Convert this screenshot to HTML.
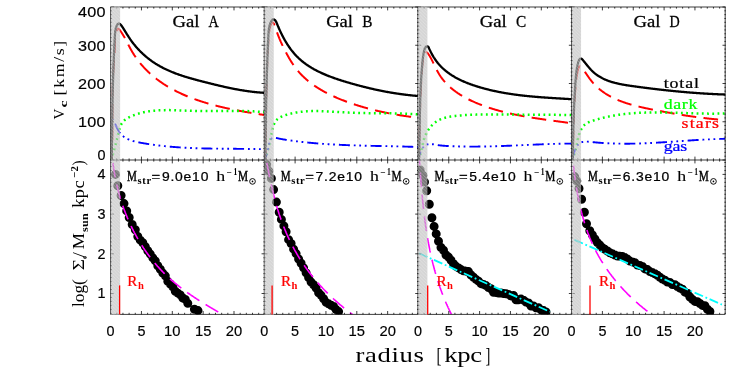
<!DOCTYPE html>
<html><head><meta charset="utf-8"><title>Rotation curves</title>
<style>html,body{margin:0;padding:0;background:#fff;}svg{display:block;}#w{width:739px;height:370px;will-change:transform;overflow:hidden;}</style></head>
<body>
<div id="w">
<svg width="739" height="370" viewBox="0 0 739 370">
<rect width="739" height="370" fill="#fff"/>
<defs>
<clipPath id="ct0"><rect x="110.60" y="7.00" width="153.65" height="153.00"/></clipPath>
<clipPath id="cb0"><rect x="110.60" y="160.00" width="153.65" height="154.40"/></clipPath>
<clipPath id="ct1"><rect x="264.25" y="7.00" width="153.65" height="153.00"/></clipPath>
<clipPath id="cb1"><rect x="264.25" y="160.00" width="153.65" height="154.40"/></clipPath>
<clipPath id="ct2"><rect x="417.90" y="7.00" width="153.65" height="153.00"/></clipPath>
<clipPath id="cb2"><rect x="417.90" y="160.00" width="153.65" height="154.40"/></clipPath>
<clipPath id="ct3"><rect x="571.55" y="7.00" width="153.65" height="153.00"/></clipPath>
<clipPath id="cb3"><rect x="571.55" y="160.00" width="153.65" height="154.40"/></clipPath>
<pattern id="hat" width="3.4" height="3.4" patternUnits="userSpaceOnUse"><path d="M-1 -1L4.4 4.4M-1 2.4L1 4.4M2.4 -1L4.4 1" stroke="#fff" stroke-width="0.7" stroke-opacity="0.35"/></pattern>
</defs>
<g clip-path="url(#ct0)">
<polyline points="111.70,160.00 111.73,159.39 111.76,158.78 111.79,158.18 111.82,157.57 111.85,156.96 111.87,156.35 111.90,155.74 111.92,155.12 111.95,154.51 111.97,153.90 111.99,153.29 112.02,152.67 112.04,152.06 112.06,151.44 112.08,150.83 112.10,150.21 112.11,149.59 112.13,148.97 112.15,148.36 112.16,147.74 112.18,147.12 112.19,146.50 112.21,145.88 112.22,145.26 112.23,144.64 112.24,144.02 112.26,143.40 112.27,142.77 112.28,142.15 112.29,141.53 112.30,140.90 112.31,140.28 112.31,139.66 112.32,139.03 112.33,138.41 112.34,137.78 112.34,137.16 112.35,136.53 112.35,135.90 112.36,135.28 112.37,134.65 112.37,134.02 112.37,133.40 112.38,132.77 112.38,132.14 112.38,131.51 112.39,130.88 112.39,130.25 112.39,129.62 112.39,129.00 112.40,128.37 112.40,127.74 112.40,127.11 112.40,126.48 112.40,125.85 112.40,125.21 112.40,124.58 112.40,123.95 112.40,123.32 112.40,122.69 112.40,122.06 112.40,121.43 112.40,120.80 112.40,120.16 112.40,119.53 112.40,118.90 112.40,118.27 112.40,117.64 112.40,117.01 112.40,116.37 112.40,115.74 112.40,115.11 112.40,114.48 112.40,113.85 112.40,113.21 112.40,112.58 112.40,111.95 112.40,111.32 112.40,110.69 112.40,110.05 112.40,109.42 112.40,108.79 112.40,108.16 112.41,107.53 112.41,106.89 112.41,106.26 112.41,105.63 112.41,105.00 112.42,104.37 112.42,103.74 112.42,103.11 112.43,102.48 112.43,101.85 112.43,101.22 112.44,100.59 112.44,99.96 112.45,99.33 112.45,98.70 112.46,98.07 112.47,97.44 112.47,96.81 112.48,96.18 112.49,95.55 112.50,94.93 112.51,94.30 112.52,93.67 112.53,93.04 112.54,92.42 112.55,91.79 112.56,91.17 112.57,90.54 112.58,89.91 112.60,89.29 112.61,88.66 112.63,88.04 112.64,87.42 112.66,86.79 112.67,86.17 112.69,85.55 112.71,84.92 112.73,84.30 112.75,83.68 112.77,83.06 112.79,82.44 112.81,81.82 112.83,81.20 112.86,80.58 112.88,79.96 112.91,79.34 112.93,78.73 112.96,78.11 112.99,77.49 113.01,76.88 113.04,76.26 113.07,75.65 113.11,75.03 113.14,74.42 113.17,73.81 113.21,73.19 113.24,72.58 113.28,71.97 113.31,71.36 113.35,70.75 113.39,70.14 113.43,69.53 113.47,68.92 113.51,68.32 113.56,67.71 113.60,67.10 113.65,66.50 113.69,65.89 113.74,65.28 113.78,64.68 113.83,64.07 113.87,63.46 113.92,62.86 113.97,62.25 114.01,61.64 114.06,61.03 114.11,60.42 114.15,59.81 114.20,59.20 114.24,58.59 114.29,57.98 114.33,57.37 114.38,56.75 114.42,56.13 114.46,55.52 114.50,54.90 114.54,54.28 114.58,53.66 114.62,53.03 114.66,52.41 114.69,51.78 114.73,51.15 114.76,50.52 114.79,49.88 114.82,49.25 114.85,48.61 114.87,47.97 114.90,47.33 114.92,46.68 114.94,46.03 114.96,45.38 114.97,44.73 114.98,44.07 114.99,43.41 115.00,42.75 115.01,42.08 115.01,41.41 115.02,40.74 115.03,40.07 115.05,39.40 115.07,38.74 115.10,38.07 115.14,37.41 115.19,36.75 115.26,36.09 115.33,35.44 115.43,34.79 115.54,34.15 115.67,33.52 115.83,32.90 116.01,32.28 116.21,31.67 116.43,31.08 116.69,30.49 116.97,29.93 117.28,29.42 117.61,29.02 117.95,28.77 118.29,28.71 118.64,28.87 118.99,29.19 119.34,29.58 119.68,29.99 120.02,30.41 120.35,30.85 120.68,31.29 121.01,31.75 121.34,32.22 121.66,32.69 121.97,33.18 122.29,33.67 122.60,34.17 122.91,34.68 123.22,35.20 123.53,35.72 123.83,36.25 124.14,36.79 124.44,37.33 124.74,37.88 125.04,38.44 125.34,39.00 125.64,39.56 125.94,40.12 126.23,40.70 126.53,41.27 126.83,41.84 127.13,42.42 127.43,43.00 127.73,43.58 128.03,44.17 128.33,44.75 128.64,45.33 128.94,45.92 129.25,46.50 129.56,47.08 129.87,47.66 130.18,48.24 130.50,48.82 130.81,49.39 131.13,49.96 131.46,50.53 131.79,51.09 132.12,51.65 132.45,52.21 132.79,52.76 133.13,53.31 133.47,53.86 133.82,54.40 134.16,54.94 134.52,55.48 134.87,56.01 135.23,56.54 135.59,57.06 135.95,57.59 136.32,58.10 136.69,58.62 137.06,59.13 137.44,59.64 137.81,60.15 138.20,60.65 138.58,61.15 138.97,61.64 139.36,62.14 139.75,62.62 140.14,63.11 140.54,63.59 140.94,64.07 141.34,64.55 141.75,65.02 142.16,65.49 142.57,65.96 142.98,66.42 143.40,66.88 143.82,67.34 144.24,67.80 144.66,68.25 145.09,68.69 145.52,69.14 145.95,69.58 146.38,70.02 146.82,70.46 147.26,70.89 147.70,71.32 148.14,71.75 148.59,72.17 149.04,72.59 149.49,73.01 149.94,73.43 150.40,73.84 150.85,74.25 151.31,74.65 151.78,75.06 152.24,75.46 152.71,75.86 153.18,76.25 153.65,76.64 154.12,77.03 154.60,77.42 155.08,77.80 155.56,78.18 156.04,78.56 156.52,78.94 157.01,79.31 157.50,79.68 157.99,80.05 158.48,80.41 158.98,80.77 159.47,81.13 159.97,81.49 160.47,81.84 160.98,82.19 161.48,82.54 161.99,82.89 162.50,83.23 163.01,83.57 163.52,83.91 164.03,84.25 164.55,84.58 165.07,84.91 165.59,85.24 166.11,85.56 166.63,85.89 167.16,86.21 167.68,86.53 168.21,86.84 168.74,87.15 169.28,87.47 169.81,87.77 170.34,88.08 170.88,88.38 171.42,88.69 171.96,88.98 172.50,89.28 173.05,89.57 173.59,89.87 174.14,90.16 174.69,90.44 175.24,90.73 175.79,91.01 176.34,91.29 176.89,91.57 177.45,91.85 178.01,92.12 178.57,92.39 179.12,92.66 179.69,92.93 180.25,93.19 180.81,93.46 181.38,93.72 181.94,93.98 182.51,94.23 183.08,94.49 183.65,94.74 184.22,94.99 184.80,95.24 185.37,95.48 185.95,95.73 186.52,95.97 187.10,96.21 187.68,96.45 188.26,96.68 188.84,96.92 189.42,97.15 190.01,97.38 190.59,97.61 191.18,97.84 191.76,98.06 192.35,98.28 192.94,98.50 193.53,98.72 194.12,98.94 194.71,99.16 195.30,99.37 195.89,99.58 196.49,99.79 197.08,100.00 197.68,100.20 198.28,100.41 198.87,100.61 199.47,100.81 200.07,101.01 200.67,101.21 201.27,101.40 201.87,101.60 202.47,101.79 203.08,101.98 203.68,102.17 204.28,102.36 204.89,102.54 205.49,102.73 206.10,102.91 206.71,103.09 207.31,103.27 207.92,103.45 208.53,103.63 209.14,103.80 209.75,103.98 210.36,104.15 210.97,104.32 211.58,104.49 212.19,104.66 212.80,104.82 213.42,104.99 214.03,105.15 214.64,105.31 215.26,105.47 215.87,105.63 216.48,105.79 217.10,105.94 217.71,106.10 218.33,106.25 218.94,106.41 219.56,106.56 220.18,106.71 220.79,106.86 221.41,107.00 222.02,107.15 222.64,107.29 223.26,107.44 223.87,107.58 224.49,107.72 225.11,107.86 225.73,108.00 226.34,108.14 226.96,108.27 227.58,108.41 228.20,108.54 228.81,108.68 229.43,108.81 230.05,108.94 230.67,109.07 231.28,109.20 231.90,109.32 232.52,109.45 233.13,109.58 233.75,109.70 234.37,109.83 234.99,109.95 235.60,110.07 236.22,110.19 236.83,110.31 237.45,110.43 238.07,110.55 238.68,110.67 239.30,110.78 239.91,110.90 240.52,111.01 241.14,111.13 241.75,111.24 242.37,111.35 242.98,111.46 243.59,111.57 244.20,111.68 244.82,111.79 245.43,111.90 246.04,112.01 246.65,112.11 247.26,112.22 247.87,112.32 248.48,112.43 249.08,112.53 249.69,112.64 250.30,112.74 250.91,112.84 251.51,112.94 252.12,113.04 252.72,113.14 253.33,113.24 253.93,113.34 254.53,113.44 255.13,113.54 255.73,113.63 256.34,113.73 256.93,113.83 257.53,113.92 258.13,114.02 258.73,114.11 259.33,114.21 259.92,114.30 260.52,114.40 261.11,114.49 261.70,114.58 262.29,114.67 262.89,114.77 263.48,114.86 264.06,114.95" fill="none" stroke="#ff0000" stroke-width="2.0" stroke-dasharray="14.7 7.3" stroke-dashoffset="2.79" stroke-linecap="butt" stroke-linejoin="round" />
<polyline points="110.95,160.03 111.08,159.67 111.20,159.32 111.32,158.96 111.45,158.61 111.57,158.26 111.69,157.91 111.81,157.55 111.93,157.20 112.05,156.85 112.16,156.50 112.28,156.15 112.39,155.80 112.50,155.45 112.62,155.10 112.73,154.75 112.84,154.40 112.95,154.05 113.06,153.70 113.16,153.35 113.27,153.00 113.38,152.65 113.48,152.30 113.59,151.95 113.69,151.60 113.79,151.25 113.90,150.90 114.00,150.55 114.10,150.20 114.20,149.85 114.30,149.50 114.40,149.15 114.49,148.80 114.59,148.45 114.69,148.10 114.78,147.75 114.88,147.40 114.97,147.05 115.07,146.70 115.16,146.35 115.25,145.99 115.35,145.64 115.44,145.29 115.53,144.93 115.62,144.58 115.71,144.22 115.80,143.87 115.89,143.51 115.98,143.16 116.07,142.80 116.16,142.44 116.25,142.09 116.34,141.73 116.43,141.37 116.51,141.01 116.60,140.65 116.69,140.29 116.78,139.93 116.86,139.56 116.95,139.20 117.03,138.84 117.12,138.47 117.21,138.11 117.29,137.74 117.38,137.37 117.46,137.01 117.55,136.64 117.64,136.27 117.72,135.90 117.81,135.52 117.89,135.15 117.98,134.78 118.06,134.40 118.15,134.03 118.23,133.65 118.32,133.27 118.41,132.89 118.50,132.52 118.59,132.14 118.68,131.76 118.77,131.39 118.86,131.01 118.96,130.63 119.06,130.26 119.16,129.89 119.26,129.52 119.37,129.15 119.48,128.78 119.59,128.42 119.70,128.06 119.82,127.70 119.95,127.34 120.07,126.99 120.21,126.64 120.34,126.29 120.48,125.95 120.63,125.61 120.78,125.27 120.94,124.94 121.10,124.62 121.26,124.30 121.44,123.98 121.62,123.67 121.80,123.37 121.99,123.07 122.19,122.77 122.40,122.49 122.61,122.20 122.83,121.93 123.06,121.66 123.30,121.40 123.54,121.14 123.78,120.89 124.04,120.65 124.30,120.41 124.57,120.18 124.84,119.95 125.11,119.73 125.40,119.51 125.68,119.30 125.98,119.10 126.27,118.89 126.57,118.70 126.88,118.50 127.19,118.31 127.50,118.13 127.81,117.95 128.13,117.77 128.45,117.60 128.78,117.43 129.10,117.26 129.43,117.10 129.76,116.94 130.09,116.78 130.43,116.62 130.76,116.47 131.10,116.32 131.43,116.18 131.77,116.03 132.11,115.89 132.44,115.75 132.78,115.61 133.12,115.47 133.46,115.34 133.80,115.21 134.14,115.08 134.48,114.95 134.83,114.82 135.17,114.70 135.51,114.58 135.86,114.46 136.20,114.34 136.54,114.22 136.89,114.11 137.24,114.00 137.58,113.89 137.93,113.78 138.28,113.68 138.62,113.57 138.97,113.47 139.32,113.37 139.67,113.27 140.02,113.18 140.37,113.08 140.72,112.99 141.07,112.90 141.42,112.81 141.78,112.72 142.13,112.63 142.48,112.55 142.84,112.47 143.19,112.39 143.54,112.31 143.90,112.23 144.25,112.16 144.61,112.08 144.97,112.01 145.32,111.94 145.68,111.87 146.04,111.80 146.39,111.74 146.75,111.68 147.11,111.61 147.47,111.55 147.83,111.49 148.19,111.43 148.55,111.38 148.91,111.32 149.27,111.27 149.63,111.22 149.99,111.17 150.35,111.12 150.72,111.07 151.08,111.02 151.44,110.98 151.81,110.93 152.17,110.89 152.53,110.85 152.90,110.81 153.26,110.77 153.63,110.73 153.99,110.70 154.36,110.66 154.72,110.63 155.09,110.60 155.45,110.57 155.82,110.54 156.19,110.51 156.56,110.48 156.92,110.45 157.29,110.43 157.66,110.40 158.03,110.38 158.40,110.36 158.76,110.34 159.13,110.32 159.50,110.30 159.87,110.28 160.24,110.26 160.61,110.25 160.98,110.23 161.35,110.22 161.72,110.20 162.09,110.19 162.46,110.18 162.84,110.17 163.21,110.16 163.58,110.15 163.95,110.14 164.32,110.14 164.70,110.13 165.07,110.13 165.44,110.12 165.81,110.12 166.19,110.11 166.56,110.11 166.93,110.11 167.30,110.11 167.68,110.11 168.05,110.11 168.43,110.11 168.80,110.11 169.17,110.12 169.55,110.12 169.92,110.12 170.30,110.13 170.67,110.13 171.04,110.14 171.42,110.14 171.79,110.15 172.17,110.16 172.54,110.17 172.92,110.17 173.29,110.18 173.67,110.19 174.04,110.20 174.42,110.21 174.79,110.22 175.17,110.23 175.55,110.24 175.92,110.25 176.30,110.27 176.67,110.28 177.05,110.29 177.42,110.30 177.80,110.32 178.17,110.33 178.55,110.34 178.93,110.36 179.30,110.37 179.68,110.38 180.05,110.40 180.43,110.41 180.80,110.43 181.18,110.44 181.55,110.46 181.93,110.47 182.31,110.49 182.68,110.50 183.06,110.52 183.43,110.54 183.81,110.55 184.18,110.57 184.56,110.58 184.93,110.60 185.31,110.61 185.68,110.63 186.06,110.64 186.43,110.66 186.81,110.68 187.18,110.69 187.56,110.71 187.93,110.72 188.31,110.74 188.68,110.75 189.05,110.77 189.43,110.78 189.80,110.79 190.18,110.81 190.55,110.82 190.92,110.84 191.30,110.85 191.67,110.86 192.04,110.87 192.42,110.89 192.79,110.90 193.16,110.91 193.53,110.92 193.91,110.93 194.28,110.94 194.65,110.95 195.02,110.96 195.39,110.97 195.76,110.98 196.14,110.99 196.51,111.00 196.88,111.01 197.25,111.02 197.62,111.02 197.99,111.03 198.36,111.04 198.73,111.04 199.10,111.05 199.47,111.05 199.84,111.06 200.21,111.06 200.58,111.07 200.95,111.07 201.31,111.08 201.68,111.08 202.05,111.08 202.42,111.09 202.79,111.09 203.16,111.09 203.53,111.09 203.89,111.10 204.26,111.10 204.63,111.10 205.00,111.10 205.36,111.10 205.73,111.10 206.10,111.10 206.47,111.10 206.83,111.10 207.20,111.10 207.57,111.10 207.93,111.10 208.30,111.10 208.67,111.10 209.03,111.10 209.40,111.10 209.77,111.10 210.13,111.09 210.50,111.09 210.86,111.09 211.23,111.09 211.60,111.09 211.96,111.08 212.33,111.08 212.69,111.08 213.06,111.08 213.42,111.07 213.79,111.07 214.15,111.07 214.52,111.06 214.88,111.06 215.25,111.06 215.62,111.05 215.98,111.05 216.35,111.05 216.71,111.04 217.08,111.04 217.44,111.03 217.80,111.03 218.17,111.03 218.53,111.02 218.90,111.02 219.26,111.02 219.63,111.01 219.99,111.01 220.36,111.00 220.72,111.00 221.09,111.00 221.45,110.99 221.82,110.99 222.18,110.98 222.54,110.98 222.91,110.98 223.27,110.97 223.64,110.97 224.00,110.96 224.37,110.96 224.73,110.96 225.10,110.95 225.46,110.95 225.82,110.95 226.19,110.94 226.55,110.94 226.92,110.94 227.28,110.93 227.65,110.93 228.01,110.93 228.38,110.93 228.74,110.92 229.11,110.92 229.47,110.92 229.84,110.92 230.20,110.91 230.57,110.91 230.93,110.91 231.30,110.91 231.66,110.91 232.03,110.91 232.39,110.91 232.76,110.91 233.12,110.90 233.49,110.90 233.85,110.90 234.22,110.90 234.58,110.90 234.95,110.91 235.31,110.91 235.68,110.91 236.04,110.91 236.41,110.91 236.78,110.91 237.14,110.91 237.51,110.92 237.87,110.92 238.24,110.92 238.61,110.92 238.97,110.93 239.34,110.93 239.71,110.94 240.07,110.94 240.44,110.94 240.81,110.95 241.17,110.95 241.54,110.96 241.91,110.97 242.27,110.97 242.64,110.98 243.01,110.99 243.38,110.99 243.74,111.00 244.11,111.01 244.48,111.02 244.85,111.03 245.22,111.04 245.59,111.05 245.95,111.06 246.32,111.07 246.69,111.08 247.06,111.09 247.43,111.10 247.80,111.11 248.17,111.12 248.54,111.14 248.91,111.15 249.28,111.16 249.65,111.18 250.02,111.19 250.39,111.21 250.76,111.23 251.13,111.24 251.50,111.26 251.87,111.28 252.24,111.29 252.61,111.31 252.98,111.33 253.36,111.35 253.73,111.37 254.10,111.39 254.47,111.41 254.85,111.43 255.22,111.45 255.59,111.48 255.96,111.50 256.34,111.52 256.71,111.55 257.08,111.57 257.46,111.60 257.83,111.62 258.21,111.65 258.58,111.68 258.96,111.70 259.33,111.73 259.71,111.76 260.08,111.79 260.46,111.82 260.83,111.85 261.21,111.88 261.59,111.91 261.96,111.95 262.34,111.98 262.72,112.01 263.09,112.05 263.47,112.08 263.85,112.12 264.23,112.16" fill="none" stroke="#00ff00" stroke-width="2.5" stroke-dasharray="1.8 3.43" stroke-linecap="butt" stroke-linejoin="round" />
<polyline points="110.85,121.66 111.00,121.18 111.16,120.78 111.30,120.44 111.45,120.15 111.60,119.93 111.75,119.75 111.90,119.63 112.05,119.55 112.20,119.52 112.35,119.53 112.49,119.58 112.64,119.66 112.79,119.77 112.93,119.91 113.08,120.07 113.22,120.26 113.37,120.46 113.51,120.68 113.65,120.91 113.79,121.15 113.93,121.40 114.07,121.66 114.21,121.93 114.35,122.20 114.49,122.48 114.63,122.77 114.77,123.06 114.91,123.36 115.04,123.67 115.18,123.98 115.32,124.29 115.47,124.61 115.61,124.93 115.75,125.25 115.90,125.58 116.04,125.91 116.19,126.24 116.34,126.57 116.49,126.90 116.64,127.24 116.79,127.57 116.95,127.90 117.11,128.23 117.27,128.57 117.43,128.90 117.60,129.22 117.77,129.55 117.94,129.87 118.11,130.19 118.29,130.50 118.47,130.81 118.66,131.12 118.84,131.42 119.04,131.71 119.23,132.00 119.43,132.29 119.63,132.56 119.84,132.84 120.05,133.11 120.26,133.37 120.48,133.63 120.70,133.88 120.92,134.13 121.15,134.37 121.38,134.61 121.61,134.84 121.85,135.07 122.09,135.29 122.33,135.51 122.57,135.73 122.82,135.94 123.07,136.14 123.33,136.34 123.58,136.54 123.84,136.73 124.10,136.92 124.37,137.11 124.63,137.29 124.90,137.46 125.17,137.64 125.45,137.81 125.73,137.97 126.01,138.13 126.29,138.29 126.57,138.45 126.86,138.60 127.14,138.74 127.43,138.89 127.73,139.03 128.02,139.17 128.32,139.30 128.61,139.43 128.91,139.56 129.22,139.69 129.52,139.81 129.82,139.93 130.13,140.05 130.44,140.16 130.75,140.27 131.06,140.38 131.38,140.49 131.69,140.59 132.01,140.69 132.32,140.79 132.64,140.89 132.96,140.99 133.28,141.08 133.60,141.17 133.93,141.26 134.25,141.34 134.58,141.43 134.90,141.51 135.23,141.59 135.56,141.67 135.89,141.75 136.22,141.83 136.55,141.90 136.88,141.98 137.21,142.05 137.54,142.12 137.88,142.19 138.21,142.26 138.54,142.33 138.88,142.39 139.21,142.46 139.55,142.52 139.88,142.59 140.22,142.65 140.55,142.71 140.89,142.78 141.23,142.84 141.56,142.90 141.90,142.96 142.23,143.02 142.57,143.08 142.90,143.14 143.24,143.20 143.58,143.25 143.91,143.31 144.25,143.37 144.58,143.43 144.92,143.48 145.25,143.54 145.59,143.60 145.92,143.65 146.26,143.71 146.59,143.76 146.93,143.81 147.26,143.87 147.60,143.92 147.94,143.97 148.27,144.03 148.61,144.08 148.94,144.13 149.28,144.18 149.61,144.23 149.95,144.28 150.28,144.33 150.62,144.38 150.95,144.43 151.29,144.48 151.62,144.53 151.95,144.58 152.29,144.63 152.62,144.67 152.96,144.72 153.29,144.77 153.63,144.81 153.96,144.86 154.30,144.91 154.63,144.95 154.97,145.00 155.30,145.04 155.64,145.08 155.97,145.13 156.30,145.17 156.64,145.21 156.97,145.26 157.31,145.30 157.64,145.34 157.98,145.38 158.31,145.42 158.65,145.47 158.98,145.51 159.31,145.55 159.65,145.59 159.98,145.63 160.32,145.66 160.65,145.70 160.99,145.74 161.32,145.78 161.65,145.82 161.99,145.86 162.32,145.89 162.66,145.93 162.99,145.97 163.32,146.00 163.66,146.04 163.99,146.07 164.33,146.11 164.66,146.14 164.99,146.18 165.33,146.21 165.66,146.25 165.99,146.28 166.33,146.31 166.66,146.35 167.00,146.38 167.33,146.41 167.66,146.44 168.00,146.47 168.33,146.51 168.67,146.54 169.00,146.57 169.33,146.60 169.67,146.63 170.00,146.66 170.33,146.69 170.67,146.72 171.00,146.75 171.33,146.77 171.67,146.80 172.00,146.83 172.33,146.86 172.67,146.89 173.00,146.91 173.34,146.94 173.67,146.97 174.00,146.99 174.34,147.02 174.67,147.05 175.00,147.07 175.34,147.10 175.67,147.12 176.00,147.15 176.34,147.17 176.67,147.20 177.00,147.22 177.34,147.24 177.67,147.27 178.00,147.29 178.34,147.31 178.67,147.34 179.00,147.36 179.34,147.38 179.67,147.40 180.00,147.42 180.34,147.45 180.67,147.47 181.00,147.49 181.34,147.51 181.67,147.53 182.00,147.55 182.34,147.57 182.67,147.59 183.00,147.61 183.33,147.63 183.67,147.65 184.00,147.67 184.33,147.69 184.67,147.70 185.00,147.72 185.33,147.74 185.67,147.76 186.00,147.78 186.33,147.79 186.67,147.81 187.00,147.83 187.33,147.84 187.67,147.86 188.00,147.88 188.33,147.89 188.66,147.91 189.00,147.92 189.33,147.94 189.66,147.95 190.00,147.97 190.33,147.98 190.66,148.00 191.00,148.01 191.33,148.03 191.66,148.04 192.00,148.06 192.33,148.07 192.66,148.08 192.99,148.10 193.33,148.11 193.66,148.12 193.99,148.13 194.33,148.15 194.66,148.16 194.99,148.17 195.33,148.18 195.66,148.20 195.99,148.21 196.32,148.22 196.66,148.23 196.99,148.24 197.32,148.25 197.66,148.26 197.99,148.27 198.32,148.28 198.66,148.29 198.99,148.30 199.32,148.31 199.66,148.32 199.99,148.33 200.32,148.34 200.65,148.35 200.99,148.36 201.32,148.37 201.65,148.38 201.99,148.39 202.32,148.40 202.65,148.41 202.99,148.41 203.32,148.42 203.65,148.43 203.99,148.44 204.32,148.45 204.65,148.45 204.98,148.46 205.32,148.47 205.65,148.48 205.98,148.48 206.32,148.49 206.65,148.50 206.98,148.50 207.32,148.51 207.65,148.52 207.98,148.52 208.32,148.53 208.65,148.54 208.98,148.54 209.32,148.55 209.65,148.56 209.98,148.56 210.32,148.57 210.65,148.57 210.98,148.58 211.32,148.58 211.65,148.59 211.98,148.59 212.32,148.60 212.65,148.60 212.98,148.61 213.31,148.61 213.65,148.62 213.98,148.62 214.32,148.63 214.65,148.63 214.98,148.64 215.32,148.64 215.65,148.65 215.98,148.65 216.32,148.65 216.65,148.66 216.98,148.66 217.32,148.67 217.65,148.67 217.98,148.67 218.32,148.68 218.65,148.68 218.98,148.68 219.32,148.69 219.65,148.69 219.98,148.70 220.32,148.70 220.65,148.70 220.99,148.71 221.32,148.71 221.65,148.71 221.99,148.71 222.32,148.72 222.65,148.72 222.99,148.72 223.32,148.73 223.65,148.73 223.99,148.73 224.32,148.73 224.66,148.74 224.99,148.74 225.32,148.74 225.66,148.75 225.99,148.75 226.33,148.75 226.66,148.75 226.99,148.76 227.33,148.76 227.66,148.76 228.00,148.76 228.33,148.77 228.66,148.77 229.00,148.77 229.33,148.77 229.67,148.78 230.00,148.78 230.33,148.78 230.67,148.78 231.00,148.79 231.34,148.79 231.67,148.79 232.01,148.79 232.34,148.79 232.67,148.80 233.01,148.80 233.34,148.80 233.68,148.80 234.01,148.81 234.35,148.81 234.68,148.81 235.02,148.81 235.35,148.82 235.68,148.82 236.02,148.82 236.35,148.82 236.69,148.83 237.02,148.83 237.36,148.83 237.69,148.83 238.03,148.84 238.36,148.84 238.70,148.84 239.03,148.84 239.37,148.85 239.70,148.85 240.04,148.85 240.37,148.86 240.71,148.86 241.04,148.86 241.38,148.86 241.71,148.87 242.05,148.87 242.38,148.87 242.72,148.88 243.05,148.88 243.39,148.88 243.72,148.89 244.06,148.89 244.39,148.89 244.73,148.90 245.06,148.90 245.40,148.90 245.73,148.91 246.07,148.91 246.40,148.92 246.74,148.92 247.08,148.92 247.41,148.93 247.75,148.93 248.08,148.94 248.42,148.94 248.75,148.95 249.09,148.95 249.43,148.95 249.76,148.96 250.10,148.96 250.43,148.97 250.77,148.97 251.10,148.98 251.44,148.98 251.78,148.99 252.11,148.99 252.45,149.00 252.78,149.00 253.12,149.01 253.46,149.02 253.79,149.02 254.13,149.03 254.47,149.03 254.80,149.04 255.14,149.05 255.47,149.05 255.81,149.06 256.15,149.06 256.48,149.07 256.82,149.08 257.16,149.08 257.49,149.09 257.83,149.10 258.17,149.11 258.50,149.11 258.84,149.12 259.18,149.13 259.51,149.14 259.85,149.14 260.19,149.15 260.53,149.16 260.86,149.17 261.20,149.18 261.54,149.19 261.87,149.19 262.21,149.20 262.55,149.21 262.89,149.22 263.22,149.23 263.56,149.24 263.90,149.25 264.23,149.26" fill="none" stroke="#0000ff" stroke-width="1.9" stroke-dasharray="11 3.9 1.8 3.7 1.8 3.7 1.8 4.0" stroke-dashoffset="23.93" stroke-linecap="butt" stroke-linejoin="round" />
<polyline points="111.71,160.02 111.71,159.38 111.72,158.74 111.73,158.11 111.74,157.47 111.75,156.83 111.76,156.20 111.76,155.56 111.77,154.93 111.78,154.30 111.79,153.67 111.80,153.03 111.80,152.40 111.81,151.77 111.82,151.14 111.83,150.52 111.84,149.89 111.84,149.26 111.85,148.63 111.86,148.01 111.87,147.38 111.88,146.76 111.88,146.13 111.89,145.51 111.90,144.88 111.91,144.26 111.91,143.64 111.92,143.02 111.93,142.40 111.94,141.78 111.94,141.16 111.95,140.54 111.96,139.92 111.97,139.30 111.97,138.68 111.98,138.06 111.99,137.44 112.00,136.83 112.00,136.21 112.01,135.60 112.02,134.98 112.03,134.37 112.03,133.75 112.04,133.14 112.05,132.52 112.06,131.91 112.06,131.30 112.07,130.68 112.08,130.07 112.09,129.46 112.10,128.85 112.10,128.24 112.11,127.62 112.12,127.01 112.13,126.40 112.14,125.79 112.14,125.18 112.15,124.57 112.16,123.96 112.17,123.36 112.18,122.75 112.18,122.14 112.19,121.53 112.20,120.92 112.21,120.32 112.22,119.71 112.23,119.10 112.24,118.49 112.24,117.89 112.25,117.28 112.26,116.67 112.27,116.07 112.28,115.46 112.29,114.85 112.30,114.25 112.31,113.64 112.32,113.04 112.33,112.43 112.34,111.83 112.35,111.22 112.36,110.62 112.37,110.01 112.38,109.41 112.39,108.80 112.40,108.20 112.41,107.59 112.42,106.99 112.43,106.38 112.44,105.78 112.45,105.17 112.46,104.57 112.47,103.96 112.48,103.36 112.49,102.75 112.51,102.15 112.52,101.55 112.53,100.94 112.54,100.34 112.55,99.73 112.56,99.13 112.58,98.52 112.59,97.92 112.60,97.31 112.61,96.71 112.63,96.10 112.64,95.49 112.65,94.89 112.67,94.28 112.68,93.68 112.69,93.07 112.71,92.47 112.72,91.86 112.73,91.25 112.75,90.65 112.76,90.04 112.78,89.43 112.79,88.83 112.81,88.22 112.82,87.61 112.84,87.00 112.85,86.39 112.87,85.79 112.88,85.18 112.90,84.57 112.92,83.96 112.93,83.35 112.95,82.74 112.97,82.13 112.98,81.52 113.00,80.91 113.02,80.30 113.03,79.69 113.05,79.07 113.07,78.46 113.09,77.85 113.11,77.24 113.12,76.62 113.14,76.01 113.16,75.40 113.18,74.78 113.20,74.17 113.22,73.55 113.24,72.94 113.26,72.32 113.28,71.71 113.30,71.09 113.32,70.47 113.34,69.85 113.37,69.24 113.39,68.62 113.41,68.00 113.43,67.38 113.45,66.76 113.48,66.14 113.50,65.52 113.52,64.89 113.54,64.27 113.57,63.65 113.59,63.03 113.62,62.40 113.64,61.78 113.66,61.15 113.69,60.53 113.71,59.90 113.74,59.27 113.77,58.65 113.79,58.02 113.82,57.39 113.84,56.76 113.87,56.13 113.90,55.50 113.93,54.87 113.95,54.24 113.98,53.60 114.01,52.97 114.04,52.34 114.07,51.70 114.10,51.07 114.13,50.43 114.16,49.79 114.19,49.16 114.22,48.52 114.25,47.88 114.28,47.24 114.31,46.60 114.34,45.96 114.37,45.31 114.40,44.67 114.44,44.03 114.47,43.38 114.50,42.74 114.54,42.09 114.57,41.44 114.60,40.80 114.64,40.15 114.67,39.50 114.71,38.85 114.74,38.20 114.78,37.54 114.82,36.89 114.85,36.24 114.89,35.58 114.94,34.93 114.98,34.29 115.03,33.64 115.09,33.01 115.15,32.37 115.22,31.75 115.30,31.13 115.39,30.53 115.49,29.93 115.60,29.34 115.72,28.77 115.86,28.21 116.00,27.66 116.17,27.13 116.35,26.62 116.54,26.12 116.76,25.65 116.99,25.19 117.24,24.76 117.51,24.37 117.79,24.03 118.10,23.78 118.41,23.60 118.74,23.54 119.09,23.57 119.44,23.71 119.80,23.92 120.18,24.22 120.56,24.58 120.94,25.01 121.33,25.48 121.72,26.00 122.11,26.56 122.50,27.14 122.89,27.74 123.28,28.35 123.66,28.95 124.03,29.55 124.40,30.14 124.77,30.73 125.12,31.30 125.48,31.87 125.82,32.42 126.17,32.98 126.51,33.52 126.85,34.06 127.18,34.59 127.51,35.11 127.85,35.63 128.18,36.15 128.50,36.66 128.83,37.16 129.16,37.66 129.49,38.16 129.82,38.65 130.15,39.14 130.49,39.62 130.83,40.11 131.16,40.59 131.51,41.07 131.85,41.54 132.20,42.02 132.56,42.49 132.92,42.96 133.28,43.43 133.65,43.90 134.03,44.37 134.41,44.84 134.79,45.31 135.17,45.77 135.56,46.23 135.96,46.69 136.36,47.15 136.76,47.61 137.17,48.06 137.58,48.52 138.00,48.97 138.41,49.42 138.84,49.86 139.26,50.31 139.69,50.75 140.13,51.19 140.56,51.63 141.00,52.06 141.45,52.50 141.90,52.93 142.35,53.35 142.80,53.78 143.26,54.20 143.72,54.62 144.18,55.03 144.65,55.45 145.12,55.86 145.59,56.26 146.07,56.67 146.54,57.07 147.03,57.46 147.51,57.86 148.00,58.25 148.48,58.63 148.98,59.02 149.47,59.40 149.97,59.77 150.47,60.14 150.97,60.51 151.47,60.88 151.98,61.24 152.48,61.59 152.99,61.95 153.50,62.29 154.02,62.64 154.53,62.98 155.05,63.31 155.57,63.65 156.09,63.97 156.62,64.30 157.14,64.62 157.67,64.94 158.20,65.25 158.73,65.56 159.26,65.86 159.80,66.17 160.33,66.46 160.87,66.76 161.41,67.05 161.95,67.34 162.49,67.62 163.04,67.90 163.58,68.18 164.13,68.46 164.68,68.73 165.23,69.00 165.78,69.26 166.34,69.52 166.89,69.78 167.45,70.04 168.01,70.29 168.56,70.54 169.13,70.79 169.69,71.04 170.25,71.28 170.81,71.52 171.38,71.75 171.95,71.99 172.52,72.22 173.08,72.44 173.66,72.67 174.23,72.89 174.80,73.11 175.37,73.33 175.95,73.55 176.52,73.76 177.10,73.97 177.68,74.18 178.26,74.39 178.84,74.60 179.42,74.80 180.00,75.00 180.58,75.20 181.17,75.39 181.75,75.59 182.34,75.78 182.92,75.97 183.51,76.16 184.10,76.35 184.68,76.53 185.27,76.72 185.86,76.90 186.45,77.08 187.04,77.26 187.64,77.44 188.23,77.61 188.82,77.79 189.41,77.96 190.01,78.13 190.60,78.30 191.20,78.47 191.79,78.64 192.39,78.81 192.98,78.98 193.58,79.14 194.17,79.30 194.77,79.47 195.37,79.63 195.96,79.79 196.56,79.95 197.16,80.11 197.76,80.27 198.36,80.42 198.95,80.58 199.55,80.74 200.15,80.89 200.75,81.05 201.35,81.20 201.95,81.36 202.55,81.51 203.14,81.66 203.74,81.82 204.34,81.97 204.94,82.12 205.54,82.27 206.14,82.42 206.74,82.58 207.33,82.73 207.93,82.88 208.53,83.03 209.13,83.18 209.73,83.33 210.32,83.48 210.92,83.63 211.52,83.77 212.12,83.92 212.71,84.07 213.31,84.22 213.91,84.36 214.51,84.51 215.11,84.66 215.70,84.80 216.30,84.94 216.90,85.09 217.50,85.23 218.09,85.37 218.69,85.52 219.29,85.66 219.89,85.80 220.49,85.94 221.08,86.08 221.68,86.21 222.28,86.35 222.88,86.49 223.48,86.62 224.08,86.76 224.68,86.89 225.27,87.03 225.87,87.16 226.47,87.29 227.07,87.42 227.67,87.55 228.27,87.68 228.87,87.81 229.47,87.93 230.07,88.06 230.67,88.18 231.27,88.31 231.87,88.43 232.48,88.55 233.08,88.67 233.68,88.79 234.28,88.90 234.88,89.02 235.49,89.14 236.09,89.25 236.69,89.36 237.29,89.47 237.90,89.58 238.50,89.69 239.11,89.80 239.71,89.91 240.31,90.01 240.92,90.11 241.53,90.22 242.13,90.32 242.74,90.42 243.34,90.51 243.95,90.61 244.56,90.70 245.17,90.80 245.77,90.89 246.38,90.98 246.99,91.07 247.60,91.15 248.21,91.24 248.82,91.32 249.43,91.40 250.04,91.48 250.65,91.56 251.26,91.64 251.88,91.71 252.49,91.79 253.10,91.86 253.72,91.93 254.33,92.00 254.95,92.06 255.56,92.13 256.18,92.19 256.79,92.25 257.41,92.31 258.03,92.36 258.64,92.42 259.26,92.47 259.88,92.52 260.50,92.57 261.12,92.61 261.74,92.66 262.36,92.70 262.99,92.74 263.61,92.78 264.23,92.81" fill="none" stroke="#000" stroke-width="2.3" stroke-linecap="butt" stroke-linejoin="round" />
</g>
<g clip-path="url(#ct1)">
<polyline points="265.40,160.01 265.42,159.34 265.43,158.67 265.44,158.00 265.45,157.33 265.47,156.66 265.48,155.99 265.49,155.33 265.50,154.66 265.51,153.99 265.53,153.33 265.54,152.66 265.55,152.00 265.56,151.33 265.57,150.67 265.58,150.00 265.59,149.34 265.60,148.68 265.61,148.01 265.62,147.35 265.63,146.69 265.64,146.03 265.65,145.37 265.66,144.71 265.67,144.05 265.68,143.39 265.69,142.73 265.70,142.08 265.70,141.42 265.71,140.76 265.72,140.10 265.73,139.45 265.74,138.79 265.75,138.14 265.76,137.48 265.76,136.82 265.77,136.17 265.78,135.52 265.79,134.86 265.79,134.21 265.80,133.55 265.81,132.90 265.82,132.25 265.83,131.60 265.83,130.94 265.84,130.29 265.85,129.64 265.86,128.99 265.86,128.34 265.87,127.69 265.88,127.04 265.89,126.39 265.89,125.74 265.90,125.09 265.91,124.44 265.91,123.79 265.92,123.14 265.93,122.49 265.94,121.84 265.94,121.19 265.95,120.55 265.96,119.90 265.97,119.25 265.97,118.60 265.98,117.95 265.99,117.31 266.00,116.66 266.01,116.01 266.01,115.36 266.02,114.72 266.03,114.07 266.04,113.42 266.05,112.78 266.05,112.13 266.06,111.48 266.07,110.84 266.08,110.19 266.09,109.55 266.10,108.90 266.11,108.25 266.11,107.61 266.12,106.96 266.13,106.32 266.14,105.67 266.15,105.02 266.16,104.38 266.17,103.73 266.18,103.09 266.19,102.44 266.20,101.80 266.21,101.15 266.22,100.50 266.23,99.86 266.24,99.21 266.25,98.57 266.27,97.92 266.28,97.27 266.29,96.63 266.30,95.98 266.31,95.33 266.32,94.69 266.34,94.04 266.35,93.39 266.36,92.75 266.38,92.10 266.39,91.45 266.40,90.81 266.42,90.16 266.43,89.51 266.44,88.86 266.46,88.22 266.47,87.57 266.49,86.92 266.50,86.27 266.52,85.62 266.54,84.97 266.55,84.33 266.57,83.68 266.58,83.03 266.60,82.38 266.62,81.73 266.64,81.08 266.65,80.43 266.67,79.78 266.69,79.13 266.71,78.48 266.73,77.82 266.75,77.17 266.77,76.52 266.79,75.87 266.81,75.22 266.83,74.56 266.85,73.91 266.87,73.26 266.89,72.60 266.91,71.95 266.94,71.29 266.96,70.64 266.98,69.98 267.01,69.33 267.03,68.67 267.05,68.02 267.08,67.36 267.10,66.70 267.13,66.05 267.15,65.39 267.18,64.73 267.21,64.07 267.23,63.41 267.26,62.75 267.29,62.09 267.32,61.43 267.35,60.77 267.38,60.11 267.41,59.45 267.44,58.79 267.47,58.12 267.50,57.46 267.53,56.80 267.56,56.13 267.59,55.47 267.63,54.80 267.66,54.14 267.69,53.47 267.73,52.80 267.76,52.14 267.80,51.47 267.83,50.80 267.87,50.13 267.91,49.46 267.94,48.79 267.98,48.12 268.02,47.45 268.06,46.78 268.10,46.10 268.14,45.43 268.18,44.76 268.22,44.08 268.26,43.41 268.30,42.73 268.34,42.06 268.39,41.38 268.43,40.70 268.48,40.02 268.52,39.34 268.57,38.66 268.61,37.98 268.66,37.30 268.71,36.62 268.76,35.94 268.82,35.26 268.88,34.59 268.94,33.91 269.01,33.24 269.09,32.57 269.18,31.91 269.27,31.25 269.37,30.59 269.48,29.94 269.61,29.29 269.74,28.65 269.88,28.02 270.04,27.39 270.21,26.77 270.40,26.16 270.60,25.55 270.81,24.96 271.04,24.39 271.28,23.87 271.53,23.40 271.79,23.00 272.04,22.70 272.30,22.50 272.56,22.42 272.82,22.47 273.08,22.64 273.33,22.91 273.59,23.28 273.84,23.73 274.09,24.25 274.34,24.84 274.59,25.48 274.84,26.15 275.08,26.86 275.33,27.58 275.58,28.32 275.82,29.05 276.07,29.77 276.32,30.48 276.56,31.18 276.81,31.87 277.06,32.55 277.31,33.22 277.56,33.89 277.80,34.54 278.05,35.19 278.30,35.84 278.55,36.47 278.81,37.10 279.06,37.72 279.31,38.34 279.57,38.94 279.82,39.55 280.08,40.15 280.34,40.74 280.59,41.33 280.86,41.92 281.12,42.50 281.38,43.08 281.65,43.66 281.91,44.23 282.18,44.81 282.45,45.37 282.72,45.94 283.00,46.51 283.27,47.07 283.55,47.64 283.83,48.20 284.11,48.77 284.40,49.33 284.68,49.90 284.97,50.47 285.27,51.04 285.56,51.60 285.86,52.17 286.16,52.75 286.46,53.32 286.77,53.89 287.07,54.46 287.38,55.04 287.70,55.61 288.02,56.18 288.34,56.75 288.66,57.32 288.98,57.89 289.31,58.46 289.65,59.03 289.98,59.60 290.32,60.16 290.67,60.73 291.01,61.29 291.36,61.85 291.72,62.41 292.07,62.96 292.44,63.52 292.80,64.07 293.17,64.62 293.54,65.16 293.92,65.70 294.30,66.24 294.68,66.77 295.07,67.30 295.47,67.83 295.86,68.35 296.27,68.87 296.67,69.38 297.08,69.89 297.50,70.40 297.92,70.90 298.34,71.40 298.77,71.89 299.20,72.38 299.63,72.86 300.07,73.34 300.51,73.82 300.96,74.29 301.41,74.76 301.86,75.22 302.32,75.68 302.78,76.14 303.25,76.59 303.72,77.04 304.19,77.48 304.66,77.92 305.14,78.36 305.63,78.79 306.11,79.22 306.60,79.65 307.10,80.07 307.59,80.49 308.09,80.90 308.59,81.31 309.10,81.72 309.61,82.12 310.12,82.52 310.63,82.92 311.15,83.31 311.67,83.70 312.20,84.09 312.72,84.47 313.25,84.85 313.78,85.23 314.32,85.60 314.86,85.97 315.40,86.34 315.94,86.70 316.48,87.06 317.03,87.41 317.58,87.77 318.13,88.12 318.69,88.46 319.25,88.81 319.81,89.15 320.37,89.48 320.93,89.82 321.50,90.15 322.07,90.48 322.64,90.80 323.21,91.13 323.78,91.45 324.36,91.76 324.94,92.08 325.52,92.39 326.10,92.70 326.68,93.00 327.27,93.31 327.85,93.61 328.44,93.90 329.03,94.20 329.63,94.49 330.22,94.78 330.81,95.07 331.41,95.35 332.01,95.63 332.61,95.91 333.21,96.19 333.81,96.46 334.41,96.73 335.02,97.00 335.62,97.27 336.23,97.53 336.83,97.80 337.44,98.06 338.05,98.31 338.66,98.57 339.27,98.82 339.89,99.07 340.50,99.32 341.11,99.57 341.73,99.81 342.34,100.06 342.96,100.30 343.57,100.53 344.19,100.77 344.81,101.01 345.43,101.24 346.04,101.47 346.66,101.70 347.28,101.92 347.90,102.15 348.52,102.37 349.14,102.59 349.76,102.81 350.38,103.03 351.00,103.24 351.62,103.46 352.24,103.67 352.86,103.88 353.48,104.09 354.11,104.30 354.73,104.50 355.35,104.70 355.97,104.91 356.59,105.11 357.22,105.30 357.84,105.50 358.46,105.70 359.09,105.89 359.71,106.08 360.34,106.27 360.96,106.46 361.58,106.64 362.21,106.83 362.83,107.01 363.46,107.19 364.08,107.38 364.71,107.55 365.34,107.73 365.96,107.91 366.59,108.08 367.22,108.25 367.84,108.42 368.47,108.59 369.10,108.76 369.73,108.93 370.36,109.09 370.99,109.25 371.62,109.42 372.24,109.58 372.87,109.74 373.51,109.89 374.14,110.05 374.77,110.20 375.40,110.36 376.03,110.51 376.66,110.66 377.29,110.81 377.93,110.95 378.56,111.10 379.19,111.24 379.83,111.39 380.46,111.53 381.09,111.67 381.73,111.81 382.36,111.95 383.00,112.08 383.64,112.22 384.27,112.35 384.91,112.49 385.55,112.62 386.18,112.75 386.82,112.88 387.46,113.00 388.10,113.13 388.74,113.25 389.38,113.38 390.02,113.50 390.66,113.62 391.30,113.74 391.94,113.86 392.58,113.98 393.22,114.10 393.86,114.21 394.51,114.33 395.15,114.44 395.79,114.55 396.44,114.66 397.08,114.77 397.73,114.88 398.37,114.99 399.02,115.09 399.66,115.20 400.31,115.30 400.96,115.41 401.60,115.51 402.25,115.61 402.90,115.71 403.55,115.81 404.20,115.91 404.85,116.00 405.50,116.10 406.15,116.19 406.80,116.29 407.45,116.38 408.11,116.47 408.76,116.56 409.41,116.65 410.07,116.74 410.72,116.83 411.38,116.92 412.03,117.01 412.69,117.09 413.34,117.18 414.00,117.26 414.66,117.34 415.32,117.42 415.97,117.51 416.63,117.59 417.29,117.66 417.95,117.74" fill="none" stroke="#ff0000" stroke-width="2.0" stroke-dasharray="14.7 7.3" stroke-dashoffset="4.37" stroke-linecap="butt" stroke-linejoin="round" />
<polyline points="264.57,160.02 264.72,159.66 264.86,159.31 265.01,158.95 265.15,158.60 265.29,158.24 265.43,157.89 265.56,157.54 265.70,157.18 265.83,156.83 265.96,156.48 266.08,156.13 266.21,155.77 266.33,155.42 266.45,155.07 266.57,154.72 266.69,154.37 266.80,154.02 266.92,153.67 267.03,153.32 267.14,152.97 267.24,152.62 267.35,152.27 267.46,151.92 267.56,151.57 267.66,151.22 267.76,150.87 267.86,150.52 267.96,150.17 268.05,149.82 268.15,149.47 268.24,149.12 268.33,148.77 268.42,148.42 268.51,148.07 268.60,147.71 268.69,147.36 268.77,147.01 268.86,146.66 268.94,146.30 269.02,145.95 269.11,145.59 269.19,145.24 269.27,144.88 269.35,144.52 269.43,144.17 269.50,143.81 269.58,143.45 269.66,143.09 269.73,142.73 269.81,142.37 269.88,142.01 269.96,141.64 270.03,141.28 270.10,140.92 270.18,140.55 270.25,140.18 270.32,139.82 270.39,139.45 270.46,139.08 270.54,138.71 270.61,138.33 270.68,137.96 270.75,137.59 270.82,137.21 270.89,136.83 270.96,136.46 271.03,136.08 271.10,135.69 271.17,135.31 271.25,134.93 271.32,134.54 271.39,134.16 271.46,133.77 271.53,133.38 271.61,132.99 271.68,132.60 271.76,132.21 271.84,131.82 271.91,131.43 271.99,131.04 272.08,130.65 272.16,130.26 272.25,129.87 272.34,129.49 272.43,129.10 272.52,128.72 272.62,128.34 272.72,127.96 272.82,127.58 272.93,127.21 273.04,126.84 273.16,126.47 273.28,126.10 273.40,125.74 273.52,125.38 273.66,125.03 273.79,124.68 273.93,124.33 274.08,123.99 274.23,123.66 274.39,123.32 274.55,123.00 274.72,122.68 274.89,122.36 275.07,122.05 275.26,121.75 275.45,121.45 275.65,121.16 275.86,120.88 276.07,120.60 276.29,120.33 276.52,120.07 276.75,119.82 277.00,119.57 277.25,119.33 277.50,119.10 277.77,118.88 278.04,118.66 278.32,118.45 278.60,118.25 278.89,118.05 279.19,117.86 279.49,117.68 279.79,117.50 280.10,117.33 280.42,117.16 280.74,117.00 281.06,116.84 281.39,116.69 281.72,116.54 282.05,116.39 282.39,116.25 282.73,116.12 283.07,115.98 283.42,115.85 283.76,115.73 284.11,115.60 284.46,115.48 284.81,115.36 285.16,115.25 285.51,115.13 285.86,115.02 286.21,114.91 286.56,114.80 286.92,114.69 287.27,114.59 287.62,114.49 287.97,114.39 288.33,114.29 288.68,114.19 289.04,114.09 289.39,114.00 289.75,113.91 290.10,113.82 290.46,113.73 290.82,113.64 291.17,113.56 291.53,113.47 291.89,113.39 292.25,113.31 292.60,113.23 292.96,113.16 293.32,113.08 293.68,113.01 294.04,112.94 294.40,112.87 294.76,112.80 295.12,112.73 295.48,112.66 295.84,112.60 296.20,112.54 296.56,112.48 296.92,112.42 297.29,112.36 297.65,112.30 298.01,112.25 298.38,112.19 298.74,112.14 299.10,112.09 299.47,112.04 299.83,111.99 300.19,111.95 300.56,111.90 300.92,111.86 301.29,111.82 301.65,111.78 302.02,111.74 302.39,111.70 302.75,111.66 303.12,111.62 303.48,111.59 303.85,111.56 304.22,111.52 304.59,111.49 304.95,111.46 305.32,111.43 305.69,111.41 306.06,111.38 306.43,111.36 306.79,111.33 307.16,111.31 307.53,111.29 307.90,111.27 308.27,111.25 308.64,111.23 309.01,111.21 309.38,111.20 309.75,111.18 310.12,111.17 310.49,111.15 310.86,111.14 311.23,111.13 311.60,111.12 311.97,111.11 312.35,111.10 312.72,111.09 313.09,111.09 313.46,111.08 313.83,111.08 314.21,111.07 314.58,111.07 314.95,111.07 315.32,111.07 315.70,111.07 316.07,111.07 316.44,111.07 316.81,111.07 317.19,111.07 317.56,111.07 317.94,111.08 318.31,111.08 318.68,111.09 319.06,111.09 319.43,111.10 319.80,111.11 320.18,111.12 320.55,111.13 320.93,111.13 321.30,111.14 321.68,111.16 322.05,111.17 322.43,111.18 322.80,111.19 323.18,111.20 323.55,111.22 323.92,111.23 324.30,111.24 324.68,111.26 325.05,111.28 325.43,111.29 325.80,111.31 326.18,111.32 326.55,111.34 326.93,111.36 327.30,111.38 327.68,111.39 328.05,111.41 328.43,111.43 328.80,111.45 329.18,111.47 329.56,111.49 329.93,111.51 330.31,111.53 330.68,111.55 331.06,111.57 331.43,111.60 331.81,111.62 332.19,111.64 332.56,111.66 332.94,111.68 333.31,111.71 333.69,111.73 334.07,111.75 334.44,111.77 334.82,111.80 335.19,111.82 335.57,111.84 335.94,111.87 336.32,111.89 336.69,111.91 337.07,111.94 337.45,111.96 337.82,111.98 338.20,112.01 338.57,112.03 338.95,112.05 339.32,112.08 339.70,112.10 340.07,112.12 340.45,112.15 340.82,112.17 341.20,112.19 341.57,112.22 341.95,112.24 342.32,112.26 342.70,112.28 343.07,112.31 343.45,112.33 343.82,112.35 344.19,112.37 344.57,112.39 344.94,112.41 345.32,112.43 345.69,112.45 346.06,112.48 346.44,112.50 346.81,112.51 347.18,112.53 347.56,112.55 347.93,112.57 348.30,112.59 348.68,112.61 349.05,112.63 349.42,112.64 349.79,112.66 350.17,112.68 350.54,112.69 350.91,112.71 351.28,112.72 351.65,112.74 352.03,112.75 352.40,112.77 352.77,112.78 353.14,112.80 353.51,112.81 353.88,112.82 354.25,112.83 354.62,112.85 355.00,112.86 355.37,112.87 355.74,112.88 356.11,112.89 356.48,112.90 356.85,112.92 357.22,112.93 357.59,112.94 357.96,112.95 358.33,112.96 358.70,112.96 359.07,112.97 359.44,112.98 359.81,112.99 360.18,113.00 360.55,113.01 360.91,113.02 361.28,113.02 361.65,113.03 362.02,113.04 362.39,113.04 362.76,113.05 363.13,113.06 363.50,113.06 363.87,113.07 364.24,113.08 364.60,113.08 364.97,113.09 365.34,113.09 365.71,113.10 366.08,113.10 366.45,113.11 366.81,113.11 367.18,113.12 367.55,113.12 367.92,113.13 368.29,113.13 368.66,113.13 369.02,113.14 369.39,113.14 369.76,113.15 370.13,113.15 370.50,113.15 370.86,113.16 371.23,113.16 371.60,113.16 371.97,113.17 372.33,113.17 372.70,113.17 373.07,113.18 373.44,113.18 373.81,113.18 374.17,113.18 374.54,113.19 374.91,113.19 375.28,113.19 375.64,113.19 376.01,113.20 376.38,113.20 376.75,113.20 377.11,113.20 377.48,113.21 377.85,113.21 378.22,113.21 378.58,113.21 378.95,113.22 379.32,113.22 379.69,113.22 380.05,113.22 380.42,113.23 380.79,113.23 381.16,113.23 381.53,113.23 381.89,113.24 382.26,113.24 382.63,113.24 383.00,113.25 383.36,113.25 383.73,113.25 384.10,113.25 384.47,113.26 384.84,113.26 385.20,113.26 385.57,113.27 385.94,113.27 386.31,113.27 386.68,113.28 387.04,113.28 387.41,113.29 387.78,113.29 388.15,113.29 388.52,113.30 388.88,113.30 389.25,113.31 389.62,113.31 389.99,113.32 390.36,113.32 390.73,113.33 391.10,113.33 391.47,113.34 391.83,113.34 392.20,113.35 392.57,113.35 392.94,113.36 393.31,113.37 393.68,113.37 394.05,113.38 394.42,113.39 394.79,113.39 395.16,113.40 395.53,113.41 395.90,113.42 396.27,113.43 396.64,113.43 397.01,113.44 397.38,113.45 397.75,113.46 398.12,113.47 398.49,113.48 398.86,113.49 399.23,113.50 399.60,113.51 399.97,113.52 400.34,113.53 400.71,113.54 401.08,113.55 401.45,113.57 401.82,113.58 402.20,113.59 402.57,113.60 402.94,113.62 403.31,113.63 403.68,113.64 404.05,113.66 404.43,113.67 404.80,113.69 405.17,113.70 405.54,113.72 405.92,113.73 406.29,113.75 406.66,113.77 407.03,113.78 407.41,113.80 407.78,113.82 408.15,113.84 408.53,113.85 408.90,113.87 409.28,113.89 409.65,113.91 410.02,113.93 410.40,113.95 410.77,113.97 411.15,113.99 411.52,114.02 411.90,114.04 412.27,114.06 412.65,114.08 413.02,114.11 413.40,114.13 413.77,114.16 414.15,114.18 414.53,114.21 414.90,114.23 415.28,114.26 415.66,114.28 416.03,114.31 416.41,114.34 416.79,114.37 417.16,114.40 417.54,114.43 417.92,114.46" fill="none" stroke="#00ff00" stroke-width="2.5" stroke-dasharray="1.8 3.43" stroke-linecap="butt" stroke-linejoin="round" />
<polyline points="264.59,159.99 264.73,159.65 264.86,159.32 264.99,159.00 265.12,158.67 265.25,158.35 265.37,158.03 265.49,157.72 265.61,157.40 265.73,157.09 265.84,156.78 265.95,156.47 266.06,156.16 266.17,155.85 266.28,155.54 266.38,155.23 266.48,154.93 266.58,154.62 266.68,154.31 266.77,154.00 266.87,153.69 266.96,153.38 267.05,153.07 267.14,152.75 267.23,152.43 267.31,152.11 267.40,151.79 267.48,151.47 267.56,151.14 267.64,150.80 267.72,150.47 267.80,150.13 267.87,149.79 267.95,149.44 268.02,149.09 268.09,148.73 268.17,148.37 268.24,148.00 268.31,147.63 268.38,147.26 268.45,146.89 268.53,146.51 268.60,146.14 268.68,145.76 268.76,145.39 268.84,145.01 268.93,144.64 269.01,144.27 269.10,143.90 269.20,143.53 269.29,143.17 269.40,142.81 269.50,142.45 269.62,142.10 269.73,141.76 269.86,141.42 269.99,141.09 270.12,140.76 270.26,140.45 270.41,140.14 270.57,139.85 270.73,139.57 270.90,139.31 271.08,139.06 271.27,138.83 271.47,138.61 271.67,138.42 271.88,138.25 272.10,138.09 272.34,137.97 272.58,137.86 272.83,137.78 273.08,137.71 273.35,137.67 273.62,137.64 273.90,137.63 274.19,137.63 274.48,137.65 274.78,137.68 275.08,137.72 275.39,137.77 275.70,137.83 276.02,137.89 276.34,137.96 276.66,138.04 276.99,138.11 277.31,138.19 277.64,138.27 277.97,138.35 278.30,138.43 278.63,138.50 278.97,138.57 279.30,138.64 279.63,138.71 279.97,138.78 280.30,138.85 280.64,138.91 280.97,138.97 281.31,139.04 281.65,139.10 281.98,139.16 282.32,139.22 282.66,139.27 283.00,139.33 283.33,139.39 283.67,139.44 284.01,139.50 284.35,139.55 284.69,139.61 285.03,139.66 285.37,139.71 285.71,139.76 286.05,139.82 286.39,139.87 286.72,139.92 287.06,139.97 287.40,140.02 287.74,140.07 288.08,140.12 288.42,140.17 288.76,140.22 289.10,140.27 289.44,140.32 289.78,140.37 290.12,140.42 290.46,140.47 290.80,140.52 291.14,140.56 291.47,140.61 291.81,140.66 292.15,140.71 292.49,140.75 292.83,140.80 293.17,140.84 293.51,140.89 293.85,140.94 294.19,140.98 294.53,141.03 294.87,141.07 295.21,141.11 295.55,141.16 295.89,141.20 296.23,141.24 296.57,141.29 296.91,141.33 297.25,141.37 297.59,141.41 297.93,141.46 298.26,141.50 298.60,141.54 298.94,141.58 299.28,141.62 299.62,141.66 299.96,141.70 300.30,141.74 300.64,141.78 300.98,141.82 301.32,141.86 301.66,141.90 302.00,141.94 302.34,141.98 302.68,142.01 303.02,142.05 303.36,142.09 303.70,142.13 304.04,142.16 304.38,142.20 304.72,142.24 305.06,142.27 305.40,142.31 305.74,142.34 306.08,142.38 306.42,142.42 306.76,142.45 307.10,142.49 307.44,142.52 307.78,142.55 308.12,142.59 308.46,142.62 308.80,142.65 309.14,142.69 309.48,142.72 309.82,142.75 310.16,142.79 310.50,142.82 310.84,142.85 311.18,142.88 311.52,142.91 311.86,142.95 312.20,142.98 312.54,143.01 312.88,143.04 313.22,143.07 313.56,143.10 313.90,143.13 314.24,143.16 314.58,143.19 314.92,143.22 315.26,143.25 315.60,143.27 315.94,143.30 316.28,143.33 316.62,143.36 316.96,143.39 317.30,143.42 317.64,143.44 317.98,143.47 318.32,143.50 318.66,143.52 319.00,143.55 319.34,143.58 319.68,143.60 320.03,143.63 320.37,143.66 320.71,143.68 321.05,143.71 321.39,143.73 321.73,143.76 322.07,143.78 322.41,143.81 322.75,143.83 323.09,143.85 323.43,143.88 323.77,143.90 324.11,143.93 324.45,143.95 324.79,143.97 325.13,144.00 325.47,144.02 325.81,144.04 326.15,144.06 326.49,144.09 326.83,144.11 327.17,144.13 327.51,144.15 327.86,144.17 328.20,144.19 328.54,144.22 328.88,144.24 329.22,144.26 329.56,144.28 329.90,144.30 330.24,144.32 330.58,144.34 330.92,144.36 331.26,144.38 331.60,144.40 331.94,144.42 332.28,144.44 332.62,144.46 332.96,144.48 333.31,144.49 333.65,144.51 333.99,144.53 334.33,144.55 334.67,144.57 335.01,144.59 335.35,144.60 335.69,144.62 336.03,144.64 336.37,144.66 336.71,144.67 337.05,144.69 337.39,144.71 337.73,144.72 338.08,144.74 338.42,144.76 338.76,144.77 339.10,144.79 339.44,144.81 339.78,144.82 340.12,144.84 340.46,144.85 340.80,144.87 341.14,144.88 341.48,144.90 341.82,144.91 342.16,144.93 342.51,144.94 342.85,144.96 343.19,144.97 343.53,144.99 343.87,145.00 344.21,145.02 344.55,145.03 344.89,145.04 345.23,145.06 345.57,145.07 345.91,145.09 346.26,145.10 346.60,145.11 346.94,145.13 347.28,145.14 347.62,145.15 347.96,145.16 348.30,145.18 348.64,145.19 348.98,145.20 349.32,145.22 349.66,145.23 350.01,145.24 350.35,145.25 350.69,145.26 351.03,145.28 351.37,145.29 351.71,145.30 352.05,145.31 352.39,145.32 352.73,145.33 353.07,145.34 353.42,145.36 353.76,145.37 354.10,145.38 354.44,145.39 354.78,145.40 355.12,145.41 355.46,145.42 355.80,145.43 356.14,145.44 356.49,145.45 356.83,145.46 357.17,145.47 357.51,145.48 357.85,145.49 358.19,145.50 358.53,145.51 358.87,145.52 359.21,145.53 359.56,145.54 359.90,145.55 360.24,145.56 360.58,145.57 360.92,145.58 361.26,145.59 361.60,145.60 361.94,145.61 362.28,145.62 362.63,145.62 362.97,145.63 363.31,145.64 363.65,145.65 363.99,145.66 364.33,145.67 364.67,145.68 365.01,145.69 365.35,145.69 365.70,145.70 366.04,145.71 366.38,145.72 366.72,145.73 367.06,145.74 367.40,145.74 367.74,145.75 368.08,145.76 368.42,145.77 368.77,145.78 369.11,145.78 369.45,145.79 369.79,145.80 370.13,145.81 370.47,145.82 370.81,145.82 371.15,145.83 371.50,145.84 371.84,145.85 372.18,145.85 372.52,145.86 372.86,145.87 373.20,145.88 373.54,145.88 373.88,145.89 374.23,145.90 374.57,145.91 374.91,145.91 375.25,145.92 375.59,145.93 375.93,145.94 376.27,145.94 376.61,145.95 376.96,145.96 377.30,145.96 377.64,145.97 377.98,145.98 378.32,145.99 378.66,145.99 379.00,146.00 379.34,146.01 379.69,146.01 380.03,146.02 380.37,146.03 380.71,146.04 381.05,146.04 381.39,146.05 381.73,146.06 382.07,146.06 382.41,146.07 382.76,146.08 383.10,146.09 383.44,146.09 383.78,146.10 384.12,146.11 384.46,146.11 384.80,146.12 385.14,146.13 385.49,146.14 385.83,146.14 386.17,146.15 386.51,146.16 386.85,146.16 387.19,146.17 387.53,146.18 387.87,146.19 388.22,146.19 388.56,146.20 388.90,146.21 389.24,146.21 389.58,146.22 389.92,146.23 390.26,146.24 390.60,146.24 390.95,146.25 391.29,146.26 391.63,146.27 391.97,146.27 392.31,146.28 392.65,146.29 392.99,146.30 393.33,146.30 393.68,146.31 394.02,146.32 394.36,146.33 394.70,146.34 395.04,146.34 395.38,146.35 395.72,146.36 396.06,146.37 396.41,146.37 396.75,146.38 397.09,146.39 397.43,146.40 397.77,146.41 398.11,146.42 398.45,146.42 398.79,146.43 399.14,146.44 399.48,146.45 399.82,146.46 400.16,146.47 400.50,146.47 400.84,146.48 401.18,146.49 401.52,146.50 401.87,146.51 402.21,146.52 402.55,146.53 402.89,146.54 403.23,146.55 403.57,146.56 403.91,146.57 404.25,146.57 404.59,146.58 404.94,146.59 405.28,146.60 405.62,146.61 405.96,146.62 406.30,146.63 406.64,146.64 406.98,146.65 407.32,146.66 407.67,146.67 408.01,146.68 408.35,146.69 408.69,146.70 409.03,146.71 409.37,146.72 409.71,146.74 410.05,146.75 410.39,146.76 410.74,146.77 411.08,146.78 411.42,146.79 411.76,146.80 412.10,146.81 412.44,146.82 412.78,146.84 413.12,146.85 413.46,146.86 413.81,146.87 414.15,146.88 414.49,146.89 414.83,146.91 415.17,146.92 415.51,146.93 415.85,146.94 416.19,146.96 416.53,146.97 416.87,146.98 417.22,147.00 417.56,147.01 417.90,147.02" fill="none" stroke="#0000ff" stroke-width="1.9" stroke-dasharray="11 3.9 1.8 3.7 1.8 3.7 1.8 4.0" stroke-dashoffset="4.32" stroke-linecap="butt" stroke-linejoin="round" />
<polyline points="265.41,160.01 265.41,159.36 265.42,158.72 265.42,158.07 265.43,157.43 265.44,156.78 265.44,156.14 265.45,155.50 265.45,154.85 265.46,154.21 265.46,153.57 265.47,152.93 265.48,152.28 265.48,151.64 265.49,151.00 265.49,150.36 265.50,149.72 265.51,149.08 265.51,148.44 265.52,147.80 265.52,147.16 265.53,146.52 265.54,145.88 265.54,145.24 265.55,144.61 265.56,143.97 265.56,143.33 265.57,142.69 265.58,142.05 265.58,141.42 265.59,140.78 265.60,140.14 265.60,139.51 265.61,138.87 265.62,138.24 265.62,137.60 265.63,136.97 265.64,136.33 265.65,135.70 265.65,135.06 265.66,134.43 265.67,133.79 265.68,133.16 265.68,132.52 265.69,131.89 265.70,131.26 265.71,130.62 265.72,129.99 265.72,129.36 265.73,128.72 265.74,128.09 265.75,127.46 265.76,126.83 265.77,126.19 265.77,125.56 265.78,124.93 265.79,124.30 265.80,123.67 265.81,123.03 265.82,122.40 265.83,121.77 265.84,121.14 265.85,120.51 265.86,119.88 265.86,119.25 265.87,118.62 265.88,117.99 265.89,117.36 265.90,116.73 265.91,116.09 265.92,115.46 265.93,114.83 265.94,114.20 265.95,113.57 265.97,112.94 265.98,112.31 265.99,111.68 266.00,111.05 266.01,110.43 266.02,109.80 266.03,109.17 266.04,108.54 266.05,107.91 266.07,107.28 266.08,106.65 266.09,106.02 266.10,105.39 266.11,104.76 266.12,104.13 266.14,103.50 266.15,102.87 266.16,102.24 266.17,101.61 266.19,100.98 266.20,100.35 266.21,99.73 266.23,99.10 266.24,98.47 266.25,97.84 266.27,97.21 266.28,96.58 266.29,95.95 266.31,95.32 266.32,94.69 266.34,94.06 266.35,93.43 266.37,92.80 266.38,92.17 266.40,91.54 266.41,90.91 266.43,90.28 266.44,89.65 266.46,89.02 266.47,88.39 266.49,87.76 266.50,87.13 266.52,86.50 266.54,85.87 266.55,85.24 266.57,84.61 266.59,83.98 266.60,83.34 266.62,82.71 266.64,82.08 266.65,81.45 266.67,80.82 266.69,80.19 266.71,79.56 266.73,78.92 266.74,78.29 266.76,77.66 266.78,77.03 266.80,76.39 266.82,75.76 266.84,75.13 266.86,74.50 266.88,73.86 266.90,73.23 266.92,72.60 266.94,71.96 266.96,71.33 266.98,70.69 267.00,70.06 267.02,69.42 267.04,68.79 267.06,68.15 267.08,67.52 267.10,66.88 267.12,66.25 267.14,65.61 267.17,64.98 267.19,64.34 267.21,63.70 267.23,63.07 267.26,62.43 267.28,61.79 267.30,61.16 267.33,60.52 267.35,59.88 267.37,59.24 267.40,58.60 267.42,57.96 267.45,57.32 267.47,56.68 267.49,56.05 267.52,55.40 267.54,54.76 267.57,54.12 267.60,53.48 267.62,52.84 267.65,52.20 267.67,51.56 267.70,50.92 267.73,50.27 267.75,49.63 267.78,48.99 267.81,48.34 267.84,47.70 267.86,47.06 267.89,46.41 267.92,45.77 267.95,45.12 267.98,44.48 268.01,43.83 268.03,43.18 268.06,42.54 268.09,41.89 268.12,41.24 268.15,40.60 268.18,39.95 268.21,39.30 268.25,38.65 268.28,38.00 268.31,37.35 268.34,36.70 268.37,36.05 268.40,35.40 268.44,34.75 268.47,34.10 268.51,33.45 268.55,32.80 268.59,32.15 268.65,31.50 268.71,30.85 268.77,30.21 268.85,29.57 268.93,28.93 269.03,28.29 269.14,27.66 269.26,27.03 269.40,26.40 269.55,25.78 269.71,25.16 269.90,24.55 270.10,23.94 270.32,23.33 270.56,22.74 270.82,22.15 271.11,21.58 271.41,21.04 271.73,20.55 272.06,20.13 272.41,19.79 272.78,19.54 273.16,19.41 273.55,19.38 273.94,19.46 274.33,19.63 274.71,19.89 275.07,20.22 275.42,20.62 275.74,21.08 276.04,21.59 276.32,22.14 276.59,22.72 276.85,23.33 277.10,23.95 277.35,24.57 277.61,25.20 277.87,25.82 278.13,26.44 278.39,27.07 278.66,27.68 278.92,28.30 279.19,28.92 279.46,29.53 279.74,30.14 280.02,30.75 280.30,31.36 280.58,31.96 280.86,32.56 281.15,33.16 281.44,33.76 281.74,34.36 282.03,34.95 282.33,35.54 282.63,36.13 282.94,36.71 283.25,37.29 283.56,37.87 283.87,38.45 284.19,39.03 284.50,39.60 284.83,40.17 285.15,40.73 285.48,41.29 285.81,41.85 286.15,42.41 286.49,42.96 286.83,43.51 287.17,44.06 287.52,44.60 287.87,45.14 288.22,45.68 288.58,46.21 288.94,46.74 289.31,47.26 289.67,47.79 290.05,48.30 290.42,48.82 290.80,49.33 291.18,49.84 291.57,50.34 291.96,50.84 292.35,51.33 292.75,51.82 293.15,52.31 293.55,52.79 293.96,53.27 294.37,53.74 294.79,54.21 295.21,54.68 295.63,55.14 296.06,55.59 296.49,56.05 296.92,56.49 297.36,56.93 297.81,57.37 298.25,57.80 298.70,58.23 299.16,58.66 299.62,59.07 300.08,59.49 300.55,59.90 301.02,60.30 301.49,60.71 301.97,61.10 302.45,61.49 302.93,61.88 303.42,62.27 303.91,62.65 304.41,63.02 304.91,63.39 305.41,63.76 305.91,64.13 306.42,64.49 306.93,64.84 307.45,65.19 307.96,65.54 308.48,65.89 309.01,66.23 309.53,66.56 310.06,66.90 310.59,67.23 311.13,67.55 311.66,67.87 312.20,68.19 312.75,68.51 313.29,68.82 313.84,69.13 314.39,69.43 314.94,69.73 315.50,70.03 316.05,70.33 316.61,70.62 317.18,70.91 317.74,71.19 318.31,71.48 318.87,71.76 319.44,72.03 320.02,72.31 320.59,72.58 321.17,72.85 321.74,73.11 322.32,73.37 322.91,73.63 323.49,73.89 324.07,74.14 324.66,74.39 325.25,74.64 325.84,74.89 326.43,75.13 327.02,75.38 327.62,75.61 328.21,75.85 328.81,76.09 329.41,76.32 330.01,76.55 330.61,76.77 331.21,77.00 331.81,77.22 332.42,77.44 333.02,77.66 333.63,77.88 334.24,78.10 334.84,78.31 335.45,78.52 336.06,78.73 336.67,78.94 337.28,79.14 337.89,79.35 338.50,79.55 339.12,79.75 339.73,79.95 340.34,80.15 340.95,80.34 341.57,80.54 342.18,80.73 342.80,80.92 343.41,81.11 344.03,81.30 344.64,81.49 345.26,81.68 345.87,81.86 346.49,82.04 347.10,82.23 347.71,82.41 348.33,82.59 348.94,82.77 349.56,82.95 350.17,83.13 350.78,83.30 351.40,83.48 352.01,83.66 352.62,83.83 353.24,84.00 353.85,84.17 354.46,84.34 355.07,84.51 355.68,84.68 356.30,84.85 356.91,85.02 357.52,85.18 358.13,85.35 358.74,85.51 359.36,85.67 359.97,85.84 360.58,86.00 361.19,86.16 361.80,86.32 362.41,86.47 363.02,86.63 363.63,86.78 364.25,86.94 364.86,87.09 365.47,87.24 366.08,87.40 366.69,87.55 367.30,87.69 367.91,87.84 368.53,87.99 369.14,88.14 369.75,88.28 370.36,88.42 370.97,88.57 371.59,88.71 372.20,88.85 372.81,88.99 373.42,89.13 374.04,89.26 374.65,89.40 375.26,89.53 375.88,89.67 376.49,89.80 377.10,89.93 377.72,90.06 378.33,90.19 378.95,90.32 379.56,90.45 380.18,90.57 380.79,90.70 381.41,90.82 382.02,90.94 382.64,91.07 383.25,91.19 383.87,91.31 384.49,91.42 385.11,91.54 385.72,91.66 386.34,91.77 386.96,91.88 387.58,92.00 388.20,92.11 388.82,92.22 389.44,92.33 390.06,92.43 390.68,92.54 391.30,92.65 391.92,92.75 392.55,92.85 393.17,92.96 393.79,93.06 394.42,93.16 395.04,93.25 395.66,93.35 396.29,93.45 396.92,93.54 397.54,93.64 398.17,93.73 398.80,93.82 399.42,93.91 400.05,94.00 400.68,94.09 401.31,94.17 401.94,94.26 402.57,94.34 403.21,94.42 403.84,94.50 404.47,94.59 405.10,94.66 405.74,94.74 406.37,94.82 407.01,94.89 407.65,94.97 408.28,95.04 408.92,95.11 409.56,95.18 410.20,95.25 410.84,95.32 411.48,95.39 412.12,95.45 412.76,95.52 413.41,95.58 414.05,95.64 414.70,95.70 415.34,95.76 415.99,95.82 416.64,95.87 417.28,95.93 417.93,95.98" fill="none" stroke="#000" stroke-width="2.3" stroke-linecap="butt" stroke-linejoin="round" />
</g>
<g clip-path="url(#ct2)">
<polyline points="419.00,160.01 419.01,159.43 419.03,158.86 419.04,158.29 419.05,157.72 419.06,157.15 419.07,156.59 419.08,156.02 419.08,155.45 419.09,154.88 419.10,154.31 419.11,153.74 419.12,153.17 419.13,152.61 419.14,152.04 419.15,151.47 419.16,150.91 419.17,150.34 419.18,149.77 419.19,149.21 419.20,148.64 419.21,148.07 419.22,147.51 419.23,146.94 419.24,146.38 419.25,145.81 419.26,145.25 419.27,144.68 419.28,144.12 419.29,143.55 419.30,142.99 419.31,142.43 419.32,141.86 419.33,141.30 419.34,140.74 419.35,140.17 419.36,139.61 419.37,139.05 419.38,138.48 419.39,137.92 419.40,137.36 419.41,136.80 419.42,136.23 419.43,135.67 419.44,135.11 419.45,134.55 419.46,133.99 419.47,133.43 419.49,132.86 419.50,132.30 419.51,131.74 419.52,131.18 419.53,130.62 419.54,130.06 419.55,129.50 419.56,128.94 419.58,128.38 419.59,127.82 419.60,127.26 419.61,126.70 419.62,126.14 419.64,125.58 419.65,125.02 419.66,124.46 419.67,123.90 419.69,123.34 419.70,122.78 419.71,122.22 419.73,121.66 419.74,121.10 419.75,120.54 419.77,119.98 419.78,119.42 419.80,118.86 419.81,118.30 419.82,117.74 419.84,117.18 419.85,116.62 419.87,116.06 419.88,115.50 419.90,114.94 419.91,114.38 419.93,113.82 419.95,113.26 419.96,112.70 419.98,112.14 419.99,111.58 420.01,111.02 420.03,110.47 420.04,109.91 420.06,109.35 420.08,108.79 420.10,108.23 420.12,107.67 420.13,107.11 420.15,106.55 420.17,105.99 420.19,105.43 420.21,104.87 420.23,104.31 420.25,103.75 420.27,103.19 420.29,102.63 420.31,102.07 420.33,101.51 420.35,100.95 420.37,100.39 420.39,99.83 420.41,99.27 420.44,98.70 420.46,98.14 420.48,97.58 420.50,97.02 420.53,96.46 420.55,95.90 420.57,95.34 420.60,94.78 420.62,94.22 420.65,93.65 420.67,93.09 420.70,92.53 420.72,91.97 420.75,91.41 420.77,90.84 420.80,90.28 420.83,89.72 420.85,89.15 420.88,88.59 420.91,88.03 420.94,87.46 420.96,86.90 420.99,86.34 421.02,85.77 421.05,85.21 421.08,84.65 421.11,84.08 421.14,83.52 421.17,82.95 421.20,82.39 421.24,81.82 421.27,81.26 421.30,80.69 421.33,80.13 421.37,79.56 421.40,78.99 421.43,78.43 421.47,77.86 421.50,77.29 421.54,76.73 421.57,76.16 421.61,75.59 421.64,75.02 421.68,74.46 421.72,73.89 421.75,73.32 421.79,72.75 421.83,72.18 421.87,71.61 421.91,71.04 421.95,70.47 421.99,69.90 422.03,69.33 422.07,68.76 422.11,68.19 422.15,67.62 422.19,67.05 422.24,66.47 422.28,65.90 422.33,65.33 422.38,64.76 422.44,64.18 422.50,63.60 422.56,63.03 422.63,62.45 422.71,61.87 422.80,61.29 422.89,60.71 422.99,60.12 423.10,59.53 423.22,58.95 423.35,58.36 423.48,57.76 423.64,57.17 423.80,56.57 423.97,55.97 424.16,55.37 424.36,54.79 424.58,54.22 424.80,53.70 425.04,53.23 425.29,52.83 425.55,52.51 425.82,52.30 426.10,52.19 426.39,52.20 426.68,52.31 426.98,52.51 427.29,52.78 427.59,53.11 427.90,53.48 428.20,53.87 428.50,54.28 428.79,54.70 429.08,55.13 429.37,55.57 429.65,56.02 429.92,56.47 430.20,56.93 430.46,57.40 430.73,57.88 430.99,58.36 431.26,58.85 431.51,59.34 431.77,59.84 432.03,60.34 432.28,60.85 432.53,61.36 432.78,61.88 433.03,62.39 433.28,62.92 433.53,63.44 433.78,63.96 434.04,64.49 434.29,65.02 434.54,65.55 434.79,66.08 435.04,66.61 435.30,67.14 435.56,67.67 435.82,68.20 436.08,68.73 436.34,69.26 436.61,69.78 436.88,70.30 437.16,70.82 437.43,71.34 437.72,71.85 438.00,72.36 438.29,72.86 438.59,73.36 438.89,73.86 439.19,74.35 439.50,74.83 439.81,75.32 440.13,75.79 440.45,76.27 440.77,76.74 441.10,77.20 441.43,77.66 441.77,78.12 442.11,78.57 442.46,79.02 442.81,79.47 443.16,79.91 443.51,80.34 443.88,80.78 444.24,81.21 444.61,81.63 444.98,82.05 445.35,82.47 445.73,82.88 446.12,83.29 446.50,83.70 446.89,84.10 447.28,84.50 447.68,84.89 448.08,85.28 448.48,85.67 448.89,86.05 449.30,86.43 449.71,86.81 450.12,87.18 450.54,87.55 450.96,87.92 451.39,88.28 451.82,88.64 452.25,89.00 452.68,89.35 453.12,89.70 453.56,90.04 454.00,90.39 454.44,90.72 454.89,91.06 455.34,91.39 455.79,91.72 456.24,92.05 456.70,92.37 457.16,92.69 457.62,93.01 458.09,93.32 458.56,93.63 459.02,93.94 459.50,94.25 459.97,94.55 460.45,94.85 460.92,95.14 461.40,95.44 461.89,95.73 462.37,96.01 462.86,96.30 463.34,96.58 463.83,96.86 464.32,97.14 464.82,97.41 465.31,97.68 465.81,97.95 466.31,98.22 466.81,98.48 467.31,98.74 467.81,99.00 468.32,99.26 468.82,99.51 469.33,99.76 469.84,100.01 470.35,100.26 470.86,100.50 471.37,100.74 471.89,100.98 472.40,101.22 472.92,101.45 473.44,101.69 473.95,101.92 474.47,102.15 474.99,102.37 475.51,102.60 476.04,102.82 476.56,103.04 477.08,103.26 477.61,103.47 478.13,103.69 478.66,103.90 479.18,104.11 479.71,104.32 480.24,104.52 480.77,104.73 481.29,104.93 481.82,105.13 482.35,105.33 482.88,105.53 483.41,105.73 483.94,105.92 484.47,106.11 485.01,106.30 485.54,106.49 486.07,106.68 486.60,106.86 487.14,107.05 487.67,107.23 488.20,107.41 488.74,107.59 489.27,107.77 489.81,107.94 490.34,108.12 490.88,108.29 491.42,108.46 491.95,108.63 492.49,108.80 493.03,108.96 493.57,109.13 494.11,109.29 494.65,109.45 495.18,109.61 495.72,109.77 496.26,109.93 496.81,110.08 497.35,110.24 497.89,110.39 498.43,110.54 498.97,110.69 499.51,110.84 500.06,110.99 500.60,111.14 501.14,111.28 501.68,111.42 502.23,111.57 502.77,111.71 503.32,111.85 503.86,111.99 504.41,112.12 504.95,112.26 505.50,112.39 506.05,112.53 506.59,112.66 507.14,112.79 507.69,112.92 508.23,113.05 508.78,113.17 509.33,113.30 509.88,113.43 510.42,113.55 510.97,113.67 511.52,113.79 512.07,113.91 512.62,114.03 513.17,114.15 513.72,114.27 514.27,114.39 514.82,114.50 515.37,114.62 515.92,114.73 516.47,114.84 517.03,114.95 517.58,115.07 518.13,115.17 518.68,115.28 519.23,115.39 519.79,115.50 520.34,115.60 520.89,115.71 521.45,115.81 522.00,115.92 522.55,116.02 523.11,116.12 523.66,116.22 524.21,116.32 524.77,116.42 525.32,116.52 525.88,116.62 526.43,116.72 526.99,116.81 527.54,116.91 528.10,117.00 528.65,117.10 529.21,117.19 529.77,117.28 530.32,117.37 530.88,117.47 531.43,117.56 531.99,117.65 532.55,117.74 533.10,117.83 533.66,117.91 534.22,118.00 534.77,118.09 535.33,118.18 535.89,118.26 536.45,118.35 537.00,118.43 537.56,118.52 538.12,118.60 538.68,118.69 539.23,118.77 539.79,118.85 540.35,118.94 540.91,119.02 541.47,119.10 542.02,119.18 542.58,119.26 543.14,119.34 543.70,119.42 544.26,119.50 544.82,119.58 545.37,119.66 545.93,119.74 546.49,119.82 547.05,119.90 547.61,119.97 548.17,120.05 548.73,120.13 549.28,120.21 549.84,120.28 550.40,120.36 550.96,120.44 551.52,120.52 552.08,120.59 552.64,120.67 553.20,120.74 553.75,120.82 554.31,120.90 554.87,120.97 555.43,121.05 555.99,121.12 556.55,121.20 557.11,121.27 557.66,121.35 558.22,121.43 558.78,121.50 559.34,121.58 559.90,121.65 560.46,121.73 561.02,121.80 561.57,121.88 562.13,121.96 562.69,122.03 563.25,122.11 563.81,122.18 564.36,122.26 564.92,122.34 565.48,122.41 566.04,122.49 566.59,122.57 567.15,122.64 567.71,122.72 568.27,122.80 568.82,122.88 569.38,122.95 569.94,123.03 570.49,123.11 571.05,123.19 571.61,123.27" fill="none" stroke="#ff0000" stroke-width="2.0" stroke-dasharray="14.7 7.3" stroke-dashoffset="2.18" stroke-linecap="butt" stroke-linejoin="round" />
<polyline points="418.38,159.99 418.51,159.68 418.64,159.37 418.77,159.05 418.89,158.73 419.01,158.41 419.13,158.08 419.24,157.76 419.35,157.43 419.46,157.10 419.57,156.76 419.68,156.43 419.78,156.09 419.88,155.75 419.98,155.41 420.08,155.07 420.17,154.73 420.27,154.38 420.36,154.03 420.45,153.68 420.54,153.33 420.63,152.98 420.71,152.63 420.80,152.28 420.89,151.92 420.97,151.57 421.05,151.21 421.14,150.85 421.22,150.49 421.30,150.13 421.38,149.77 421.46,149.41 421.54,149.05 421.63,148.69 421.71,148.33 421.79,147.96 421.87,147.60 421.95,147.24 422.03,146.87 422.11,146.51 422.19,146.15 422.28,145.78 422.36,145.42 422.45,145.06 422.53,144.69 422.62,144.33 422.71,143.97 422.79,143.61 422.88,143.24 422.98,142.88 423.07,142.52 423.16,142.16 423.26,141.81 423.36,141.45 423.46,141.09 423.56,140.73 423.66,140.38 423.77,140.03 423.88,139.67 423.99,139.32 424.10,138.97 424.22,138.62 424.33,138.28 424.45,137.93 424.58,137.59 424.70,137.25 424.83,136.90 424.96,136.57 425.10,136.23 425.23,135.89 425.37,135.56 425.51,135.23 425.66,134.90 425.80,134.57 425.95,134.24 426.11,133.92 426.26,133.59 426.42,133.27 426.58,132.95 426.74,132.64 426.91,132.32 427.07,132.01 427.25,131.70 427.42,131.39 427.60,131.09 427.77,130.79 427.96,130.49 428.14,130.19 428.33,129.89 428.52,129.60 428.71,129.31 428.91,129.02 429.10,128.73 429.30,128.45 429.51,128.17 429.72,127.89 429.92,127.62 430.14,127.35 430.35,127.08 430.57,126.81 430.79,126.55 431.01,126.28 431.24,126.03 431.47,125.77 431.70,125.52 431.93,125.27 432.17,125.03 432.41,124.78 432.65,124.54 432.90,124.31 433.15,124.08 433.40,123.85 433.65,123.62 433.91,123.40 434.17,123.18 434.43,122.96 434.70,122.75 434.97,122.54 435.24,122.33 435.51,122.13 435.79,121.93 436.07,121.74 436.35,121.55 436.64,121.36 436.92,121.18 437.22,121.00 437.51,120.82 437.81,120.65 438.11,120.48 438.41,120.32 438.72,120.16 439.03,120.00 439.34,119.85 439.65,119.70 439.97,119.55 440.29,119.41 440.61,119.27 440.93,119.14 441.26,119.01 441.59,118.88 441.92,118.75 442.25,118.63 442.59,118.51 442.93,118.40 443.27,118.29 443.61,118.18 443.95,118.07 444.30,117.97 444.65,117.87 445.00,117.77 445.35,117.67 445.70,117.58 446.05,117.49 446.41,117.40 446.77,117.32 447.13,117.24 447.49,117.16 447.85,117.08 448.21,117.01 448.57,116.93 448.94,116.86 449.30,116.79 449.67,116.73 450.04,116.66 450.41,116.60 450.78,116.54 451.15,116.48 451.52,116.42 451.89,116.37 452.27,116.31 452.64,116.26 453.01,116.21 453.39,116.16 453.76,116.11 454.14,116.07 454.51,116.02 454.89,115.98 455.27,115.94 455.64,115.90 456.02,115.86 456.39,115.82 456.77,115.78 457.15,115.74 457.52,115.71 457.90,115.67 458.27,115.64 458.65,115.60 459.03,115.57 459.40,115.54 459.77,115.51 460.15,115.48 460.52,115.45 460.89,115.42 461.27,115.39 461.64,115.36 462.01,115.33 462.38,115.30 462.75,115.27 463.12,115.25 463.49,115.22 463.86,115.20 464.23,115.17 464.60,115.15 464.97,115.12 465.34,115.10 465.71,115.08 466.07,115.06 466.44,115.03 466.81,115.01 467.18,114.99 467.54,114.97 467.91,114.95 468.27,114.93 468.64,114.91 469.00,114.89 469.37,114.88 469.73,114.86 470.10,114.84 470.46,114.83 470.82,114.81 471.19,114.79 471.55,114.78 471.91,114.76 472.28,114.75 472.64,114.73 473.00,114.72 473.36,114.71 473.72,114.70 474.08,114.68 474.44,114.67 474.81,114.66 475.17,114.65 475.53,114.64 475.89,114.63 476.25,114.62 476.61,114.61 476.97,114.60 477.32,114.59 477.68,114.58 478.04,114.57 478.40,114.56 478.76,114.56 479.12,114.55 479.48,114.54 479.83,114.53 480.19,114.53 480.55,114.52 480.91,114.52 481.26,114.51 481.62,114.50 481.98,114.50 482.34,114.49 482.69,114.49 483.05,114.49 483.41,114.48 483.76,114.48 484.12,114.48 484.47,114.47 484.83,114.47 485.19,114.47 485.54,114.46 485.90,114.46 486.25,114.46 486.61,114.46 486.97,114.46 487.32,114.45 487.68,114.45 488.03,114.45 488.39,114.45 488.74,114.45 489.10,114.45 489.45,114.45 489.81,114.45 490.17,114.45 490.52,114.45 490.88,114.45 491.23,114.45 491.59,114.45 491.94,114.45 492.30,114.45 492.65,114.45 493.01,114.45 493.36,114.46 493.72,114.46 494.07,114.46 494.43,114.46 494.78,114.46 495.14,114.46 495.50,114.46 495.85,114.47 496.21,114.47 496.56,114.47 496.92,114.47 497.27,114.47 497.63,114.48 497.99,114.48 498.34,114.48 498.70,114.48 499.05,114.49 499.41,114.49 499.77,114.49 500.12,114.49 500.48,114.49 500.84,114.50 501.19,114.50 501.55,114.50 501.91,114.50 502.27,114.51 502.62,114.51 502.98,114.51 503.34,114.51 503.70,114.51 504.06,114.52 504.41,114.52 504.77,114.52 505.13,114.52 505.49,114.53 505.85,114.53 506.21,114.53 506.57,114.53 506.92,114.53 507.28,114.54 507.64,114.54 508.00,114.54 508.36,114.54 508.72,114.55 509.08,114.55 509.44,114.55 509.80,114.55 510.16,114.55 510.52,114.56 510.88,114.56 511.24,114.56 511.60,114.56 511.96,114.56 512.32,114.57 512.68,114.57 513.04,114.57 513.40,114.57 513.76,114.58 514.13,114.58 514.49,114.58 514.85,114.58 515.21,114.58 515.57,114.59 515.93,114.59 516.29,114.59 516.65,114.59 517.02,114.59 517.38,114.60 517.74,114.60 518.10,114.60 518.46,114.60 518.82,114.60 519.19,114.61 519.55,114.61 519.91,114.61 520.27,114.61 520.64,114.61 521.00,114.62 521.36,114.62 521.72,114.62 522.08,114.62 522.45,114.62 522.81,114.63 523.17,114.63 523.53,114.63 523.90,114.63 524.26,114.64 524.62,114.64 524.99,114.64 525.35,114.64 525.71,114.64 526.07,114.65 526.44,114.65 526.80,114.65 527.16,114.65 527.53,114.65 527.89,114.66 528.25,114.66 528.62,114.66 528.98,114.66 529.34,114.66 529.71,114.67 530.07,114.67 530.43,114.67 530.79,114.67 531.16,114.68 531.52,114.68 531.88,114.68 532.25,114.68 532.61,114.68 532.97,114.69 533.34,114.69 533.70,114.69 534.06,114.69 534.43,114.70 534.79,114.70 535.15,114.70 535.52,114.70 535.88,114.70 536.24,114.71 536.61,114.71 536.97,114.71 537.33,114.71 537.70,114.72 538.06,114.72 538.42,114.72 538.79,114.72 539.15,114.73 539.51,114.73 539.88,114.73 540.24,114.73 540.60,114.73 540.97,114.74 541.33,114.74 541.69,114.74 542.06,114.74 542.42,114.75 542.78,114.75 543.14,114.75 543.51,114.75 543.87,114.76 544.23,114.76 544.60,114.76 544.96,114.76 545.32,114.77 545.68,114.77 546.05,114.77 546.41,114.77 546.77,114.78 547.13,114.78 547.50,114.78 547.86,114.79 548.22,114.79 548.58,114.79 548.95,114.79 549.31,114.80 549.67,114.80 550.03,114.80 550.39,114.80 550.76,114.81 551.12,114.81 551.48,114.81 551.84,114.82 552.20,114.82 552.57,114.82 552.93,114.83 553.29,114.83 553.65,114.83 554.01,114.83 554.37,114.84 554.73,114.84 555.09,114.84 555.46,114.85 555.82,114.85 556.18,114.85 556.54,114.86 556.90,114.86 557.26,114.86 557.62,114.86 557.98,114.87 558.34,114.87 558.70,114.87 559.06,114.88 559.42,114.88 559.78,114.88 560.14,114.89 560.50,114.89 560.86,114.89 561.22,114.90 561.58,114.90 561.94,114.91 562.30,114.91 562.66,114.91 563.01,114.92 563.37,114.92 563.73,114.92 564.09,114.93 564.45,114.93 564.81,114.93 565.17,114.94 565.52,114.94 565.88,114.94 566.24,114.95 566.60,114.95 566.95,114.96 567.31,114.96 567.67,114.96 568.03,114.97 568.38,114.97 568.74,114.98 569.10,114.98 569.45,114.98 569.81,114.99 570.17,114.99 570.52,115.00 570.88,115.00 571.23,115.00 571.59,115.01" fill="none" stroke="#00ff00" stroke-width="2.5" stroke-dasharray="1.8 3.43" stroke-linecap="butt" stroke-linejoin="round" />
<polyline points="418.32,160.17 418.38,159.84 418.44,159.51 418.50,159.17 418.57,158.84 418.64,158.50 418.71,158.16 418.79,157.82 418.86,157.48 418.94,157.14 419.03,156.80 419.11,156.46 419.20,156.12 419.29,155.77 419.38,155.43 419.48,155.09 419.58,154.75 419.69,154.41 419.79,154.07 419.90,153.74 420.02,153.40 420.13,153.07 420.25,152.74 420.37,152.41 420.50,152.09 420.63,151.77 420.76,151.45 420.90,151.13 421.04,150.82 421.19,150.52 421.33,150.21 421.48,149.92 421.64,149.62 421.80,149.34 421.96,149.05 422.13,148.78 422.30,148.50 422.47,148.24 422.65,147.98 422.83,147.73 423.02,147.48 423.21,147.24 423.41,147.01 423.61,146.78 423.81,146.57 424.02,146.36 424.23,146.16 424.45,145.96 424.67,145.78 424.89,145.60 425.12,145.44 425.36,145.28 425.59,145.13 425.84,145.00 426.09,144.87 426.34,144.75 426.60,144.64 426.86,144.54 427.13,144.46 427.40,144.38 427.67,144.31 427.95,144.25 428.23,144.20 428.52,144.15 428.81,144.12 429.10,144.09 429.40,144.08 429.70,144.06 430.01,144.06 430.31,144.06 430.63,144.07 430.94,144.08 431.25,144.10 431.57,144.13 431.89,144.16 432.21,144.19 432.54,144.23 432.86,144.27 433.19,144.31 433.52,144.36 433.85,144.41 434.18,144.46 434.52,144.52 434.85,144.57 435.19,144.63 435.52,144.69 435.86,144.75 436.20,144.81 436.54,144.86 436.87,144.92 437.21,144.98 437.55,145.03 437.88,145.09 438.22,145.14 438.56,145.19 438.89,145.24 439.23,145.29 439.57,145.33 439.90,145.37 440.23,145.41 440.57,145.45 440.90,145.49 441.24,145.53 441.57,145.56 441.90,145.60 442.24,145.63 442.57,145.66 442.90,145.69 443.23,145.72 443.56,145.74 443.90,145.77 444.23,145.80 444.56,145.82 444.89,145.84 445.22,145.87 445.55,145.89 445.88,145.91 446.21,145.93 446.54,145.95 446.87,145.97 447.20,145.98 447.53,146.00 447.86,146.02 448.19,146.03 448.52,146.05 448.85,146.07 449.18,146.08 449.51,146.10 449.84,146.11 450.17,146.13 450.50,146.14 450.83,146.16 451.16,146.17 451.49,146.19 451.82,146.20 452.15,146.21 452.48,146.23 452.81,146.24 453.14,146.25 453.47,146.27 453.80,146.28 454.13,146.29 454.46,146.30 454.79,146.31 455.12,146.32 455.45,146.34 455.78,146.35 456.11,146.36 456.44,146.37 456.77,146.38 457.09,146.39 457.42,146.40 457.75,146.41 458.08,146.42 458.41,146.42 458.74,146.43 459.07,146.44 459.40,146.45 459.73,146.46 460.06,146.47 460.39,146.47 460.72,146.48 461.05,146.49 461.37,146.49 461.70,146.50 462.03,146.51 462.36,146.51 462.69,146.52 463.02,146.53 463.35,146.53 463.68,146.54 464.01,146.54 464.34,146.55 464.66,146.55 464.99,146.56 465.32,146.56 465.65,146.56 465.98,146.57 466.31,146.57 466.64,146.57 466.97,146.58 467.30,146.58 467.62,146.58 467.95,146.59 468.28,146.59 468.61,146.59 468.94,146.59 469.27,146.59 469.60,146.60 469.92,146.60 470.25,146.60 470.58,146.60 470.91,146.60 471.24,146.60 471.57,146.60 471.90,146.60 472.22,146.60 472.55,146.60 472.88,146.60 473.21,146.60 473.54,146.60 473.87,146.60 474.20,146.60 474.52,146.60 474.85,146.60 475.18,146.60 475.51,146.59 475.84,146.59 476.17,146.59 476.49,146.59 476.82,146.59 477.15,146.58 477.48,146.58 477.81,146.58 478.14,146.57 478.46,146.57 478.79,146.57 479.12,146.57 479.45,146.56 479.78,146.56 480.11,146.55 480.43,146.55 480.76,146.55 481.09,146.54 481.42,146.54 481.75,146.53 482.07,146.53 482.40,146.52 482.73,146.52 483.06,146.51 483.39,146.51 483.71,146.50 484.04,146.49 484.37,146.49 484.70,146.48 485.03,146.48 485.35,146.47 485.68,146.46 486.01,146.46 486.34,146.45 486.67,146.44 486.99,146.44 487.32,146.43 487.65,146.42 487.98,146.42 488.31,146.41 488.63,146.40 488.96,146.39 489.29,146.38 489.62,146.38 489.95,146.37 490.27,146.36 490.60,146.35 490.93,146.34 491.26,146.33 491.59,146.33 491.91,146.32 492.24,146.31 492.57,146.30 492.90,146.29 493.22,146.28 493.55,146.27 493.88,146.26 494.21,146.25 494.54,146.24 494.86,146.23 495.19,146.22 495.52,146.21 495.85,146.20 496.17,146.19 496.50,146.18 496.83,146.17 497.16,146.16 497.48,146.15 497.81,146.14 498.14,146.13 498.47,146.12 498.80,146.11 499.12,146.10 499.45,146.09 499.78,146.07 500.11,146.06 500.43,146.05 500.76,146.04 501.09,146.03 501.42,146.02 501.74,146.00 502.07,145.99 502.40,145.98 502.73,145.97 503.05,145.96 503.38,145.94 503.71,145.93 504.04,145.92 504.37,145.91 504.69,145.90 505.02,145.88 505.35,145.87 505.68,145.86 506.00,145.85 506.33,145.83 506.66,145.82 506.99,145.81 507.31,145.79 507.64,145.78 507.97,145.77 508.30,145.75 508.62,145.74 508.95,145.73 509.28,145.72 509.61,145.70 509.93,145.69 510.26,145.68 510.59,145.66 510.92,145.65 511.24,145.63 511.57,145.62 511.90,145.61 512.23,145.59 512.55,145.58 512.88,145.57 513.21,145.55 513.54,145.54 513.86,145.52 514.19,145.51 514.52,145.50 514.85,145.48 515.17,145.47 515.50,145.45 515.83,145.44 516.16,145.43 516.48,145.41 516.81,145.40 517.14,145.38 517.47,145.37 517.79,145.36 518.12,145.34 518.45,145.33 518.78,145.31 519.10,145.30 519.43,145.28 519.76,145.27 520.09,145.26 520.42,145.24 520.74,145.23 521.07,145.21 521.40,145.20 521.73,145.18 522.05,145.17 522.38,145.15 522.71,145.14 523.04,145.13 523.36,145.11 523.69,145.10 524.02,145.08 524.35,145.07 524.67,145.05 525.00,145.04 525.33,145.02 525.66,145.01 525.98,144.99 526.31,144.98 526.64,144.97 526.97,144.95 527.29,144.94 527.62,144.92 527.95,144.91 528.28,144.89 528.60,144.88 528.93,144.86 529.26,144.85 529.59,144.84 529.92,144.82 530.24,144.81 530.57,144.79 530.90,144.78 531.23,144.76 531.55,144.75 531.88,144.74 532.21,144.72 532.54,144.71 532.86,144.69 533.19,144.68 533.52,144.67 533.85,144.65 534.18,144.64 534.50,144.62 534.83,144.61 535.16,144.60 535.49,144.58 535.81,144.57 536.14,144.56 536.47,144.54 536.80,144.53 537.13,144.51 537.45,144.50 537.78,144.49 538.11,144.47 538.44,144.46 538.76,144.45 539.09,144.43 539.42,144.42 539.75,144.41 540.08,144.39 540.40,144.38 540.73,144.37 541.06,144.36 541.39,144.34 541.72,144.33 542.04,144.32 542.37,144.30 542.70,144.29 543.03,144.28 543.36,144.27 543.68,144.25 544.01,144.24 544.34,144.23 544.67,144.22 545.00,144.20 545.32,144.19 545.65,144.18 545.98,144.17 546.31,144.16 546.64,144.14 546.96,144.13 547.29,144.12 547.62,144.11 547.95,144.10 548.28,144.09 548.60,144.08 548.93,144.06 549.26,144.05 549.59,144.04 549.92,144.03 550.25,144.02 550.57,144.01 550.90,144.00 551.23,143.99 551.56,143.98 551.89,143.97 552.22,143.96 552.54,143.95 552.87,143.94 553.20,143.93 553.53,143.92 553.86,143.91 554.19,143.90 554.51,143.89 554.84,143.88 555.17,143.87 555.50,143.86 555.83,143.85 556.16,143.84 556.48,143.83 556.81,143.82 557.14,143.82 557.47,143.81 557.80,143.80 558.13,143.79 558.46,143.78 558.78,143.77 559.11,143.77 559.44,143.76 559.77,143.75 560.10,143.74 560.43,143.74 560.76,143.73 561.09,143.72 561.41,143.71 561.74,143.71 562.07,143.70 562.40,143.69 562.73,143.69 563.06,143.68 563.39,143.67 563.72,143.67 564.04,143.66 564.37,143.66 564.70,143.65 565.03,143.65 565.36,143.64 565.69,143.63 566.02,143.63 566.35,143.62 566.68,143.62 567.00,143.61 567.33,143.61 567.66,143.61 567.99,143.60 568.32,143.60 568.65,143.59 568.98,143.59 569.31,143.59 569.64,143.58 569.97,143.58 570.30,143.58 570.63,143.57 570.95,143.57 571.28,143.57 571.61,143.57" fill="none" stroke="#0000ff" stroke-width="1.9" stroke-dasharray="11 3.9 1.8 3.7 1.8 3.7 1.8 4.0" stroke-dashoffset="2.11" stroke-linecap="butt" stroke-linejoin="round" />
<polyline points="419.00,160.00 419.02,159.45 419.03,158.90 419.05,158.35 419.06,157.81 419.08,157.26 419.09,156.71 419.10,156.16 419.12,155.61 419.13,155.06 419.14,154.51 419.16,153.96 419.17,153.41 419.18,152.86 419.20,152.31 419.21,151.76 419.22,151.21 419.23,150.66 419.24,150.10 419.25,149.55 419.27,149.00 419.28,148.45 419.29,147.89 419.30,147.34 419.31,146.79 419.32,146.23 419.33,145.68 419.34,145.12 419.35,144.57 419.36,144.01 419.37,143.46 419.38,142.90 419.39,142.35 419.40,141.79 419.41,141.24 419.42,140.68 419.43,140.12 419.44,139.57 419.45,139.01 419.46,138.45 419.46,137.90 419.47,137.34 419.48,136.78 419.49,136.23 419.50,135.67 419.51,135.11 419.52,134.55 419.53,133.99 419.54,133.44 419.54,132.88 419.55,132.32 419.56,131.76 419.57,131.20 419.58,130.64 419.59,130.08 419.60,129.52 419.61,128.96 419.61,128.40 419.62,127.84 419.63,127.29 419.64,126.73 419.65,126.17 419.66,125.61 419.67,125.05 419.68,124.49 419.69,123.93 419.70,123.37 419.71,122.81 419.72,122.25 419.72,121.69 419.73,121.12 419.74,120.56 419.75,120.00 419.76,119.44 419.77,118.88 419.78,118.32 419.80,117.76 419.81,117.20 419.82,116.64 419.83,116.08 419.84,115.52 419.85,114.96 419.86,114.40 419.87,113.84 419.88,113.28 419.90,112.72 419.91,112.16 419.92,111.60 419.93,111.04 419.95,110.48 419.96,109.92 419.97,109.36 419.98,108.80 420.00,108.24 420.01,107.68 420.03,107.12 420.04,106.56 420.05,106.00 420.07,105.44 420.08,104.88 420.10,104.32 420.11,103.76 420.13,103.20 420.15,102.64 420.16,102.08 420.18,101.52 420.20,100.96 420.21,100.40 420.23,99.84 420.25,99.29 420.27,98.73 420.28,98.17 420.30,97.61 420.32,97.05 420.34,96.50 420.36,95.94 420.38,95.38 420.40,94.82 420.42,94.27 420.44,93.71 420.46,93.15 420.49,92.60 420.51,92.04 420.53,91.48 420.55,90.93 420.58,90.37 420.60,89.81 420.63,89.26 420.65,88.70 420.68,88.15 420.70,87.59 420.73,87.04 420.75,86.49 420.78,85.93 420.81,85.38 420.83,84.82 420.86,84.27 420.89,83.72 420.92,83.17 420.95,82.61 420.98,82.06 421.01,81.51 421.04,80.96 421.07,80.41 421.10,79.85 421.14,79.30 421.17,78.75 421.20,78.20 421.24,77.65 421.27,77.10 421.31,76.55 421.34,76.01 421.38,75.46 421.41,74.91 421.45,74.36 421.49,73.81 421.53,73.27 421.57,72.72 421.61,72.17 421.65,71.63 421.69,71.08 421.73,70.53 421.77,69.99 421.81,69.44 421.85,68.90 421.90,68.36 421.94,67.81 421.99,67.27 422.03,66.73 422.08,66.18 422.12,65.64 422.17,65.10 422.22,64.56 422.27,64.02 422.32,63.48 422.37,62.94 422.42,62.40 422.47,61.85 422.53,61.31 422.58,60.77 422.64,60.22 422.70,59.67 422.77,59.12 422.83,58.57 422.90,58.01 422.98,57.45 423.05,56.88 423.13,56.31 423.22,55.74 423.31,55.16 423.40,54.57 423.50,53.98 423.61,53.39 423.71,52.78 423.83,52.17 423.95,51.55 424.08,50.93 424.22,50.31 424.38,49.71 424.57,49.13 424.78,48.58 425.03,48.06 425.31,47.60 425.63,47.18 426.01,46.83 426.43,46.55 426.87,46.37 427.31,46.30 427.71,46.38 428.06,46.60 428.36,46.94 428.63,47.37 428.88,47.87 429.12,48.39 429.35,48.93 429.59,49.46 429.84,49.98 430.08,50.51 430.33,51.03 430.59,51.55 430.84,52.06 431.11,52.57 431.37,53.08 431.64,53.58 431.91,54.08 432.18,54.58 432.46,55.08 432.74,55.57 433.03,56.06 433.31,56.54 433.61,57.02 433.90,57.50 434.20,57.97 434.51,58.44 434.82,58.90 435.13,59.37 435.44,59.82 435.76,60.28 436.08,60.73 436.41,61.17 436.74,61.61 437.08,62.05 437.42,62.49 437.76,62.92 438.11,63.34 438.46,63.76 438.81,64.18 439.17,64.59 439.54,65.00 439.90,65.40 440.27,65.81 440.65,66.20 441.03,66.59 441.41,66.98 441.80,67.36 442.19,67.74 442.58,68.12 442.98,68.49 443.38,68.86 443.79,69.22 444.20,69.58 444.61,69.94 445.02,70.29 445.44,70.64 445.86,70.99 446.29,71.33 446.72,71.67 447.15,72.00 447.58,72.33 448.02,72.66 448.46,72.98 448.91,73.30 449.35,73.61 449.80,73.93 450.26,74.24 450.71,74.54 451.17,74.84 451.63,75.14 452.09,75.44 452.56,75.73 453.03,76.02 453.50,76.31 453.97,76.59 454.45,76.87 454.93,77.14 455.41,77.42 455.89,77.69 456.38,77.95 456.87,78.22 457.36,78.48 457.85,78.74 458.34,78.99 458.84,79.24 459.34,79.49 459.84,79.74 460.34,79.98 460.84,80.22 461.35,80.46 461.86,80.70 462.37,80.93 462.88,81.16 463.39,81.39 463.90,81.61 464.42,81.83 464.93,82.05 465.45,82.27 465.97,82.48 466.49,82.70 467.02,82.91 467.54,83.11 468.07,83.32 468.59,83.52 469.12,83.72 469.65,83.92 470.18,84.11 470.71,84.31 471.24,84.50 471.77,84.69 472.30,84.87 472.84,85.06 473.37,85.24 473.91,85.42 474.44,85.60 474.98,85.78 475.51,85.95 476.05,86.12 476.59,86.29 477.13,86.46 477.67,86.63 478.21,86.80 478.75,86.96 479.29,87.12 479.82,87.28 480.36,87.44 480.90,87.59 481.44,87.75 481.99,87.90 482.53,88.05 483.07,88.20 483.61,88.35 484.15,88.50 484.69,88.65 485.23,88.79 485.77,88.93 486.31,89.07 486.85,89.21 487.39,89.35 487.93,89.48 488.47,89.62 489.02,89.75 489.56,89.88 490.10,90.01 490.64,90.14 491.18,90.27 491.72,90.40 492.27,90.52 492.81,90.64 493.35,90.76 493.89,90.89 494.43,91.00 494.98,91.12 495.52,91.24 496.06,91.35 496.60,91.47 497.15,91.58 497.69,91.69 498.23,91.80 498.78,91.91 499.32,92.01 499.86,92.12 500.41,92.22 500.95,92.33 501.49,92.43 502.04,92.53 502.58,92.63 503.12,92.73 503.67,92.82 504.21,92.92 504.76,93.01 505.30,93.11 505.85,93.20 506.39,93.29 506.93,93.38 507.48,93.47 508.02,93.56 508.57,93.65 509.11,93.73 509.66,93.82 510.21,93.90 510.75,93.98 511.30,94.06 511.84,94.14 512.39,94.22 512.93,94.30 513.48,94.38 514.03,94.46 514.57,94.53 515.12,94.61 515.67,94.68 516.21,94.75 516.76,94.82 517.31,94.90 517.85,94.97 518.40,95.03 518.95,95.10 519.50,95.17 520.04,95.24 520.59,95.30 521.14,95.37 521.69,95.43 522.24,95.49 522.78,95.56 523.33,95.62 523.88,95.68 524.43,95.74 524.98,95.80 525.53,95.86 526.08,95.92 526.63,95.97 527.17,96.03 527.72,96.08 528.27,96.14 528.82,96.19 529.37,96.25 529.92,96.30 530.47,96.35 531.02,96.40 531.58,96.46 532.13,96.51 532.68,96.56 533.23,96.61 533.78,96.65 534.33,96.70 534.88,96.75 535.43,96.80 535.98,96.84 536.54,96.89 537.09,96.93 537.64,96.98 538.19,97.02 538.75,97.07 539.30,97.11 539.85,97.15 540.40,97.20 540.96,97.24 541.51,97.28 542.06,97.32 542.62,97.36 543.17,97.40 543.72,97.44 544.28,97.48 544.83,97.52 545.39,97.56 545.94,97.60 546.50,97.64 547.05,97.68 547.61,97.71 548.16,97.75 548.72,97.79 549.27,97.83 549.83,97.86 550.38,97.90 550.94,97.94 551.50,97.97 552.05,98.01 552.61,98.04 553.17,98.08 553.72,98.11 554.28,98.15 554.84,98.18 555.39,98.22 555.95,98.25 556.51,98.29 557.07,98.32 557.63,98.36 558.18,98.39 558.74,98.42 559.30,98.46 559.86,98.49 560.42,98.52 560.98,98.56 561.54,98.59 562.10,98.63 562.66,98.66 563.22,98.69 563.78,98.73 564.34,98.76 564.90,98.80 565.46,98.83 566.02,98.86 566.58,98.90 567.14,98.93 567.70,98.97 568.26,99.00 568.83,99.03 569.39,99.07 569.95,99.10 570.51,99.14 571.08,99.17 571.64,99.21" fill="none" stroke="#000" stroke-width="2.3" stroke-linecap="butt" stroke-linejoin="round" />
</g>
<g clip-path="url(#ct3)">
<polyline points="572.70,159.99 572.72,159.49 572.73,158.99 572.74,158.49 572.75,157.99 572.77,157.49 572.78,156.99 572.79,156.49 572.80,155.98 572.82,155.48 572.83,154.98 572.84,154.47 572.85,153.97 572.86,153.46 572.88,152.95 572.89,152.45 572.90,151.94 572.91,151.43 572.92,150.92 572.93,150.41 572.95,149.90 572.96,149.39 572.97,148.88 572.98,148.37 572.99,147.86 573.00,147.35 573.01,146.84 573.03,146.32 573.04,145.81 573.05,145.30 573.06,144.78 573.07,144.27 573.08,143.75 573.10,143.24 573.11,142.72 573.12,142.21 573.13,141.69 573.14,141.18 573.15,140.66 573.17,140.14 573.18,139.62 573.19,139.11 573.20,138.59 573.21,138.07 573.23,137.55 573.24,137.03 573.25,136.52 573.26,136.00 573.28,135.48 573.29,134.96 573.30,134.44 573.32,133.92 573.33,133.40 573.34,132.88 573.36,132.36 573.37,131.84 573.38,131.32 573.40,130.80 573.41,130.28 573.43,129.76 573.44,129.24 573.45,128.71 573.47,128.19 573.48,127.67 573.50,127.15 573.51,126.63 573.53,126.11 573.54,125.59 573.56,125.07 573.58,124.55 573.59,124.02 573.61,123.50 573.62,122.98 573.64,122.46 573.66,121.94 573.67,121.42 573.69,120.90 573.71,120.38 573.73,119.86 573.74,119.33 573.76,118.81 573.78,118.29 573.80,117.77 573.82,117.25 573.84,116.73 573.86,116.21 573.88,115.69 573.90,115.17 573.92,114.65 573.94,114.14 573.96,113.62 573.98,113.10 574.00,112.58 574.02,112.06 574.05,111.54 574.07,111.02 574.09,110.51 574.11,109.99 574.14,109.47 574.16,108.96 574.18,108.44 574.21,107.92 574.23,107.41 574.26,106.89 574.28,106.38 574.31,105.86 574.33,105.35 574.36,104.83 574.39,104.32 574.41,103.81 574.44,103.29 574.47,102.78 574.50,102.27 574.53,101.76 574.56,101.25 574.58,100.74 574.61,100.23 574.64,99.72 574.67,99.21 574.71,98.70 574.74,98.19 574.77,97.68 574.80,97.18 574.83,96.67 574.87,96.16 574.90,95.66 574.93,95.15 574.97,94.65 575.00,94.14 575.04,93.64 575.07,93.14 575.11,92.64 575.15,92.13 575.18,91.63 575.22,91.13 575.26,90.63 575.30,90.13 575.34,89.64 575.38,89.14 575.42,88.64 575.46,88.15 575.50,87.65 575.54,87.16 575.58,86.66 575.62,86.17 575.67,85.68 575.71,85.18 575.75,84.69 575.80,84.20 575.84,83.71 575.89,83.23 575.94,82.74 575.98,82.25 576.03,81.76 576.08,81.27 576.13,80.78 576.19,80.29 576.24,79.79 576.30,79.29 576.36,78.79 576.43,78.28 576.50,77.77 576.57,77.25 576.64,76.73 576.72,76.19 576.81,75.65 576.90,75.11 576.99,74.55 577.09,73.98 577.20,73.41 577.31,72.82 577.43,72.22 577.56,71.61 577.69,70.99 577.83,70.36 577.98,69.74 578.15,69.13 578.32,68.55 578.52,68.00 578.73,67.50 578.96,67.07 579.21,66.70 579.48,66.42 579.78,66.22 580.10,66.14 580.43,66.15 580.76,66.28 581.08,66.51 581.38,66.82 581.68,67.19 581.98,67.59 582.27,68.01 582.56,68.42 582.86,68.84 583.15,69.25 583.44,69.68 583.73,70.10 584.02,70.52 584.31,70.95 584.60,71.37 584.89,71.80 585.19,72.23 585.48,72.66 585.77,73.09 586.06,73.52 586.36,73.95 586.65,74.38 586.95,74.81 587.24,75.24 587.54,75.67 587.84,76.10 588.14,76.53 588.44,76.96 588.74,77.38 589.05,77.81 589.35,78.23 589.66,78.65 589.97,79.07 590.29,79.48 590.60,79.89 590.92,80.30 591.24,80.71 591.56,81.12 591.88,81.52 592.21,81.92 592.54,82.31 592.88,82.70 593.21,83.09 593.55,83.47 593.89,83.85 594.24,84.22 594.59,84.60 594.94,84.96 595.29,85.33 595.65,85.69 596.01,86.04 596.37,86.39 596.74,86.74 597.11,87.09 597.48,87.43 597.85,87.77 598.23,88.10 598.61,88.43 598.99,88.76 599.38,89.08 599.76,89.40 600.15,89.72 600.55,90.03 600.94,90.34 601.34,90.65 601.74,90.95 602.14,91.25 602.55,91.55 602.95,91.84 603.36,92.13 603.77,92.42 604.19,92.70 604.61,92.98 605.02,93.26 605.44,93.53 605.87,93.81 606.29,94.07 606.72,94.34 607.15,94.60 607.58,94.86 608.02,95.12 608.45,95.37 608.89,95.62 609.33,95.87 609.77,96.11 610.22,96.36 610.66,96.60 611.11,96.83 611.56,97.07 612.01,97.30 612.46,97.53 612.92,97.75 613.37,97.97 613.83,98.19 614.29,98.41 614.75,98.63 615.22,98.84 615.68,99.05 616.15,99.26 616.62,99.47 617.09,99.67 617.56,99.87 618.03,100.07 618.51,100.26 618.98,100.46 619.46,100.65 619.94,100.84 620.42,101.03 620.90,101.21 621.38,101.39 621.87,101.58 622.35,101.75 622.84,101.93 623.33,102.11 623.81,102.28 624.31,102.45 624.80,102.62 625.29,102.78 625.78,102.95 626.28,103.11 626.77,103.27 627.27,103.43 627.77,103.59 628.26,103.74 628.76,103.90 629.26,104.05 629.76,104.20 630.27,104.35 630.77,104.50 631.27,104.64 631.78,104.79 632.28,104.93 632.79,105.07 633.29,105.21 633.80,105.35 634.31,105.48 634.82,105.62 635.33,105.75 635.84,105.88 636.35,106.01 636.86,106.14 637.37,106.27 637.88,106.40 638.39,106.52 638.90,106.65 639.42,106.77 639.93,106.89 640.44,107.01 640.96,107.13 641.47,107.25 641.99,107.37 642.50,107.49 643.01,107.60 643.53,107.72 644.04,107.83 644.56,107.94 645.07,108.05 645.59,108.16 646.10,108.27 646.62,108.38 647.14,108.49 647.65,108.60 648.17,108.71 648.68,108.81 649.20,108.92 649.71,109.02 650.23,109.13 650.74,109.23 651.25,109.34 651.77,109.44 652.28,109.54 652.79,109.64 653.31,109.74 653.82,109.84 654.33,109.94 654.84,110.04 655.36,110.14 655.87,110.24 656.38,110.34 656.89,110.44 657.40,110.54 657.91,110.64 658.41,110.74 658.92,110.83 659.43,110.93 659.94,111.03 660.45,111.12 660.95,111.22 661.46,111.31 661.96,111.41 662.47,111.50 662.98,111.60 663.48,111.69 663.98,111.79 664.49,111.88 664.99,111.97 665.50,112.07 666.00,112.16 666.50,112.25 667.01,112.34 667.51,112.44 668.01,112.53 668.51,112.62 669.01,112.71 669.51,112.80 670.02,112.89 670.52,112.98 671.02,113.07 671.52,113.16 672.02,113.24 672.52,113.33 673.02,113.42 673.52,113.51 674.02,113.59 674.52,113.68 675.02,113.77 675.52,113.85 676.02,113.94 676.52,114.02 677.02,114.11 677.51,114.19 678.01,114.28 678.51,114.36 679.01,114.44 679.51,114.52 680.01,114.61 680.51,114.69 681.01,114.77 681.51,114.85 682.00,114.93 682.50,115.01 683.00,115.09 683.50,115.17 684.00,115.25 684.50,115.33 685.00,115.41 685.50,115.48 686.00,115.56 686.50,115.64 686.99,115.71 687.49,115.79 687.99,115.87 688.49,115.94 688.99,116.02 689.49,116.09 689.99,116.16 690.49,116.24 690.99,116.31 691.49,116.38 692.00,116.46 692.50,116.53 693.00,116.60 693.50,116.67 694.00,116.74 694.50,116.81 695.01,116.88 695.51,116.95 696.01,117.02 696.51,117.09 697.02,117.15 697.52,117.22 698.02,117.29 698.53,117.35 699.03,117.42 699.54,117.48 700.04,117.55 700.55,117.61 701.05,117.68 701.56,117.74 702.07,117.80 702.58,117.87 703.08,117.93 703.59,117.99 704.10,118.05 704.61,118.11 705.12,118.17 705.63,118.23 706.14,118.29 706.65,118.35 707.16,118.41 707.67,118.47 708.18,118.52 708.69,118.58 709.21,118.64 709.72,118.69 710.24,118.75 710.75,118.80 711.27,118.86 711.78,118.91 712.30,118.96 712.81,119.02 713.33,119.07 713.85,119.12 714.37,119.17 714.89,119.22 715.41,119.27 715.93,119.32 716.45,119.37 716.97,119.42 717.49,119.47 718.02,119.51 718.54,119.56 719.07,119.61 719.59,119.65 720.12,119.70 720.64,119.74 721.17,119.79 721.70,119.83 722.23,119.87 722.76,119.92 723.29,119.96 723.82,120.00 724.35,120.04 724.89,120.08 725.42,120.12" fill="none" stroke="#ff0000" stroke-width="2.0" stroke-dasharray="14.7 7.3" stroke-dashoffset="7.64" stroke-linecap="butt" stroke-linejoin="round" />
<polyline points="571.76,159.89 571.93,159.58 572.10,159.27 572.26,158.95 572.42,158.64 572.58,158.33 572.73,158.01 572.88,157.69 573.03,157.37 573.17,157.05 573.31,156.72 573.45,156.40 573.58,156.07 573.71,155.74 573.84,155.41 573.97,155.08 574.09,154.75 574.21,154.41 574.33,154.08 574.45,153.74 574.56,153.40 574.67,153.06 574.78,152.71 574.88,152.37 574.99,152.02 575.09,151.67 575.18,151.33 575.28,150.97 575.37,150.62 575.46,150.27 575.55,149.91 575.64,149.55 575.73,149.19 575.81,148.83 575.89,148.47 575.97,148.11 576.05,147.75 576.13,147.38 576.21,147.02 576.28,146.65 576.36,146.28 576.43,145.92 576.51,145.55 576.58,145.18 576.65,144.81 576.73,144.44 576.80,144.07 576.87,143.70 576.95,143.33 577.02,142.96 577.09,142.59 577.17,142.22 577.24,141.85 577.32,141.48 577.39,141.11 577.47,140.74 577.55,140.37 577.63,140.00 577.71,139.63 577.79,139.27 577.87,138.90 577.96,138.53 578.05,138.17 578.13,137.80 578.23,137.44 578.32,137.08 578.41,136.72 578.51,136.36 578.61,136.00 578.72,135.64 578.82,135.28 578.93,134.93 579.04,134.58 579.15,134.22 579.27,133.88 579.39,133.53 579.51,133.18 579.64,132.84 579.77,132.50 579.90,132.16 580.04,131.83 580.18,131.50 580.32,131.17 580.47,130.84 580.62,130.52 580.78,130.20 580.93,129.89 581.10,129.57 581.26,129.26 581.43,128.96 581.61,128.66 581.79,128.36 581.97,128.07 582.16,127.78 582.35,127.49 582.55,127.21 582.75,126.94 582.96,126.67 583.17,126.40 583.39,126.14 583.61,125.89 583.84,125.64 584.07,125.39 584.31,125.15 584.55,124.92 584.80,124.69 585.05,124.47 585.31,124.25 585.57,124.04 585.84,123.84 586.12,123.64 586.40,123.45 586.69,123.26 586.98,123.08 587.28,122.91 587.59,122.75 587.90,122.59 588.22,122.43 588.54,122.29 588.86,122.14 589.19,122.00 589.52,121.87 589.86,121.74 590.20,121.61 590.54,121.49 590.88,121.37 591.22,121.25 591.57,121.13 591.91,121.01 592.26,120.90 592.60,120.78 592.95,120.67 593.30,120.56 593.64,120.45 593.99,120.34 594.34,120.23 594.68,120.12 595.03,120.01 595.38,119.91 595.73,119.80 596.07,119.70 596.42,119.60 596.77,119.49 597.12,119.39 597.47,119.29 597.81,119.19 598.16,119.09 598.51,118.99 598.86,118.90 599.21,118.80 599.56,118.71 599.91,118.61 600.26,118.52 600.61,118.43 600.96,118.34 601.31,118.24 601.66,118.15 602.01,118.07 602.36,117.98 602.71,117.89 603.06,117.80 603.41,117.72 603.76,117.63 604.11,117.55 604.46,117.47 604.81,117.39 605.17,117.30 605.52,117.22 605.87,117.14 606.22,117.07 606.57,116.99 606.93,116.91 607.28,116.83 607.63,116.76 607.98,116.68 608.34,116.61 608.69,116.54 609.04,116.47 609.40,116.39 609.75,116.32 610.10,116.25 610.46,116.19 610.81,116.12 611.16,116.05 611.52,115.98 611.87,115.92 612.23,115.85 612.58,115.79 612.93,115.72 613.29,115.66 613.64,115.60 614.00,115.54 614.35,115.48 614.71,115.42 615.06,115.36 615.42,115.30 615.77,115.24 616.13,115.18 616.49,115.13 616.84,115.07 617.20,115.02 617.55,114.96 617.91,114.91 618.27,114.86 618.62,114.80 618.98,114.75 619.34,114.70 619.69,114.65 620.05,114.60 620.41,114.56 620.76,114.51 621.12,114.46 621.48,114.41 621.84,114.37 622.19,114.32 622.55,114.28 622.91,114.23 623.27,114.19 623.62,114.15 623.98,114.11 624.34,114.06 624.70,114.02 625.06,113.98 625.41,113.94 625.77,113.90 626.13,113.87 626.49,113.83 626.85,113.79 627.21,113.75 627.57,113.72 627.93,113.68 628.28,113.65 628.64,113.61 629.00,113.58 629.36,113.55 629.72,113.52 630.08,113.48 630.44,113.45 630.80,113.42 631.16,113.39 631.52,113.36 631.88,113.33 632.24,113.31 632.60,113.28 632.96,113.25 633.32,113.22 633.68,113.20 634.04,113.17 634.40,113.15 634.76,113.12 635.12,113.10 635.48,113.07 635.85,113.05 636.21,113.03 636.57,113.01 636.93,112.99 637.29,112.96 637.65,112.94 638.01,112.92 638.37,112.90 638.73,112.88 639.10,112.87 639.46,112.85 639.82,112.83 640.18,112.81 640.54,112.80 640.90,112.78 641.27,112.76 641.63,112.75 641.99,112.73 642.35,112.72 642.71,112.71 643.08,112.69 643.44,112.68 643.80,112.67 644.16,112.65 644.53,112.64 644.89,112.63 645.25,112.62 645.61,112.61 645.98,112.60 646.34,112.59 646.70,112.58 647.06,112.57 647.43,112.56 647.79,112.55 648.15,112.55 648.52,112.54 648.88,112.53 649.24,112.52 649.60,112.52 649.97,112.51 650.33,112.51 650.69,112.50 651.06,112.50 651.42,112.49 651.78,112.49 652.15,112.48 652.51,112.48 652.87,112.48 653.24,112.47 653.60,112.47 653.96,112.47 654.33,112.47 654.69,112.47 655.06,112.46 655.42,112.46 655.78,112.46 656.15,112.46 656.51,112.46 656.87,112.46 657.24,112.46 657.60,112.46 657.97,112.46 658.33,112.47 658.69,112.47 659.06,112.47 659.42,112.47 659.79,112.47 660.15,112.48 660.51,112.48 660.88,112.48 661.24,112.49 661.61,112.49 661.97,112.49 662.33,112.50 662.70,112.50 663.06,112.51 663.43,112.51 663.79,112.52 664.15,112.52 664.52,112.53 664.88,112.53 665.25,112.54 665.61,112.55 665.98,112.55 666.34,112.56 666.70,112.57 667.07,112.57 667.43,112.58 667.80,112.59 668.16,112.59 668.53,112.60 668.89,112.61 669.25,112.62 669.62,112.63 669.98,112.63 670.35,112.64 670.71,112.65 671.07,112.66 671.44,112.67 671.80,112.68 672.17,112.69 672.53,112.70 672.90,112.71 673.26,112.72 673.62,112.73 673.99,112.74 674.35,112.75 674.72,112.76 675.08,112.77 675.45,112.78 675.81,112.79 676.17,112.80 676.54,112.81 676.90,112.82 677.27,112.83 677.63,112.84 677.99,112.85 678.36,112.86 678.72,112.87 679.09,112.88 679.45,112.89 679.81,112.90 680.18,112.92 680.54,112.93 680.91,112.94 681.27,112.95 681.63,112.96 682.00,112.97 682.36,112.98 682.73,112.99 683.09,113.01 683.45,113.02 683.82,113.03 684.18,113.04 684.54,113.05 684.91,113.06 685.27,113.07 685.63,113.09 686.00,113.10 686.36,113.11 686.72,113.12 687.09,113.13 687.45,113.14 687.81,113.15 688.18,113.17 688.54,113.18 688.90,113.19 689.27,113.20 689.63,113.21 689.99,113.22 690.36,113.23 690.72,113.24 691.08,113.25 691.44,113.27 691.81,113.28 692.17,113.29 692.53,113.30 692.90,113.31 693.26,113.32 693.62,113.33 693.98,113.34 694.35,113.35 694.71,113.36 695.07,113.37 695.43,113.38 695.80,113.39 696.16,113.40 696.52,113.41 696.88,113.42 697.24,113.43 697.61,113.44 697.97,113.44 698.33,113.45 698.69,113.46 699.05,113.47 699.41,113.48 699.78,113.49 700.14,113.50 700.50,113.50 700.86,113.51 701.22,113.52 701.58,113.53 701.94,113.53 702.30,113.54 702.67,113.55 703.03,113.55 703.39,113.56 703.75,113.57 704.11,113.57 704.47,113.58 704.83,113.58 705.19,113.59 705.55,113.59 705.91,113.60 706.27,113.60 706.63,113.61 706.99,113.61 707.35,113.62 707.71,113.62 708.07,113.63 708.43,113.63 708.79,113.63 709.15,113.63 709.51,113.64 709.87,113.64 710.23,113.64 710.59,113.64 710.95,113.65 711.31,113.65 711.66,113.65 712.02,113.65 712.38,113.65 712.74,113.65 713.10,113.65 713.46,113.65 713.82,113.65 714.17,113.65 714.53,113.64 714.89,113.64 715.25,113.64 715.61,113.64 715.96,113.64 716.32,113.63 716.68,113.63 717.04,113.63 717.40,113.62 717.75,113.62 718.11,113.61 718.47,113.61 718.82,113.60 719.18,113.60 719.54,113.59 719.89,113.58 720.25,113.58 720.61,113.57 720.96,113.56 721.32,113.55 721.68,113.55 722.03,113.54 722.39,113.53 722.74,113.52 723.10,113.51 723.45,113.50 723.81,113.49 724.16,113.48 724.52,113.47 724.87,113.45 725.23,113.44" fill="none" stroke="#00ff00" stroke-width="2.5" stroke-dasharray="1.8 3.43" stroke-linecap="butt" stroke-linejoin="round" />
<polyline points="572.02,160.04 572.11,159.76 572.20,159.47 572.29,159.18 572.38,158.88 572.47,158.57 572.56,158.26 572.65,157.95 572.73,157.63 572.82,157.31 572.91,156.98 573.00,156.66 573.08,156.32 573.17,155.99 573.26,155.65 573.35,155.31 573.44,154.97 573.54,154.63 573.63,154.29 573.73,153.94 573.82,153.60 573.92,153.26 574.02,152.91 574.12,152.57 574.23,152.22 574.33,151.88 574.44,151.54 574.55,151.20 574.67,150.86 574.79,150.53 574.91,150.20 575.03,149.87 575.15,149.54 575.28,149.22 575.42,148.90 575.55,148.58 575.69,148.27 575.84,147.97 575.99,147.67 576.14,147.37 576.30,147.08 576.46,146.80 576.62,146.52 576.79,146.25 576.97,145.99 577.15,145.73 577.34,145.48 577.53,145.24 577.72,145.01 577.92,144.78 578.13,144.56 578.34,144.35 578.55,144.15 578.77,143.95 579.00,143.76 579.23,143.58 579.46,143.41 579.70,143.24 579.94,143.09 580.19,142.94 580.44,142.80 580.70,142.67 580.96,142.54 581.22,142.42 581.49,142.31 581.76,142.21 582.04,142.12 582.32,142.04 582.60,141.96 582.89,141.89 583.18,141.83 583.48,141.78 583.77,141.73 584.08,141.69 584.38,141.66 584.69,141.63 585.00,141.61 585.31,141.60 585.63,141.59 585.94,141.59 586.26,141.59 586.59,141.59 586.91,141.60 587.24,141.62 587.56,141.63 587.89,141.65 588.23,141.68 588.56,141.70 588.89,141.73 589.23,141.76 589.56,141.79 589.90,141.83 590.24,141.86 590.57,141.90 590.91,141.93 591.25,141.97 591.59,142.01 591.93,142.04 592.26,142.08 592.60,142.12 592.94,142.15 593.28,142.19 593.62,142.22 593.96,142.25 594.29,142.29 594.63,142.32 594.97,142.35 595.31,142.38 595.64,142.42 595.98,142.45 596.32,142.48 596.66,142.51 596.99,142.54 597.33,142.57 597.67,142.60 598.00,142.62 598.34,142.65 598.68,142.68 599.02,142.71 599.35,142.73 599.69,142.76 600.03,142.79 600.36,142.81 600.70,142.84 601.04,142.86 601.37,142.89 601.71,142.91 602.04,142.94 602.38,142.96 602.72,142.98 603.05,143.00 603.39,143.03 603.72,143.05 604.06,143.07 604.40,143.09 604.73,143.11 605.07,143.13 605.40,143.15 605.74,143.17 606.07,143.19 606.41,143.21 606.75,143.23 607.08,143.24 607.42,143.26 607.75,143.28 608.09,143.30 608.42,143.31 608.76,143.33 609.09,143.34 609.43,143.36 609.76,143.37 610.10,143.39 610.43,143.40 610.77,143.42 611.10,143.43 611.43,143.44 611.77,143.46 612.10,143.47 612.44,143.48 612.77,143.49 613.11,143.50 613.44,143.52 613.77,143.53 614.11,143.54 614.44,143.55 614.78,143.56 615.11,143.57 615.44,143.57 615.78,143.58 616.11,143.59 616.45,143.60 616.78,143.61 617.11,143.62 617.45,143.62 617.78,143.63 618.11,143.64 618.45,143.64 618.78,143.65 619.11,143.65 619.45,143.66 619.78,143.66 620.11,143.67 620.45,143.67 620.78,143.68 621.11,143.68 621.45,143.68 621.78,143.69 622.11,143.69 622.44,143.69 622.78,143.69 623.11,143.70 623.44,143.70 623.78,143.70 624.11,143.70 624.44,143.70 624.77,143.70 625.11,143.70 625.44,143.70 625.77,143.70 626.10,143.70 626.44,143.70 626.77,143.70 627.10,143.70 627.43,143.70 627.76,143.69 628.10,143.69 628.43,143.69 628.76,143.69 629.09,143.68 629.42,143.68 629.76,143.68 630.09,143.67 630.42,143.67 630.75,143.66 631.08,143.66 631.42,143.65 631.75,143.65 632.08,143.64 632.41,143.64 632.74,143.63 633.07,143.63 633.40,143.62 633.74,143.61 634.07,143.61 634.40,143.60 634.73,143.59 635.06,143.58 635.39,143.58 635.72,143.57 636.06,143.56 636.39,143.55 636.72,143.54 637.05,143.54 637.38,143.53 637.71,143.52 638.04,143.51 638.37,143.50 638.70,143.49 639.03,143.48 639.37,143.47 639.70,143.46 640.03,143.45 640.36,143.44 640.69,143.42 641.02,143.41 641.35,143.40 641.68,143.39 642.01,143.38 642.34,143.37 642.67,143.35 643.00,143.34 643.33,143.33 643.66,143.32 643.99,143.30 644.33,143.29 644.66,143.28 644.99,143.26 645.32,143.25 645.65,143.23 645.98,143.22 646.31,143.21 646.64,143.19 646.97,143.18 647.30,143.16 647.63,143.15 647.96,143.13 648.29,143.12 648.62,143.10 648.95,143.09 649.28,143.07 649.61,143.05 649.94,143.04 650.27,143.02 650.60,143.00 650.93,142.99 651.26,142.97 651.59,142.95 651.92,142.94 652.25,142.92 652.58,142.90 652.91,142.89 653.24,142.87 653.57,142.85 653.90,142.83 654.23,142.82 654.56,142.80 654.89,142.78 655.22,142.76 655.55,142.74 655.88,142.72 656.21,142.70 656.54,142.69 656.87,142.67 657.20,142.65 657.53,142.63 657.86,142.61 658.19,142.59 658.52,142.57 658.85,142.55 659.18,142.53 659.51,142.51 659.84,142.49 660.17,142.47 660.49,142.45 660.82,142.43 661.15,142.41 661.48,142.39 661.81,142.37 662.14,142.35 662.47,142.33 662.80,142.31 663.13,142.29 663.46,142.27 663.79,142.25 664.12,142.22 664.45,142.20 664.78,142.18 665.11,142.16 665.44,142.14 665.77,142.12 666.10,142.10 666.43,142.08 666.76,142.05 667.09,142.03 667.42,142.01 667.75,141.99 668.07,141.97 668.40,141.94 668.73,141.92 669.06,141.90 669.39,141.88 669.72,141.86 670.05,141.83 670.38,141.81 670.71,141.79 671.04,141.77 671.37,141.74 671.70,141.72 672.03,141.70 672.36,141.68 672.69,141.65 673.02,141.63 673.35,141.61 673.68,141.59 674.01,141.56 674.34,141.54 674.67,141.52 674.99,141.50 675.32,141.47 675.65,141.45 675.98,141.43 676.31,141.40 676.64,141.38 676.97,141.36 677.30,141.34 677.63,141.31 677.96,141.29 678.29,141.27 678.62,141.24 678.95,141.22 679.28,141.20 679.61,141.18 679.94,141.15 680.27,141.13 680.60,141.11 680.93,141.08 681.26,141.06 681.59,141.04 681.92,141.02 682.25,140.99 682.58,140.97 682.91,140.95 683.24,140.92 683.57,140.90 683.90,140.88 684.23,140.86 684.55,140.83 684.88,140.81 685.21,140.79 685.54,140.77 685.87,140.74 686.20,140.72 686.53,140.70 686.86,140.68 687.19,140.65 687.52,140.63 687.85,140.61 688.18,140.59 688.51,140.56 688.84,140.54 689.17,140.52 689.50,140.50 689.83,140.47 690.16,140.45 690.49,140.43 690.82,140.41 691.15,140.39 691.49,140.37 691.82,140.34 692.15,140.32 692.48,140.30 692.81,140.28 693.14,140.26 693.47,140.24 693.80,140.22 694.13,140.19 694.46,140.17 694.79,140.15 695.12,140.13 695.45,140.11 695.78,140.09 696.11,140.07 696.44,140.05 696.77,140.03 697.10,140.01 697.43,139.99 697.76,139.97 698.09,139.95 698.42,139.93 698.76,139.91 699.09,139.89 699.42,139.87 699.75,139.85 700.08,139.83 700.41,139.81 700.74,139.79 701.07,139.77 701.40,139.75 701.73,139.73 702.06,139.71 702.40,139.69 702.73,139.68 703.06,139.66 703.39,139.64 703.72,139.62 704.05,139.60 704.38,139.58 704.71,139.57 705.05,139.55 705.38,139.53 705.71,139.51 706.04,139.50 706.37,139.48 706.70,139.46 707.03,139.45 707.37,139.43 707.70,139.41 708.03,139.40 708.36,139.38 708.69,139.36 709.02,139.35 709.36,139.33 709.69,139.32 710.02,139.30 710.35,139.28 710.68,139.27 711.02,139.25 711.35,139.24 711.68,139.22 712.01,139.21 712.34,139.20 712.68,139.18 713.01,139.17 713.34,139.15 713.67,139.14 714.01,139.13 714.34,139.11 714.67,139.10 715.00,139.09 715.34,139.07 715.67,139.06 716.00,139.05 716.33,139.04 716.67,139.03 717.00,139.01 717.33,139.00 717.67,138.99 718.00,138.98 718.33,138.97 718.66,138.96 719.00,138.95 719.33,138.94 719.66,138.93 720.00,138.92 720.33,138.91 720.66,138.90 721.00,138.89 721.33,138.88 721.66,138.87 722.00,138.86 722.33,138.85 722.66,138.84 723.00,138.84 723.33,138.83 723.67,138.82 724.00,138.81 724.33,138.81 724.67,138.80 725.00,138.79 725.33,138.79" fill="none" stroke="#0000ff" stroke-width="1.9" stroke-dasharray="11 3.9 1.8 3.7 1.8 3.7 1.8 4.0" stroke-dashoffset="31.23" stroke-linecap="butt" stroke-linejoin="round" />
<polyline points="572.70,159.99 572.71,159.49 572.72,158.99 572.73,158.49 572.74,157.98 572.75,157.48 572.76,156.97 572.77,156.47 572.78,155.96 572.79,155.46 572.80,154.95 572.81,154.45 572.82,153.94 572.82,153.43 572.83,152.92 572.84,152.41 572.85,151.90 572.86,151.39 572.87,150.88 572.88,150.37 572.89,149.86 572.90,149.35 572.91,148.84 572.92,148.33 572.93,147.81 572.94,147.30 572.95,146.79 572.96,146.27 572.97,145.76 572.98,145.25 572.99,144.73 573.00,144.21 573.01,143.70 573.02,143.18 573.03,142.67 573.04,142.15 573.05,141.63 573.06,141.12 573.07,140.60 573.08,140.08 573.09,139.56 573.10,139.05 573.11,138.53 573.12,138.01 573.14,137.49 573.15,136.97 573.16,136.45 573.17,135.93 573.18,135.41 573.19,134.89 573.21,134.37 573.22,133.85 573.23,133.33 573.24,132.81 573.25,132.29 573.27,131.77 573.28,131.24 573.29,130.72 573.30,130.20 573.32,129.68 573.33,129.16 573.34,128.64 573.36,128.11 573.37,127.59 573.38,127.07 573.40,126.55 573.41,126.02 573.43,125.50 573.44,124.98 573.46,124.46 573.47,123.93 573.49,123.41 573.50,122.89 573.52,122.37 573.53,121.84 573.55,121.32 573.56,120.80 573.58,120.28 573.60,119.75 573.61,119.23 573.63,118.71 573.64,118.19 573.66,117.66 573.68,117.14 573.70,116.62 573.71,116.10 573.73,115.57 573.75,115.05 573.77,114.53 573.79,114.01 573.81,113.49 573.82,112.96 573.84,112.44 573.86,111.92 573.88,111.40 573.90,110.88 573.92,110.36 573.94,109.84 573.96,109.32 573.98,108.80 574.01,108.28 574.03,107.76 574.05,107.24 574.07,106.72 574.09,106.20 574.11,105.68 574.14,105.16 574.16,104.64 574.18,104.13 574.21,103.61 574.23,103.09 574.25,102.57 574.28,102.06 574.30,101.54 574.33,101.02 574.35,100.51 574.38,99.99 574.40,99.47 574.43,98.96 574.46,98.44 574.48,97.93 574.51,97.42 574.54,96.90 574.57,96.39 574.59,95.88 574.62,95.36 574.65,94.85 574.68,94.34 574.71,93.83 574.74,93.32 574.77,92.81 574.80,92.30 574.83,91.79 574.86,91.28 574.89,90.77 574.92,90.26 574.95,89.75 574.98,89.25 575.02,88.74 575.05,88.23 575.08,87.73 575.12,87.22 575.15,86.72 575.19,86.21 575.22,85.71 575.26,85.21 575.29,84.71 575.33,84.20 575.36,83.70 575.40,83.20 575.44,82.70 575.47,82.20 575.51,81.70 575.55,81.21 575.59,80.71 575.63,80.21 575.67,79.71 575.71,79.22 575.75,78.72 575.79,78.23 575.83,77.74 575.87,77.24 575.91,76.75 575.95,76.26 576.00,75.76 576.04,75.27 576.09,74.78 576.14,74.28 576.19,73.78 576.24,73.28 576.30,72.77 576.36,72.26 576.42,71.75 576.49,71.23 576.56,70.71 576.63,70.18 576.71,69.64 576.80,69.10 576.89,68.55 576.98,67.99 577.08,67.42 577.19,66.84 577.31,66.26 577.43,65.66 577.56,65.06 577.69,64.44 577.84,63.81 577.99,63.19 578.16,62.58 578.33,61.98 578.52,61.40 578.71,60.86 578.92,60.36 579.15,59.90 579.39,59.51 579.64,59.17 579.92,58.90 580.21,58.72 580.51,58.61 580.82,58.58 581.14,58.63 581.45,58.76 581.77,58.97 582.08,59.23 582.40,59.55 582.71,59.89 583.02,60.26 583.33,60.63 583.65,61.01 583.97,61.40 584.28,61.79 584.60,62.18 584.92,62.57 585.24,62.97 585.57,63.38 585.89,63.78 586.22,64.19 586.54,64.59 586.88,65.00 587.21,65.41 587.54,65.82 587.88,66.23 588.22,66.64 588.56,67.04 588.91,67.45 589.25,67.85 589.60,68.25 589.96,68.65 590.31,69.04 590.67,69.43 591.03,69.82 591.40,70.20 591.76,70.57 592.14,70.94 592.51,71.31 592.89,71.66 593.27,72.02 593.66,72.36 594.05,72.70 594.44,73.03 594.83,73.36 595.23,73.68 595.63,74.00 596.04,74.31 596.45,74.61 596.86,74.91 597.27,75.20 597.69,75.49 598.11,75.77 598.54,76.04 598.96,76.32 599.39,76.58 599.82,76.84 600.26,77.10 600.70,77.35 601.14,77.59 601.58,77.83 602.02,78.07 602.47,78.30 602.92,78.53 603.38,78.75 603.83,78.96 604.29,79.18 604.75,79.38 605.21,79.59 605.68,79.79 606.14,79.98 606.61,80.17 607.08,80.36 607.55,80.55 608.03,80.72 608.51,80.90 608.99,81.07 609.47,81.24 609.95,81.40 610.43,81.56 610.92,81.72 611.41,81.88 611.90,82.03 612.39,82.17 612.88,82.32 613.37,82.46 613.87,82.60 614.37,82.73 614.87,82.86 615.37,82.99 615.87,83.12 616.37,83.24 616.87,83.36 617.38,83.48 617.88,83.59 618.39,83.71 618.90,83.82 619.41,83.93 619.92,84.03 620.43,84.14 620.94,84.24 621.46,84.34 621.97,84.44 622.48,84.53 623.00,84.63 623.51,84.72 624.03,84.81 624.55,84.90 625.07,84.99 625.58,85.07 626.10,85.16 626.62,85.24 627.14,85.32 627.66,85.40 628.18,85.48 628.70,85.56 629.22,85.64 629.74,85.71 630.26,85.79 630.78,85.86 631.30,85.94 631.82,86.01 632.34,86.08 632.86,86.16 633.38,86.23 633.90,86.30 634.42,86.37 634.94,86.44 635.46,86.51 635.98,86.58 636.50,86.65 637.02,86.72 637.54,86.79 638.05,86.86 638.57,86.93 639.09,87.00 639.61,87.07 640.12,87.14 640.64,87.21 641.16,87.27 641.67,87.34 642.19,87.41 642.70,87.48 643.22,87.54 643.74,87.61 644.25,87.68 644.77,87.74 645.28,87.81 645.79,87.87 646.31,87.94 646.82,88.01 647.34,88.07 647.85,88.13 648.36,88.20 648.88,88.26 649.39,88.33 649.90,88.39 650.42,88.45 650.93,88.52 651.44,88.58 651.95,88.64 652.46,88.70 652.98,88.77 653.49,88.83 654.00,88.89 654.51,88.95 655.02,89.01 655.53,89.07 656.04,89.13 656.56,89.19 657.07,89.25 657.58,89.31 658.09,89.37 658.60,89.43 659.11,89.49 659.62,89.55 660.13,89.61 660.64,89.66 661.15,89.72 661.66,89.78 662.17,89.84 662.68,89.89 663.19,89.95 663.70,90.01 664.21,90.06 664.71,90.12 665.22,90.17 665.73,90.23 666.24,90.28 666.75,90.34 667.26,90.39 667.77,90.45 668.28,90.50 668.79,90.55 669.30,90.61 669.80,90.66 670.31,90.71 670.82,90.76 671.33,90.82 671.84,90.87 672.35,90.92 672.86,90.97 673.37,91.02 673.87,91.07 674.38,91.12 674.89,91.17 675.40,91.22 675.91,91.27 676.42,91.32 676.93,91.37 677.43,91.42 677.94,91.46 678.45,91.51 678.96,91.56 679.47,91.61 679.98,91.65 680.49,91.70 681.00,91.75 681.51,91.79 682.01,91.84 682.52,91.89 683.03,91.93 683.54,91.98 684.05,92.02 684.56,92.06 685.07,92.11 685.58,92.15 686.09,92.19 686.60,92.24 687.11,92.28 687.62,92.32 688.13,92.37 688.64,92.41 689.15,92.45 689.66,92.49 690.17,92.53 690.68,92.57 691.19,92.61 691.70,92.65 692.21,92.69 692.72,92.73 693.24,92.77 693.75,92.81 694.26,92.85 694.77,92.88 695.28,92.92 695.79,92.96 696.31,93.00 696.82,93.03 697.33,93.07 697.84,93.11 698.36,93.14 698.87,93.18 699.38,93.21 699.90,93.25 700.41,93.28 700.92,93.32 701.44,93.35 701.95,93.38 702.46,93.42 702.98,93.45 703.49,93.48 704.01,93.51 704.52,93.55 705.04,93.58 705.55,93.61 706.07,93.64 706.59,93.67 707.10,93.70 707.62,93.73 708.14,93.76 708.65,93.79 709.17,93.82 709.69,93.85 710.20,93.88 710.72,93.90 711.24,93.93 711.76,93.96 712.28,93.98 712.80,94.01 713.32,94.04 713.84,94.06 714.36,94.09 714.88,94.11 715.40,94.14 715.92,94.16 716.44,94.19 716.96,94.21 717.48,94.24 718.00,94.26 718.53,94.28 719.05,94.30 719.57,94.33 720.09,94.35 720.62,94.37 721.14,94.39 721.67,94.41 722.19,94.43 722.72,94.45 723.24,94.47 723.77,94.49 724.29,94.51 724.82,94.53 725.35,94.55" fill="none" stroke="#000" stroke-width="2.3" stroke-linecap="butt" stroke-linejoin="round" />
</g>
<g clip-path="url(#cb0)">
<path d="M115.40 174.40m-4.5 0a4.5 4.5 0 1 0 9 0a4.5 4.5 0 1 0 -9 0M117.80 185.80m-4.5 0a4.5 4.5 0 1 0 9 0a4.5 4.5 0 1 0 -9 0M121.10 195.50m-4.5 0a4.5 4.5 0 1 0 9 0a4.5 4.5 0 1 0 -9 0M124.00 203.60m-4.5 0a4.5 4.5 0 1 0 9 0a4.5 4.5 0 1 0 -9 0M126.70 210.90m-4.5 0a4.5 4.5 0 1 0 9 0a4.5 4.5 0 1 0 -9 0M129.20 217.50m-4.5 0a4.5 4.5 0 1 0 9 0a4.5 4.5 0 1 0 -9 0M132.20 224.50m-4.5 0a4.5 4.5 0 1 0 9 0a4.5 4.5 0 1 0 -9 0M135.30 229.80m-4.5 0a4.5 4.5 0 1 0 9 0a4.5 4.5 0 1 0 -9 0M137.80 236.53m-4.5 0a4.5 4.5 0 1 0 9 0a4.5 4.5 0 1 0 -9 0M140.30 240.14m-4.5 0a4.5 4.5 0 1 0 9 0a4.5 4.5 0 1 0 -9 0M142.80 242.74m-4.5 0a4.5 4.5 0 1 0 9 0a4.5 4.5 0 1 0 -9 0M145.30 246.57m-4.5 0a4.5 4.5 0 1 0 9 0a4.5 4.5 0 1 0 -9 0M147.80 250.73m-4.5 0a4.5 4.5 0 1 0 9 0a4.5 4.5 0 1 0 -9 0M150.30 254.08m-4.5 0a4.5 4.5 0 1 0 9 0a4.5 4.5 0 1 0 -9 0M152.80 257.86m-4.5 0a4.5 4.5 0 1 0 9 0a4.5 4.5 0 1 0 -9 0M155.30 260.93m-4.5 0a4.5 4.5 0 1 0 9 0a4.5 4.5 0 1 0 -9 0M157.80 265.77m-4.5 0a4.5 4.5 0 1 0 9 0a4.5 4.5 0 1 0 -9 0M160.30 269.27m-4.5 0a4.5 4.5 0 1 0 9 0a4.5 4.5 0 1 0 -9 0M162.80 273.10m-4.5 0a4.5 4.5 0 1 0 9 0a4.5 4.5 0 1 0 -9 0M165.30 275.86m-4.5 0a4.5 4.5 0 1 0 9 0a4.5 4.5 0 1 0 -9 0M167.80 281.36m-4.5 0a4.5 4.5 0 1 0 9 0a4.5 4.5 0 1 0 -9 0M170.30 283.98m-4.5 0a4.5 4.5 0 1 0 9 0a4.5 4.5 0 1 0 -9 0M172.80 286.80m-4.5 0a4.5 4.5 0 1 0 9 0a4.5 4.5 0 1 0 -9 0M175.30 291.25m-4.5 0a4.5 4.5 0 1 0 9 0a4.5 4.5 0 1 0 -9 0M177.80 293.18m-4.5 0a4.5 4.5 0 1 0 9 0a4.5 4.5 0 1 0 -9 0M180.30 294.90m-4.5 0a4.5 4.5 0 1 0 9 0a4.5 4.5 0 1 0 -9 0M182.80 297.98m-4.5 0a4.5 4.5 0 1 0 9 0a4.5 4.5 0 1 0 -9 0M185.30 299.44m-4.5 0a4.5 4.5 0 1 0 9 0a4.5 4.5 0 1 0 -9 0M187.80 303.35m-4.5 0a4.5 4.5 0 1 0 9 0a4.5 4.5 0 1 0 -9 0M194.40 309.30m-4.5 0a4.5 4.5 0 1 0 9 0a4.5 4.5 0 1 0 -9 0M198.00 310.60m-4.5 0a4.5 4.5 0 1 0 9 0a4.5 4.5 0 1 0 -9 0" fill="#000" fill-rule="nonzero"/>
<polyline points="112.61,159.88 112.65,160.28 112.69,160.67 112.74,161.07 112.78,161.46 112.83,161.86 112.87,162.25 112.92,162.65 112.97,163.04 113.02,163.44 113.06,163.83 113.11,164.22 113.17,164.62 113.22,165.01 113.27,165.41 113.32,165.80 113.38,166.19 113.43,166.59 113.48,166.98 113.54,167.37 113.60,167.77 113.65,168.16 113.71,168.55 113.77,168.95 113.83,169.34 113.89,169.73 113.95,170.13 114.01,170.52 114.08,170.91 114.14,171.31 114.20,171.70 114.27,172.09 114.33,172.48 114.40,172.88 114.47,173.27 114.54,173.66 114.60,174.05 114.67,174.44 114.74,174.83 114.81,175.23 114.89,175.62 114.96,176.01 115.03,176.40 115.10,176.79 115.18,177.18 115.25,177.57 115.33,177.96 115.41,178.35 115.48,178.74 115.56,179.13 115.64,179.52 115.72,179.91 115.80,180.30 115.88,180.69 115.96,181.08 116.05,181.47 116.13,181.86 116.21,182.25 116.30,182.64 116.38,183.03 116.47,183.42 116.56,183.81 116.65,184.19 116.73,184.58 116.82,184.97 116.91,185.36 117.00,185.75 117.10,186.13 117.19,186.52 117.28,186.91 117.37,187.29 117.47,187.68 117.56,188.07 117.66,188.45 117.76,188.84 117.85,189.23 117.95,189.61 118.05,190.00 118.15,190.38 118.25,190.77 118.35,191.15 118.45,191.54 118.56,191.92 118.66,192.31 118.76,192.69 118.87,193.07 118.98,193.46 119.08,193.84 119.19,194.22 119.30,194.61 119.40,194.99 119.51,195.37 119.62,195.75 119.74,196.14 119.85,196.52 119.96,196.90 120.07,197.28 120.19,197.66 120.30,198.04 120.42,198.42 120.53,198.81 120.65,199.19 120.77,199.57 120.88,199.95 121.00,200.32 121.12,200.70 121.24,201.08 121.36,201.46 121.49,201.84 121.61,202.22 121.73,202.60 121.86,202.97 121.98,203.35 122.11,203.73 122.23,204.11 122.36,204.48 122.49,204.86 122.62,205.23 122.75,205.61 122.88,205.99 123.01,206.36 123.14,206.74 123.27,207.11 123.40,207.49 123.54,207.86 123.67,208.23 123.81,208.61 123.94,208.98 124.08,209.35 124.22,209.73 124.35,210.10 124.49,210.47 124.63,210.84 124.77,211.21 124.91,211.58 125.06,211.96 125.20,212.33 125.34,212.70 125.49,213.07 125.63,213.44 125.78,213.80 125.92,214.17 126.07,214.54 126.22,214.91 126.37,215.28 126.52,215.65 126.67,216.01 126.82,216.38 126.97,216.75 127.12,217.11 127.27,217.48 127.43,217.84 127.58,218.21 127.74,218.57 127.89,218.94 128.05,219.30 128.21,219.67 128.37,220.03 128.52,220.39 128.68,220.76 128.84,221.12 129.00,221.48 129.17,221.84 129.33,222.20 129.49,222.56 129.66,222.93 129.82,223.29 129.99,223.65 130.15,224.00 130.32,224.36 130.49,224.72 130.66,225.08 130.83,225.44 131.00,225.80 131.17,226.15 131.34,226.51 131.51,226.87 131.68,227.22 131.86,227.58 132.03,227.93 132.21,228.29 132.38,228.64 132.56,229.00 132.74,229.35 132.91,229.70 133.09,230.06 133.27,230.41 133.45,230.76 133.63,231.11 133.82,231.46 134.00,231.81 134.18,232.16 134.36,232.51 134.55,232.86 134.73,233.21 134.92,233.56 135.11,233.91 135.30,234.26 135.48,234.60 135.67,234.95 135.86,235.30 136.05,235.64 136.24,235.99 136.44,236.33 136.63,236.68 136.82,237.02 137.02,237.37 137.21,237.71 137.41,238.05 137.60,238.39 137.80,238.74 138.00,239.08 138.20,239.42 138.40,239.76 138.60,240.10 138.80,240.44 139.00,240.78 139.20,241.12 139.41,241.45 139.61,241.79 139.81,242.13 140.02,242.47 140.23,242.80 140.43,243.14 140.64,243.47 140.85,243.81 141.06,244.14 141.27,244.48 141.48,244.81 141.69,245.14 141.90,245.48 142.11,245.81 142.33,246.14 142.54,246.47 142.76,246.80 142.97,247.13 143.19,247.46 143.41,247.79 143.62,248.12 143.84,248.44 144.06,248.77 144.28,249.10 144.50,249.42 144.72,249.75 144.95,250.07 145.17,250.40 145.39,250.72 145.62,251.05 145.84,251.37 146.07,251.69 146.29,252.01 146.52,252.34 146.75,252.66 146.98,252.98 147.21,253.30 147.44,253.62 147.67,253.93 147.90,254.25 148.13,254.57 148.37,254.89 148.60,255.20 148.84,255.52 149.07,255.83 149.31,256.15 149.54,256.46 149.78,256.78 150.02,257.09 150.26,257.40 150.50,257.71 150.74,258.03 150.98,258.34 151.22,258.65 151.47,258.96 151.71,259.27 151.95,259.57 152.20,259.88 152.45,260.19 152.69,260.50 152.94,260.80 153.19,261.11 153.44,261.41 153.68,261.72 153.93,262.02 154.19,262.32 154.44,262.63 154.69,262.93 154.94,263.23 155.20,263.53 155.45,263.83 155.71,264.13 155.96,264.43 156.22,264.73 156.48,265.02 156.73,265.32 156.99,265.62 157.25,265.91 157.51,266.21 157.78,266.50 158.04,266.80 158.30,267.09 158.56,267.38 158.83,267.67 159.09,267.96 159.36,268.25 159.62,268.54 159.89,268.83 160.16,269.12 160.43,269.41 160.70,269.70 160.97,269.98 161.24,270.27 161.51,270.56 161.78,270.84 162.05,271.12 162.33,271.41 162.60,271.69 162.88,271.97 163.15,272.25 163.43,272.54 163.71,272.82 163.98,273.09 164.26,273.37 164.54,273.65 164.82,273.93 165.10,274.21 165.39,274.48 165.67,274.76 165.95,275.03 166.23,275.30 166.52,275.58 166.80,275.85 167.09,276.12 167.38,276.39 167.66,276.66 167.95,276.93 168.24,277.20 168.53,277.47 168.82,277.74 169.11,278.01 169.41,278.27 169.70,278.54 169.99,278.80 170.29,279.07 170.58,279.33 170.88,279.59 171.17,279.85 171.47,280.11 171.77,280.38 172.06,280.64 172.36,280.89 172.66,281.15 172.96,281.41 173.26,281.67 173.57,281.92 173.87,282.18 174.17,282.44 174.47,282.69 174.78,282.94 175.08,283.20 175.39,283.45 175.69,283.70 176.00,283.95 176.31,284.20 176.62,284.45 176.92,284.70 177.23,284.95 177.54,285.20 177.85,285.45 178.16,285.69 178.48,285.94 178.79,286.19 179.10,286.43 179.41,286.68 179.73,286.92 180.04,287.16 180.36,287.41 180.67,287.65 180.99,287.89 181.30,288.13 181.62,288.37 181.94,288.61 182.25,288.85 182.57,289.09 182.89,289.33 183.21,289.56 183.53,289.80 183.85,290.04 184.17,290.27 184.49,290.51 184.81,290.74 185.14,290.98 185.46,291.21 185.78,291.45 186.10,291.68 186.43,291.91 186.75,292.14 187.08,292.37 187.40,292.60 187.73,292.83 188.05,293.06 188.38,293.29 188.71,293.52 189.03,293.75 189.36,293.98 189.69,294.20 190.02,294.43 190.34,294.66 190.67,294.88 191.00,295.11 191.33,295.33 191.66,295.56 191.99,295.78 192.32,296.00 192.65,296.23 192.98,296.45 193.32,296.67 193.65,296.89 193.98,297.11 194.31,297.33 194.65,297.55 194.98,297.77 195.31,297.99 195.65,298.21 195.98,298.43 196.31,298.65 196.65,298.86 196.98,299.08 197.32,299.30 197.65,299.51 197.99,299.73 198.32,299.95 198.66,300.16 199.00,300.38 199.33,300.59 199.67,300.80 200.01,301.02 200.34,301.23 200.68,301.44 201.02,301.66 201.35,301.87 201.69,302.08 202.03,302.29 202.37,302.50 202.71,302.71 203.04,302.92 203.38,303.13 203.72,303.34 204.06,303.55 204.40,303.76 204.74,303.97 205.08,304.18 205.42,304.38 205.76,304.59 206.10,304.80 206.44,305.00 206.77,305.21 207.11,305.42 207.45,305.62 207.79,305.83 208.13,306.03 208.47,306.24 208.82,306.44 209.16,306.65 209.50,306.85 209.84,307.06 210.18,307.26 210.52,307.46 210.86,307.67 211.20,307.87 211.54,308.07 211.88,308.27 212.22,308.47 212.56,308.68 212.90,308.88 213.24,309.08 213.58,309.28 213.92,309.48 214.26,309.68 214.60,309.88 214.94,310.08 215.28,310.28 215.62,310.48 215.97,310.68 216.31,310.88 216.65,311.08 216.99,311.28 217.33,311.47 217.67,311.67 218.01,311.87 218.35,312.07 218.69,312.26 219.02,312.46 219.36,312.66 219.70,312.86 220.04,313.05 220.38,313.25 220.72,313.45 221.06,313.64 221.40,313.84 221.74,314.03" fill="none" stroke="#ff00ff" stroke-width="1.6" stroke-dasharray="14.7 7.3" stroke-dashoffset="19.03" stroke-linecap="butt" stroke-linejoin="round" />
</g>
<g clip-path="url(#cb1)">
<path d="M266.60 164.70m-4.5 0a4.5 4.5 0 1 0 9 0a4.5 4.5 0 1 0 -9 0M268.80 171.20m-4.5 0a4.5 4.5 0 1 0 9 0a4.5 4.5 0 1 0 -9 0M271.40 178.40m-4.5 0a4.5 4.5 0 1 0 9 0a4.5 4.5 0 1 0 -9 0M273.60 189.60m-4.5 0a4.5 4.5 0 1 0 9 0a4.5 4.5 0 1 0 -9 0M276.40 202.10m-4.5 0a4.5 4.5 0 1 0 9 0a4.5 4.5 0 1 0 -9 0M279.20 212.30m-4.5 0a4.5 4.5 0 1 0 9 0a4.5 4.5 0 1 0 -9 0M281.40 219.40m-4.5 0a4.5 4.5 0 1 0 9 0a4.5 4.5 0 1 0 -9 0M283.90 225.90m-4.5 0a4.5 4.5 0 1 0 9 0a4.5 4.5 0 1 0 -9 0M286.10 231.80m-4.5 0a4.5 4.5 0 1 0 9 0a4.5 4.5 0 1 0 -9 0M288.60 239.67m-4.5 0a4.5 4.5 0 1 0 9 0a4.5 4.5 0 1 0 -9 0M291.10 243.52m-4.5 0a4.5 4.5 0 1 0 9 0a4.5 4.5 0 1 0 -9 0M293.60 249.16m-4.5 0a4.5 4.5 0 1 0 9 0a4.5 4.5 0 1 0 -9 0M296.10 253.60m-4.5 0a4.5 4.5 0 1 0 9 0a4.5 4.5 0 1 0 -9 0M298.60 259.01m-4.5 0a4.5 4.5 0 1 0 9 0a4.5 4.5 0 1 0 -9 0M301.10 263.30m-4.5 0a4.5 4.5 0 1 0 9 0a4.5 4.5 0 1 0 -9 0M303.60 267.82m-4.5 0a4.5 4.5 0 1 0 9 0a4.5 4.5 0 1 0 -9 0M306.10 272.81m-4.5 0a4.5 4.5 0 1 0 9 0a4.5 4.5 0 1 0 -9 0M308.60 277.56m-4.5 0a4.5 4.5 0 1 0 9 0a4.5 4.5 0 1 0 -9 0M311.10 282.08m-4.5 0a4.5 4.5 0 1 0 9 0a4.5 4.5 0 1 0 -9 0M313.60 284.70m-4.5 0a4.5 4.5 0 1 0 9 0a4.5 4.5 0 1 0 -9 0M316.10 287.97m-4.5 0a4.5 4.5 0 1 0 9 0a4.5 4.5 0 1 0 -9 0M318.60 292.80m-4.5 0a4.5 4.5 0 1 0 9 0a4.5 4.5 0 1 0 -9 0M321.10 295.37m-4.5 0a4.5 4.5 0 1 0 9 0a4.5 4.5 0 1 0 -9 0M323.60 298.79m-4.5 0a4.5 4.5 0 1 0 9 0a4.5 4.5 0 1 0 -9 0M326.10 302.36m-4.5 0a4.5 4.5 0 1 0 9 0a4.5 4.5 0 1 0 -9 0M328.60 303.82m-4.5 0a4.5 4.5 0 1 0 9 0a4.5 4.5 0 1 0 -9 0M331.10 305.23m-4.5 0a4.5 4.5 0 1 0 9 0a4.5 4.5 0 1 0 -9 0M333.60 306.53m-4.5 0a4.5 4.5 0 1 0 9 0a4.5 4.5 0 1 0 -9 0M336.10 309.61m-4.5 0a4.5 4.5 0 1 0 9 0a4.5 4.5 0 1 0 -9 0M338.60 311.59m-4.5 0a4.5 4.5 0 1 0 9 0a4.5 4.5 0 1 0 -9 0" fill="#000" fill-rule="nonzero"/>
<polyline points="266.30,159.98 266.37,160.34 266.43,160.69 266.50,161.05 266.57,161.41 266.64,161.76 266.71,162.12 266.78,162.48 266.84,162.83 266.91,163.19 266.98,163.55 267.05,163.91 267.12,164.26 267.19,164.62 267.26,164.98 267.33,165.33 267.39,165.69 267.46,166.05 267.53,166.41 267.60,166.76 267.67,167.12 267.74,167.48 267.81,167.84 267.88,168.19 267.95,168.55 268.02,168.91 268.09,169.27 268.16,169.62 268.23,169.98 268.30,170.34 268.37,170.70 268.44,171.06 268.52,171.41 268.59,171.77 268.66,172.13 268.73,172.49 268.80,172.84 268.87,173.20 268.95,173.56 269.02,173.92 269.09,174.28 269.16,174.63 269.24,174.99 269.31,175.35 269.38,175.71 269.46,176.07 269.53,176.42 269.60,176.78 269.68,177.14 269.75,177.50 269.83,177.85 269.90,178.21 269.97,178.57 270.05,178.93 270.12,179.29 270.20,179.64 270.28,180.00 270.35,180.36 270.43,180.72 270.50,181.07 270.58,181.43 270.66,181.79 270.74,182.15 270.81,182.50 270.89,182.86 270.97,183.22 271.05,183.58 271.12,183.93 271.20,184.29 271.28,184.65 271.36,185.01 271.44,185.36 271.52,185.72 271.60,186.08 271.68,186.43 271.76,186.79 271.84,187.15 271.92,187.50 272.01,187.86 272.09,188.22 272.17,188.57 272.25,188.93 272.34,189.29 272.42,189.64 272.50,190.00 272.59,190.36 272.67,190.71 272.76,191.07 272.84,191.42 272.93,191.78 273.01,192.14 273.10,192.49 273.18,192.85 273.27,193.20 273.36,193.56 273.44,193.91 273.53,194.27 273.62,194.62 273.71,194.98 273.80,195.33 273.89,195.69 273.98,196.04 274.07,196.40 274.16,196.75 274.25,197.11 274.34,197.46 274.43,197.81 274.52,198.17 274.61,198.52 274.71,198.88 274.80,199.23 274.89,199.58 274.99,199.94 275.08,200.29 275.18,200.64 275.27,200.99 275.37,201.35 275.46,201.70 275.56,202.05 275.66,202.40 275.76,202.76 275.85,203.11 275.95,203.46 276.05,203.81 276.15,204.16 276.25,204.52 276.35,204.87 276.45,205.22 276.55,205.57 276.65,205.92 276.76,206.27 276.86,206.62 276.96,206.97 277.06,207.32 277.17,207.67 277.27,208.02 277.38,208.37 277.48,208.72 277.59,209.07 277.70,209.42 277.80,209.77 277.91,210.12 278.02,210.47 278.13,210.81 278.24,211.16 278.35,211.51 278.46,211.86 278.57,212.21 278.68,212.55 278.79,212.90 278.90,213.25 279.02,213.59 279.13,213.94 279.24,214.29 279.36,214.63 279.47,214.98 279.59,215.33 279.70,215.67 279.82,216.02 279.94,216.36 280.06,216.71 280.17,217.05 280.29,217.40 280.41,217.74 280.53,218.09 280.65,218.43 280.77,218.77 280.89,219.12 281.01,219.46 281.14,219.80 281.26,220.15 281.38,220.49 281.51,220.83 281.63,221.17 281.76,221.52 281.88,221.86 282.01,222.20 282.14,222.54 282.26,222.88 282.39,223.22 282.52,223.56 282.65,223.90 282.78,224.24 282.91,224.58 283.04,224.92 283.17,225.26 283.30,225.60 283.43,225.94 283.57,226.28 283.70,226.62 283.83,226.96 283.97,227.30 284.10,227.63 284.24,227.97 284.37,228.31 284.51,228.65 284.65,228.98 284.79,229.32 284.92,229.66 285.06,229.99 285.20,230.33 285.34,230.66 285.48,231.00 285.62,231.33 285.77,231.67 285.91,232.00 286.05,232.34 286.20,232.67 286.34,233.00 286.48,233.34 286.63,233.67 286.78,234.00 286.92,234.34 287.07,234.67 287.22,235.00 287.36,235.33 287.51,235.67 287.66,236.00 287.81,236.33 287.96,236.66 288.11,236.99 288.27,237.32 288.42,237.65 288.57,237.98 288.72,238.31 288.88,238.64 289.03,238.97 289.19,239.29 289.34,239.62 289.50,239.95 289.66,240.28 289.82,240.61 289.97,240.93 290.13,241.26 290.29,241.59 290.45,241.91 290.61,242.24 290.77,242.56 290.94,242.89 291.10,243.21 291.26,243.54 291.43,243.86 291.59,244.19 291.75,244.51 291.92,244.83 292.09,245.16 292.25,245.48 292.42,245.80 292.59,246.13 292.76,246.45 292.93,246.77 293.10,247.09 293.27,247.41 293.44,247.73 293.61,248.05 293.78,248.37 293.95,248.69 294.13,249.01 294.30,249.33 294.48,249.65 294.65,249.97 294.83,250.28 295.01,250.60 295.18,250.92 295.36,251.24 295.54,251.55 295.72,251.87 295.90,252.19 296.08,252.50 296.26,252.82 296.44,253.13 296.62,253.45 296.81,253.76 296.99,254.08 297.17,254.39 297.36,254.70 297.55,255.02 297.73,255.33 297.92,255.64 298.11,255.95 298.29,256.26 298.48,256.57 298.67,256.89 298.86,257.20 299.05,257.51 299.24,257.82 299.44,258.13 299.63,258.43 299.82,258.74 300.02,259.05 300.21,259.36 300.41,259.67 300.60,259.97 300.80,260.28 301.00,260.59 301.19,260.89 301.39,261.20 301.59,261.51 301.79,261.81 301.99,262.12 302.19,262.42 302.40,262.72 302.60,263.03 302.80,263.33 303.00,263.63 303.21,263.94 303.41,264.24 303.62,264.54 303.83,264.84 304.03,265.14 304.24,265.44 304.45,265.74 304.66,266.04 304.86,266.34 305.07,266.64 305.28,266.94 305.50,267.24 305.71,267.53 305.92,267.83 306.13,268.13 306.35,268.43 306.56,268.72 306.77,269.02 306.99,269.31 307.21,269.61 307.42,269.90 307.64,270.20 307.86,270.49 308.07,270.79 308.29,271.08 308.51,271.37 308.73,271.66 308.95,271.96 309.17,272.25 309.39,272.54 309.62,272.83 309.84,273.12 310.06,273.41 310.29,273.70 310.51,273.99 310.74,274.28 310.96,274.57 311.19,274.85 311.41,275.14 311.64,275.43 311.87,275.71 312.10,276.00 312.33,276.29 312.56,276.57 312.79,276.86 313.02,277.14 313.25,277.43 313.48,277.71 313.71,277.99 313.94,278.28 314.18,278.56 314.41,278.84 314.64,279.12 314.88,279.40 315.11,279.68 315.35,279.97 315.59,280.25 315.82,280.52 316.06,280.80 316.30,281.08 316.54,281.36 316.78,281.64 317.02,281.92 317.26,282.19 317.50,282.47 317.74,282.75 317.98,283.02 318.22,283.30 318.46,283.57 318.71,283.85 318.95,284.12 319.19,284.39 319.44,284.67 319.68,284.94 319.93,285.21 320.17,285.48 320.42,285.75 320.67,286.03 320.92,286.30 321.16,286.57 321.41,286.84 321.66,287.11 321.91,287.37 322.16,287.64 322.41,287.91 322.66,288.18 322.91,288.44 323.16,288.71 323.42,288.98 323.67,289.24 323.92,289.51 324.18,289.77 324.43,290.04 324.68,290.30 324.94,290.56 325.20,290.83 325.45,291.09 325.71,291.35 325.96,291.61 326.22,291.87 326.48,292.13 326.74,292.39 327.00,292.65 327.26,292.91 327.52,293.17 327.77,293.43 328.04,293.69 328.30,293.94 328.56,294.20 328.82,294.46 329.08,294.71 329.34,294.97 329.61,295.22 329.87,295.48 330.13,295.73 330.40,295.98 330.66,296.24 330.93,296.49 331.19,296.74 331.46,296.99 331.73,297.25 331.99,297.50 332.26,297.75 332.53,298.00 332.80,298.24 333.06,298.49 333.33,298.74 333.60,298.99 333.87,299.24 334.14,299.48 334.41,299.73 334.68,299.98 334.95,300.22 335.23,300.47 335.50,300.71 335.77,300.95 336.04,301.20 336.32,301.44 336.59,301.68 336.86,301.92 337.14,302.17 337.41,302.41 337.69,302.65 337.96,302.89 338.24,303.13 338.51,303.36 338.79,303.60 339.07,303.84 339.34,304.08 339.62,304.32 339.90,304.55 340.18,304.79 340.46,305.02 340.74,305.26 341.02,305.49 341.30,305.73 341.58,305.96 341.86,306.19 342.14,306.42 342.42,306.66 342.70,306.89 342.98,307.12 343.26,307.35 343.55,307.58 343.83,307.81 344.11,308.04 344.40,308.26 344.68,308.49 344.96,308.72 345.25,308.95 345.53,309.17 345.82,309.40 346.10,309.62 346.39,309.85 346.67,310.07 346.96,310.29 347.25,310.52 347.53,310.74 347.82,310.96 348.11,311.18 348.40,311.40 348.69,311.62 348.97,311.84 349.26,312.06 349.55,312.28 349.84,312.50 350.13,312.72 350.42,312.93 350.71,313.15 351.00,313.37 351.29,313.58 351.59,313.80 351.88,314.01 352.17,314.23 352.46,314.44" fill="none" stroke="#ff00ff" stroke-width="1.6" stroke-dasharray="14.7 7.3" stroke-dashoffset="19.14" stroke-linecap="butt" stroke-linejoin="round" />
</g>
<g clip-path="url(#cb2)">
<path d="M420.20 170.10m-4.5 0a4.5 4.5 0 1 0 9 0a4.5 4.5 0 1 0 -9 0M422.80 175.50m-4.5 0a4.5 4.5 0 1 0 9 0a4.5 4.5 0 1 0 -9 0M424.50 182.00m-4.5 0a4.5 4.5 0 1 0 9 0a4.5 4.5 0 1 0 -9 0M426.70 190.70m-4.5 0a4.5 4.5 0 1 0 9 0a4.5 4.5 0 1 0 -9 0M429.30 204.30m-4.5 0a4.5 4.5 0 1 0 9 0a4.5 4.5 0 1 0 -9 0M431.90 217.70m-4.5 0a4.5 4.5 0 1 0 9 0a4.5 4.5 0 1 0 -9 0M434.10 226.40m-4.5 0a4.5 4.5 0 1 0 9 0a4.5 4.5 0 1 0 -9 0M436.20 233.90m-4.5 0a4.5 4.5 0 1 0 9 0a4.5 4.5 0 1 0 -9 0M438.50 241.20m-4.5 0a4.5 4.5 0 1 0 9 0a4.5 4.5 0 1 0 -9 0M441.00 247.48m-4.5 0a4.5 4.5 0 1 0 9 0a4.5 4.5 0 1 0 -9 0M443.50 250.28m-4.5 0a4.5 4.5 0 1 0 9 0a4.5 4.5 0 1 0 -9 0M446.00 255.04m-4.5 0a4.5 4.5 0 1 0 9 0a4.5 4.5 0 1 0 -9 0M448.50 257.08m-4.5 0a4.5 4.5 0 1 0 9 0a4.5 4.5 0 1 0 -9 0M451.00 260.23m-4.5 0a4.5 4.5 0 1 0 9 0a4.5 4.5 0 1 0 -9 0M453.50 263.79m-4.5 0a4.5 4.5 0 1 0 9 0a4.5 4.5 0 1 0 -9 0M456.00 266.33m-4.5 0a4.5 4.5 0 1 0 9 0a4.5 4.5 0 1 0 -9 0M458.50 267.88m-4.5 0a4.5 4.5 0 1 0 9 0a4.5 4.5 0 1 0 -9 0M461.00 269.56m-4.5 0a4.5 4.5 0 1 0 9 0a4.5 4.5 0 1 0 -9 0M463.50 270.72m-4.5 0a4.5 4.5 0 1 0 9 0a4.5 4.5 0 1 0 -9 0M466.00 271.15m-4.5 0a4.5 4.5 0 1 0 9 0a4.5 4.5 0 1 0 -9 0M468.50 271.60m-4.5 0a4.5 4.5 0 1 0 9 0a4.5 4.5 0 1 0 -9 0M471.00 275.04m-4.5 0a4.5 4.5 0 1 0 9 0a4.5 4.5 0 1 0 -9 0M473.50 277.27m-4.5 0a4.5 4.5 0 1 0 9 0a4.5 4.5 0 1 0 -9 0M476.00 279.43m-4.5 0a4.5 4.5 0 1 0 9 0a4.5 4.5 0 1 0 -9 0M478.50 281.19m-4.5 0a4.5 4.5 0 1 0 9 0a4.5 4.5 0 1 0 -9 0M481.00 283.67m-4.5 0a4.5 4.5 0 1 0 9 0a4.5 4.5 0 1 0 -9 0M483.50 284.44m-4.5 0a4.5 4.5 0 1 0 9 0a4.5 4.5 0 1 0 -9 0M486.00 285.59m-4.5 0a4.5 4.5 0 1 0 9 0a4.5 4.5 0 1 0 -9 0M488.50 287.46m-4.5 0a4.5 4.5 0 1 0 9 0a4.5 4.5 0 1 0 -9 0M491.00 288.74m-4.5 0a4.5 4.5 0 1 0 9 0a4.5 4.5 0 1 0 -9 0M493.50 292.33m-4.5 0a4.5 4.5 0 1 0 9 0a4.5 4.5 0 1 0 -9 0M496.00 292.59m-4.5 0a4.5 4.5 0 1 0 9 0a4.5 4.5 0 1 0 -9 0M498.50 292.99m-4.5 0a4.5 4.5 0 1 0 9 0a4.5 4.5 0 1 0 -9 0M501.00 292.94m-4.5 0a4.5 4.5 0 1 0 9 0a4.5 4.5 0 1 0 -9 0M503.50 293.50m-4.5 0a4.5 4.5 0 1 0 9 0a4.5 4.5 0 1 0 -9 0M506.00 293.77m-4.5 0a4.5 4.5 0 1 0 9 0a4.5 4.5 0 1 0 -9 0M508.50 294.40m-4.5 0a4.5 4.5 0 1 0 9 0a4.5 4.5 0 1 0 -9 0M511.00 295.97m-4.5 0a4.5 4.5 0 1 0 9 0a4.5 4.5 0 1 0 -9 0M513.50 295.51m-4.5 0a4.5 4.5 0 1 0 9 0a4.5 4.5 0 1 0 -9 0M516.00 299.71m-4.5 0a4.5 4.5 0 1 0 9 0a4.5 4.5 0 1 0 -9 0M518.50 299.75m-4.5 0a4.5 4.5 0 1 0 9 0a4.5 4.5 0 1 0 -9 0M521.00 299.10m-4.5 0a4.5 4.5 0 1 0 9 0a4.5 4.5 0 1 0 -9 0M523.50 300.19m-4.5 0a4.5 4.5 0 1 0 9 0a4.5 4.5 0 1 0 -9 0M526.00 302.11m-4.5 0a4.5 4.5 0 1 0 9 0a4.5 4.5 0 1 0 -9 0M528.50 303.00m-4.5 0a4.5 4.5 0 1 0 9 0a4.5 4.5 0 1 0 -9 0M531.00 305.97m-4.5 0a4.5 4.5 0 1 0 9 0a4.5 4.5 0 1 0 -9 0M533.50 306.01m-4.5 0a4.5 4.5 0 1 0 9 0a4.5 4.5 0 1 0 -9 0M536.00 307.73m-4.5 0a4.5 4.5 0 1 0 9 0a4.5 4.5 0 1 0 -9 0M538.50 307.66m-4.5 0a4.5 4.5 0 1 0 9 0a4.5 4.5 0 1 0 -9 0M541.00 309.94m-4.5 0a4.5 4.5 0 1 0 9 0a4.5 4.5 0 1 0 -9 0M543.50 310.60m-4.5 0a4.5 4.5 0 1 0 9 0a4.5 4.5 0 1 0 -9 0M546.00 311.94m-4.5 0a4.5 4.5 0 1 0 9 0a4.5 4.5 0 1 0 -9 0" fill="#000" fill-rule="nonzero"/>
<line x1="418.20" y1="252.90" x2="550.00" y2="311.80" stroke="#00ffff" stroke-width="1.8" stroke-dasharray="9.2 2.7 1.8 2.7" stroke-dashoffset="15.60"/>
<polyline points="419.37,160.04 419.39,160.36 419.42,160.67 419.44,160.99 419.46,161.30 419.48,161.61 419.50,161.93 419.53,162.24 419.55,162.56 419.57,162.87 419.59,163.19 419.61,163.50 419.64,163.82 419.66,164.13 419.68,164.45 419.70,164.76 419.73,165.08 419.75,165.40 419.77,165.71 419.79,166.03 419.81,166.34 419.84,166.66 419.86,166.97 419.88,167.29 419.90,167.60 419.93,167.92 419.95,168.23 419.97,168.55 420.00,168.87 420.02,169.18 420.04,169.50 420.06,169.81 420.09,170.13 420.11,170.45 420.13,170.76 420.16,171.08 420.18,171.39 420.20,171.71 420.22,172.03 420.25,172.34 420.27,172.66 420.29,172.97 420.32,173.29 420.34,173.61 420.37,173.92 420.39,174.24 420.41,174.56 420.44,174.87 420.46,175.19 420.48,175.50 420.51,175.82 420.53,176.14 420.56,176.45 420.58,176.77 420.60,177.09 420.63,177.40 420.65,177.72 420.68,178.04 420.70,178.35 420.72,178.67 420.75,178.99 420.77,179.30 420.80,179.62 420.82,179.94 420.85,180.25 420.87,180.57 420.90,180.89 420.92,181.21 420.95,181.52 420.97,181.84 421.00,182.16 421.02,182.47 421.05,182.79 421.07,183.11 421.10,183.42 421.13,183.74 421.15,184.06 421.18,184.38 421.20,184.69 421.23,185.01 421.26,185.33 421.28,185.64 421.31,185.96 421.33,186.28 421.36,186.60 421.39,186.91 421.41,187.23 421.44,187.55 421.47,187.86 421.49,188.18 421.52,188.50 421.55,188.82 421.58,189.13 421.60,189.45 421.63,189.77 421.66,190.09 421.69,190.40 421.71,190.72 421.74,191.04 421.77,191.36 421.80,191.67 421.83,191.99 421.85,192.31 421.88,192.63 421.91,192.94 421.94,193.26 421.97,193.58 422.00,193.90 422.03,194.21 422.06,194.53 422.08,194.85 422.11,195.16 422.14,195.48 422.17,195.80 422.20,196.12 422.23,196.43 422.26,196.75 422.29,197.07 422.32,197.39 422.35,197.70 422.38,198.02 422.41,198.34 422.44,198.66 422.48,198.97 422.51,199.29 422.54,199.61 422.57,199.93 422.60,200.24 422.63,200.56 422.66,200.88 422.69,201.20 422.73,201.51 422.76,201.83 422.79,202.15 422.82,202.47 422.86,202.78 422.89,203.10 422.92,203.42 422.95,203.74 422.99,204.05 423.02,204.37 423.05,204.69 423.09,205.01 423.12,205.32 423.15,205.64 423.19,205.96 423.22,206.27 423.26,206.59 423.29,206.91 423.32,207.23 423.36,207.54 423.39,207.86 423.43,208.18 423.46,208.50 423.50,208.81 423.54,209.13 423.57,209.45 423.61,209.76 423.64,210.08 423.68,210.40 423.71,210.72 423.75,211.03 423.79,211.35 423.82,211.67 423.86,211.98 423.90,212.30 423.94,212.62 423.97,212.93 424.01,213.25 424.05,213.57 424.09,213.89 424.12,214.20 424.16,214.52 424.20,214.84 424.24,215.15 424.28,215.47 424.32,215.79 424.36,216.10 424.40,216.42 424.44,216.74 424.47,217.05 424.51,217.37 424.55,217.69 424.59,218.00 424.64,218.32 424.68,218.64 424.72,218.95 424.76,219.27 424.80,219.59 424.84,219.90 424.88,220.22 424.92,220.53 424.97,220.85 425.01,221.17 425.05,221.48 425.09,221.80 425.14,222.12 425.18,222.43 425.22,222.75 425.26,223.06 425.31,223.38 425.35,223.70 425.40,224.01 425.44,224.33 425.48,224.64 425.53,224.96 425.57,225.28 425.62,225.59 425.66,225.91 425.71,226.22 425.75,226.54 425.80,226.85 425.85,227.17 425.89,227.49 425.94,227.80 425.99,228.12 426.03,228.43 426.08,228.75 426.13,229.06 426.17,229.38 426.22,229.69 426.27,230.01 426.32,230.32 426.37,230.64 426.41,230.95 426.46,231.27 426.51,231.58 426.56,231.90 426.61,232.21 426.66,232.53 426.71,232.84 426.76,233.16 426.81,233.47 426.86,233.79 426.91,234.10 426.96,234.42 427.02,234.73 427.07,235.05 427.12,235.36 427.17,235.67 427.22,235.99 427.28,236.30 427.33,236.62 427.38,236.93 427.44,237.25 427.49,237.56 427.54,237.87 427.60,238.19 427.65,238.50 427.70,238.82 427.76,239.13 427.81,239.44 427.87,239.76 427.93,240.07 427.98,240.38 428.04,240.70 428.09,241.01 428.15,241.32 428.21,241.64 428.26,241.95 428.32,242.26 428.38,242.58 428.44,242.89 428.49,243.20 428.55,243.52 428.61,243.83 428.67,244.14 428.73,244.46 428.79,244.77 428.85,245.08 428.91,245.39 428.97,245.71 429.03,246.02 429.09,246.33 429.15,246.64 429.21,246.96 429.27,247.27 429.33,247.58 429.40,247.89 429.46,248.20 429.52,248.52 429.58,248.83 429.65,249.14 429.71,249.45 429.77,249.76 429.84,250.07 429.90,250.39 429.97,250.70 430.03,251.01 430.10,251.32 430.16,251.63 430.23,251.94 430.29,252.25 430.36,252.56 430.43,252.88 430.49,253.19 430.56,253.50 430.63,253.81 430.69,254.12 430.76,254.43 430.83,254.74 430.90,255.05 430.97,255.36 431.04,255.67 431.11,255.98 431.18,256.29 431.25,256.60 431.32,256.91 431.39,257.22 431.46,257.53 431.53,257.84 431.60,258.15 431.67,258.46 431.74,258.77 431.82,259.08 431.89,259.39 431.96,259.70 432.04,260.01 432.11,260.32 432.18,260.62 432.26,260.93 432.33,261.24 432.41,261.55 432.48,261.86 432.56,262.17 432.63,262.48 432.71,262.78 432.79,263.09 432.86,263.40 432.94,263.71 433.02,264.02 433.10,264.33 433.17,264.63 433.25,264.94 433.33,265.25 433.41,265.56 433.49,265.86 433.57,266.17 433.65,266.48 433.73,266.79 433.81,267.09 433.89,267.40 433.97,267.71 434.05,268.01 434.14,268.32 434.22,268.63 434.30,268.93 434.38,269.24 434.47,269.55 434.55,269.85 434.64,270.16 434.72,270.46 434.81,270.77 434.89,271.08 434.98,271.38 435.06,271.69 435.15,271.99 435.23,272.30 435.32,272.60 435.41,272.91 435.50,273.21 435.58,273.52 435.67,273.82 435.76,274.13 435.85,274.43 435.94,274.74 436.03,275.04 436.12,275.35 436.21,275.65 436.30,275.96 436.39,276.26 436.48,276.56 436.57,276.87 436.67,277.17 436.76,277.48 436.85,277.78 436.94,278.08 437.04,278.39 437.13,278.69 437.23,278.99 437.32,279.29 437.42,279.60 437.51,279.90 437.61,280.20 437.70,280.51 437.80,280.81 437.90,281.11 437.99,281.41 438.09,281.71 438.19,282.02 438.29,282.32 438.39,282.62 438.49,282.92 438.59,283.22 438.69,283.53 438.79,283.83 438.89,284.13 438.99,284.43 439.09,284.73 439.19,285.03 439.29,285.33 439.40,285.63 439.50,285.93 439.60,286.23 439.71,286.53 439.81,286.83 439.91,287.13 440.02,287.43 440.12,287.73 440.23,288.03 440.34,288.33 440.44,288.63 440.55,288.93 440.66,289.23 440.77,289.53 440.87,289.83 440.98,290.13 441.09,290.42 441.20,290.72 441.31,291.02 441.42,291.32 441.53,291.62 441.64,291.92 441.75,292.21 441.86,292.51 441.98,292.81 442.09,293.11 442.20,293.40 442.32,293.70 442.43,294.00 442.54,294.30 442.66,294.59 442.77,294.89 442.89,295.19 443.00,295.48 443.12,295.78 443.24,296.07 443.36,296.37 443.47,296.67 443.59,296.96 443.71,297.26 443.83,297.55 443.95,297.85 444.07,298.14 444.19,298.44 444.31,298.73 444.43,299.03 444.55,299.32 444.67,299.62 444.79,299.91 444.92,300.21 445.04,300.50 445.16,300.79 445.29,301.09 445.41,301.38 445.54,301.68 445.66,301.97 445.79,302.26 445.91,302.56 446.04,302.85 446.17,303.14 446.30,303.43 446.42,303.73 446.55,304.02 446.68,304.31 446.81,304.60 446.94,304.90 447.07,305.19 447.20,305.48 447.33,305.77 447.46,306.06 447.60,306.35 447.73,306.64 447.86,306.93 447.99,307.23 448.13,307.52 448.26,307.81 448.40,308.10 448.53,308.39 448.67,308.68 448.80,308.97 448.94,309.26 449.08,309.55 449.21,309.84 449.35,310.12 449.49,310.41 449.63,310.70 449.77,310.99 449.91,311.28 450.05,311.57 450.19,311.86 450.33,312.15 450.47,312.43 450.62,312.72 450.76,313.01 450.90,313.30 451.04,313.58 451.19,313.87 451.33,314.16 451.48,314.44" fill="none" stroke="#ff00ff" stroke-width="1.6" stroke-dasharray="14.7 7.3" stroke-dashoffset="9.36" stroke-linecap="butt" stroke-linejoin="round" />
</g>
<g clip-path="url(#cb3)">
<path d="M574.60 176.60m-4.5 0a4.5 4.5 0 1 0 9 0a4.5 4.5 0 1 0 -9 0M576.80 180.90m-4.5 0a4.5 4.5 0 1 0 9 0a4.5 4.5 0 1 0 -9 0M579.00 188.50m-4.5 0a4.5 4.5 0 1 0 9 0a4.5 4.5 0 1 0 -9 0M581.60 199.30m-4.5 0a4.5 4.5 0 1 0 9 0a4.5 4.5 0 1 0 -9 0M584.40 212.30m-4.5 0a4.5 4.5 0 1 0 9 0a4.5 4.5 0 1 0 -9 0M586.50 223.80m-4.5 0a4.5 4.5 0 1 0 9 0a4.5 4.5 0 1 0 -9 0M589.80 230.70m-4.5 0a4.5 4.5 0 1 0 9 0a4.5 4.5 0 1 0 -9 0M592.40 235.00m-4.5 0a4.5 4.5 0 1 0 9 0a4.5 4.5 0 1 0 -9 0M594.90 238.92m-4.5 0a4.5 4.5 0 1 0 9 0a4.5 4.5 0 1 0 -9 0M597.40 242.62m-4.5 0a4.5 4.5 0 1 0 9 0a4.5 4.5 0 1 0 -9 0M599.90 245.06m-4.5 0a4.5 4.5 0 1 0 9 0a4.5 4.5 0 1 0 -9 0M602.40 247.76m-4.5 0a4.5 4.5 0 1 0 9 0a4.5 4.5 0 1 0 -9 0M604.90 249.37m-4.5 0a4.5 4.5 0 1 0 9 0a4.5 4.5 0 1 0 -9 0M607.40 251.01m-4.5 0a4.5 4.5 0 1 0 9 0a4.5 4.5 0 1 0 -9 0M609.90 252.73m-4.5 0a4.5 4.5 0 1 0 9 0a4.5 4.5 0 1 0 -9 0M612.40 253.82m-4.5 0a4.5 4.5 0 1 0 9 0a4.5 4.5 0 1 0 -9 0M614.90 255.00m-4.5 0a4.5 4.5 0 1 0 9 0a4.5 4.5 0 1 0 -9 0M617.40 256.05m-4.5 0a4.5 4.5 0 1 0 9 0a4.5 4.5 0 1 0 -9 0M619.90 256.29m-4.5 0a4.5 4.5 0 1 0 9 0a4.5 4.5 0 1 0 -9 0M622.40 256.41m-4.5 0a4.5 4.5 0 1 0 9 0a4.5 4.5 0 1 0 -9 0M624.90 257.59m-4.5 0a4.5 4.5 0 1 0 9 0a4.5 4.5 0 1 0 -9 0M627.40 259.08m-4.5 0a4.5 4.5 0 1 0 9 0a4.5 4.5 0 1 0 -9 0M629.90 261.06m-4.5 0a4.5 4.5 0 1 0 9 0a4.5 4.5 0 1 0 -9 0M632.40 261.91m-4.5 0a4.5 4.5 0 1 0 9 0a4.5 4.5 0 1 0 -9 0M634.90 262.73m-4.5 0a4.5 4.5 0 1 0 9 0a4.5 4.5 0 1 0 -9 0M637.40 265.02m-4.5 0a4.5 4.5 0 1 0 9 0a4.5 4.5 0 1 0 -9 0M639.90 265.47m-4.5 0a4.5 4.5 0 1 0 9 0a4.5 4.5 0 1 0 -9 0M642.40 266.38m-4.5 0a4.5 4.5 0 1 0 9 0a4.5 4.5 0 1 0 -9 0M644.90 268.91m-4.5 0a4.5 4.5 0 1 0 9 0a4.5 4.5 0 1 0 -9 0M647.40 269.56m-4.5 0a4.5 4.5 0 1 0 9 0a4.5 4.5 0 1 0 -9 0M649.90 271.57m-4.5 0a4.5 4.5 0 1 0 9 0a4.5 4.5 0 1 0 -9 0M652.40 272.57m-4.5 0a4.5 4.5 0 1 0 9 0a4.5 4.5 0 1 0 -9 0M654.90 273.80m-4.5 0a4.5 4.5 0 1 0 9 0a4.5 4.5 0 1 0 -9 0M657.40 275.29m-4.5 0a4.5 4.5 0 1 0 9 0a4.5 4.5 0 1 0 -9 0M659.90 277.27m-4.5 0a4.5 4.5 0 1 0 9 0a4.5 4.5 0 1 0 -9 0M662.40 278.98m-4.5 0a4.5 4.5 0 1 0 9 0a4.5 4.5 0 1 0 -9 0M664.90 280.25m-4.5 0a4.5 4.5 0 1 0 9 0a4.5 4.5 0 1 0 -9 0M667.40 281.95m-4.5 0a4.5 4.5 0 1 0 9 0a4.5 4.5 0 1 0 -9 0M669.90 282.51m-4.5 0a4.5 4.5 0 1 0 9 0a4.5 4.5 0 1 0 -9 0M672.40 284.61m-4.5 0a4.5 4.5 0 1 0 9 0a4.5 4.5 0 1 0 -9 0M674.90 284.80m-4.5 0a4.5 4.5 0 1 0 9 0a4.5 4.5 0 1 0 -9 0M677.40 286.62m-4.5 0a4.5 4.5 0 1 0 9 0a4.5 4.5 0 1 0 -9 0M679.90 288.05m-4.5 0a4.5 4.5 0 1 0 9 0a4.5 4.5 0 1 0 -9 0M682.40 289.21m-4.5 0a4.5 4.5 0 1 0 9 0a4.5 4.5 0 1 0 -9 0M684.90 292.12m-4.5 0a4.5 4.5 0 1 0 9 0a4.5 4.5 0 1 0 -9 0M687.40 293.29m-4.5 0a4.5 4.5 0 1 0 9 0a4.5 4.5 0 1 0 -9 0M689.90 296.98m-4.5 0a4.5 4.5 0 1 0 9 0a4.5 4.5 0 1 0 -9 0M692.40 299.39m-4.5 0a4.5 4.5 0 1 0 9 0a4.5 4.5 0 1 0 -9 0M694.90 301.42m-4.5 0a4.5 4.5 0 1 0 9 0a4.5 4.5 0 1 0 -9 0M697.40 301.71m-4.5 0a4.5 4.5 0 1 0 9 0a4.5 4.5 0 1 0 -9 0M699.90 303.53m-4.5 0a4.5 4.5 0 1 0 9 0a4.5 4.5 0 1 0 -9 0M702.40 305.41m-4.5 0a4.5 4.5 0 1 0 9 0a4.5 4.5 0 1 0 -9 0M704.90 305.73m-4.5 0a4.5 4.5 0 1 0 9 0a4.5 4.5 0 1 0 -9 0M707.40 309.21m-4.5 0a4.5 4.5 0 1 0 9 0a4.5 4.5 0 1 0 -9 0M709.90 311.47m-4.5 0a4.5 4.5 0 1 0 9 0a4.5 4.5 0 1 0 -9 0" fill="#000" fill-rule="nonzero"/>
<line x1="571.90" y1="238.70" x2="721.90" y2="304.60" stroke="#00ffff" stroke-width="1.8" stroke-dasharray="9.2 2.7 1.8 2.7" stroke-dashoffset="13.60"/>
<polyline points="572.90,159.96 572.94,160.31 572.97,160.67 573.01,161.03 573.04,161.38 573.08,161.74 573.12,162.09 573.15,162.45 573.19,162.81 573.23,163.16 573.27,163.52 573.31,163.88 573.34,164.23 573.38,164.59 573.42,164.95 573.46,165.30 573.50,165.66 573.54,166.02 573.58,166.37 573.62,166.73 573.66,167.09 573.70,167.45 573.74,167.80 573.78,168.16 573.82,168.52 573.86,168.87 573.90,169.23 573.94,169.59 573.99,169.95 574.03,170.30 574.07,170.66 574.11,171.02 574.16,171.37 574.20,171.73 574.24,172.09 574.29,172.45 574.33,172.80 574.38,173.16 574.42,173.52 574.47,173.88 574.51,174.23 574.56,174.59 574.60,174.95 574.65,175.30 574.70,175.66 574.74,176.02 574.79,176.38 574.84,176.73 574.89,177.09 574.94,177.45 574.98,177.81 575.03,178.16 575.08,178.52 575.13,178.88 575.18,179.23 575.23,179.59 575.28,179.95 575.33,180.31 575.38,180.66 575.43,181.02 575.49,181.38 575.54,181.73 575.59,182.09 575.64,182.45 575.70,182.81 575.75,183.16 575.80,183.52 575.86,183.88 575.91,184.23 575.97,184.59 576.02,184.95 576.08,185.30 576.13,185.66 576.19,186.02 576.24,186.37 576.30,186.73 576.36,187.09 576.42,187.44 576.47,187.80 576.53,188.16 576.59,188.51 576.65,188.87 576.71,189.22 576.77,189.58 576.83,189.94 576.89,190.29 576.95,190.65 577.01,191.00 577.07,191.36 577.14,191.71 577.20,192.07 577.26,192.43 577.33,192.78 577.39,193.14 577.45,193.49 577.52,193.85 577.58,194.20 577.65,194.56 577.72,194.91 577.78,195.27 577.85,195.62 577.92,195.97 577.98,196.33 578.05,196.68 578.12,197.04 578.19,197.39 578.26,197.75 578.33,198.10 578.40,198.45 578.47,198.81 578.54,199.16 578.61,199.52 578.68,199.87 578.75,200.22 578.83,200.58 578.90,200.93 578.97,201.28 579.05,201.63 579.12,201.99 579.20,202.34 579.27,202.69 579.35,203.04 579.43,203.40 579.50,203.75 579.58,204.10 579.66,204.45 579.74,204.80 579.82,205.16 579.89,205.51 579.97,205.86 580.05,206.21 580.14,206.56 580.22,206.91 580.30,207.26 580.38,207.61 580.46,207.96 580.55,208.31 580.63,208.67 580.71,209.02 580.80,209.37 580.88,209.71 580.97,210.06 581.06,210.41 581.14,210.76 581.23,211.11 581.32,211.46 581.41,211.81 581.49,212.16 581.58,212.51 581.67,212.86 581.76,213.20 581.86,213.55 581.95,213.90 582.04,214.25 582.13,214.59 582.22,214.94 582.32,215.29 582.41,215.64 582.51,215.98 582.60,216.33 582.70,216.67 582.79,217.02 582.89,217.37 582.99,217.71 583.09,218.06 583.18,218.40 583.28,218.75 583.38,219.09 583.48,219.44 583.58,219.78 583.69,220.13 583.79,220.47 583.89,220.82 583.99,221.16 584.10,221.50 584.20,221.85 584.31,222.19 584.41,222.53 584.52,222.87 584.62,223.22 584.73,223.56 584.84,223.90 584.95,224.24 585.06,224.59 585.17,224.93 585.28,225.27 585.39,225.61 585.50,225.95 585.61,226.29 585.72,226.63 585.84,226.97 585.95,227.31 586.06,227.65 586.18,227.99 586.30,228.33 586.41,228.67 586.53,229.01 586.65,229.34 586.76,229.68 586.88,230.02 587.00,230.36 587.12,230.69 587.24,231.03 587.36,231.37 587.49,231.70 587.61,232.04 587.73,232.38 587.86,232.71 587.98,233.05 588.11,233.38 588.23,233.72 588.36,234.05 588.49,234.39 588.61,234.72 588.74,235.06 588.87,235.39 589.00,235.72 589.13,236.06 589.26,236.39 589.40,236.72 589.53,237.05 589.66,237.39 589.80,237.72 589.93,238.05 590.07,238.38 590.20,238.71 590.34,239.04 590.48,239.37 590.61,239.70 590.75,240.03 590.89,240.36 591.03,240.69 591.17,241.02 591.32,241.35 591.46,241.68 591.60,242.00 591.74,242.33 591.89,242.66 592.03,242.98 592.18,243.31 592.33,243.64 592.47,243.96 592.62,244.29 592.77,244.61 592.92,244.94 593.07,245.26 593.22,245.59 593.37,245.91 593.53,246.24 593.68,246.56 593.83,246.88 593.99,247.21 594.14,247.53 594.30,247.85 594.46,248.17 594.61,248.49 594.77,248.81 594.93,249.14 595.09,249.46 595.25,249.78 595.41,250.10 595.58,250.42 595.74,250.73 595.90,251.05 596.07,251.37 596.23,251.69 596.40,252.01 596.57,252.32 596.73,252.64 596.90,252.96 597.07,253.27 597.24,253.59 597.41,253.90 597.58,254.22 597.76,254.53 597.93,254.85 598.10,255.16 598.28,255.48 598.45,255.79 598.63,256.10 598.81,256.42 598.98,256.73 599.16,257.04 599.34,257.35 599.52,257.66 599.70,257.97 599.88,258.28 600.06,258.59 600.25,258.90 600.43,259.21 600.61,259.52 600.80,259.83 600.98,260.14 601.17,260.45 601.36,260.75 601.54,261.06 601.73,261.37 601.92,261.67 602.11,261.98 602.30,262.28 602.49,262.59 602.68,262.89 602.88,263.20 603.07,263.50 603.26,263.81 603.46,264.11 603.65,264.41 603.85,264.71 604.04,265.02 604.24,265.32 604.44,265.62 604.64,265.92 604.84,266.22 605.04,266.52 605.24,266.82 605.44,267.12 605.64,267.42 605.84,267.72 606.05,268.01 606.25,268.31 606.45,268.61 606.66,268.91 606.86,269.20 607.07,269.50 607.28,269.79 607.49,270.09 607.69,270.38 607.90,270.68 608.11,270.97 608.32,271.26 608.53,271.56 608.75,271.85 608.96,272.14 609.17,272.43 609.38,272.73 609.60,273.02 609.81,273.31 610.03,273.60 610.24,273.89 610.46,274.18 610.68,274.47 610.89,274.75 611.11,275.04 611.33,275.33 611.55,275.62 611.77,275.90 611.99,276.19 612.21,276.48 612.44,276.76 612.66,277.05 612.88,277.33 613.10,277.61 613.33,277.90 613.55,278.18 613.78,278.46 614.00,278.75 614.23,279.03 614.46,279.31 614.69,279.59 614.91,279.87 615.14,280.15 615.37,280.43 615.60,280.71 615.83,280.99 616.06,281.27 616.30,281.55 616.53,281.82 616.76,282.10 616.99,282.38 617.23,282.65 617.46,282.93 617.70,283.20 617.93,283.48 618.17,283.75 618.41,284.03 618.64,284.30 618.88,284.57 619.12,284.85 619.36,285.12 619.60,285.39 619.84,285.66 620.08,285.93 620.32,286.20 620.56,286.47 620.80,286.74 621.04,287.01 621.29,287.28 621.53,287.55 621.77,287.81 622.02,288.08 622.26,288.35 622.51,288.61 622.75,288.88 623.00,289.14 623.25,289.41 623.49,289.67 623.74,289.94 623.99,290.20 624.24,290.46 624.49,290.72 624.74,290.99 624.99,291.25 625.24,291.51 625.49,291.77 625.74,292.03 625.99,292.29 626.25,292.55 626.50,292.80 626.75,293.06 627.01,293.32 627.26,293.58 627.52,293.83 627.77,294.09 628.03,294.34 628.28,294.60 628.54,294.85 628.80,295.11 629.06,295.36 629.31,295.61 629.57,295.87 629.83,296.12 630.09,296.37 630.35,296.62 630.61,296.87 630.87,297.12 631.13,297.37 631.39,297.62 631.66,297.87 631.92,298.11 632.18,298.36 632.44,298.61 632.71,298.85 632.97,299.10 633.24,299.35 633.50,299.59 633.77,299.83 634.03,300.08 634.30,300.32 634.57,300.56 634.83,300.81 635.10,301.05 635.37,301.29 635.64,301.53 635.90,301.77 636.17,302.01 636.44,302.25 636.71,302.49 636.98,302.72 637.25,302.96 637.52,303.20 637.79,303.44 638.07,303.67 638.34,303.91 638.61,304.14 638.88,304.38 639.16,304.61 639.43,304.84 639.70,305.08 639.98,305.31 640.25,305.54 640.53,305.77 640.80,306.00 641.08,306.23 641.35,306.46 641.63,306.69 641.91,306.92 642.18,307.14 642.46,307.37 642.74,307.60 643.01,307.83 643.29,308.05 643.57,308.28 643.85,308.50 644.13,308.72 644.41,308.95 644.69,309.17 644.97,309.39 645.25,309.61 645.53,309.84 645.81,310.06 646.09,310.28 646.37,310.50 646.66,310.71 646.94,310.93 647.22,311.15 647.50,311.37 647.79,311.59 648.07,311.80 648.36,312.02 648.64,312.23 648.92,312.45 649.21,312.66 649.49,312.87 649.78,313.09 650.06,313.30 650.35,313.51 650.64,313.72 650.92,313.93 651.21,314.14 651.50,314.35" fill="none" stroke="#ff00ff" stroke-width="1.6" stroke-dasharray="14.7 7.3" stroke-dashoffset="16.30" stroke-linecap="butt" stroke-linejoin="round" />
</g>
<path d="M110.60 7.00L725.20 7.00M110.60 160.00L725.20 160.00M110.60 314.40L725.20 314.40M110.60 7.00L110.60 314.40M264.25 7.00L264.25 314.40M417.90 7.00L417.90 314.40M571.55 7.00L571.55 314.40M725.20 7.00L725.20 314.40M116.77 7.00L116.77 8.60M116.77 158.40L116.77 161.60M116.77 312.80L116.77 314.40M122.94 7.00L122.94 8.60M122.94 158.40L122.94 161.60M122.94 312.80L122.94 314.40M129.11 7.00L129.11 8.60M129.11 158.40L129.11 161.60M129.11 312.80L129.11 314.40M135.28 7.00L135.28 8.60M135.28 158.40L135.28 161.60M135.28 312.80L135.28 314.40M141.45 7.00L141.45 10.40M141.45 156.60L141.45 163.40M141.45 311.00L141.45 314.40M147.62 7.00L147.62 8.60M147.62 158.40L147.62 161.60M147.62 312.80L147.62 314.40M153.79 7.00L153.79 8.60M153.79 158.40L153.79 161.60M153.79 312.80L153.79 314.40M159.96 7.00L159.96 8.60M159.96 158.40L159.96 161.60M159.96 312.80L159.96 314.40M166.13 7.00L166.13 8.60M166.13 158.40L166.13 161.60M166.13 312.80L166.13 314.40M172.30 7.00L172.30 10.40M172.30 156.60L172.30 163.40M172.30 311.00L172.30 314.40M178.47 7.00L178.47 8.60M178.47 158.40L178.47 161.60M178.47 312.80L178.47 314.40M184.64 7.00L184.64 8.60M184.64 158.40L184.64 161.60M184.64 312.80L184.64 314.40M190.81 7.00L190.81 8.60M190.81 158.40L190.81 161.60M190.81 312.80L190.81 314.40M196.98 7.00L196.98 8.60M196.98 158.40L196.98 161.60M196.98 312.80L196.98 314.40M203.15 7.00L203.15 10.40M203.15 156.60L203.15 163.40M203.15 311.00L203.15 314.40M209.32 7.00L209.32 8.60M209.32 158.40L209.32 161.60M209.32 312.80L209.32 314.40M215.49 7.00L215.49 8.60M215.49 158.40L215.49 161.60M215.49 312.80L215.49 314.40M221.66 7.00L221.66 8.60M221.66 158.40L221.66 161.60M221.66 312.80L221.66 314.40M227.83 7.00L227.83 8.60M227.83 158.40L227.83 161.60M227.83 312.80L227.83 314.40M234.00 7.00L234.00 10.40M234.00 156.60L234.00 163.40M234.00 311.00L234.00 314.40M240.17 7.00L240.17 8.60M240.17 158.40L240.17 161.60M240.17 312.80L240.17 314.40M246.34 7.00L246.34 8.60M246.34 158.40L246.34 161.60M246.34 312.80L246.34 314.40M252.51 7.00L252.51 8.60M252.51 158.40L252.51 161.60M252.51 312.80L252.51 314.40M258.68 7.00L258.68 8.60M258.68 158.40L258.68 161.60M258.68 312.80L258.68 314.40M110.60 160.00L113.90 160.00M261.55 160.00L264.85 160.00M110.60 156.18L112.00 156.18M263.45 156.18L264.85 156.18M110.60 152.35L112.00 152.35M263.45 152.35L264.85 152.35M110.60 148.53L112.00 148.53M263.45 148.53L264.85 148.53M110.60 144.70L112.00 144.70M263.45 144.70L264.85 144.70M110.60 140.88L112.00 140.88M263.45 140.88L264.85 140.88M110.60 137.05L112.00 137.05M263.45 137.05L264.85 137.05M110.60 133.22L112.00 133.22M263.45 133.22L264.85 133.22M110.60 129.40L112.00 129.40M263.45 129.40L264.85 129.40M110.60 125.58L112.00 125.58M263.45 125.58L264.85 125.58M110.60 121.75L113.90 121.75M261.55 121.75L264.85 121.75M110.60 117.92L112.00 117.92M263.45 117.92L264.85 117.92M110.60 114.10L112.00 114.10M263.45 114.10L264.85 114.10M110.60 110.28L112.00 110.28M263.45 110.28L264.85 110.28M110.60 106.45L112.00 106.45M263.45 106.45L264.85 106.45M110.60 102.62L112.00 102.62M263.45 102.62L264.85 102.62M110.60 98.80L112.00 98.80M263.45 98.80L264.85 98.80M110.60 94.97L112.00 94.97M263.45 94.97L264.85 94.97M110.60 91.15L112.00 91.15M263.45 91.15L264.85 91.15M110.60 87.33L112.00 87.33M263.45 87.33L264.85 87.33M110.60 83.50L113.90 83.50M261.55 83.50L264.85 83.50M110.60 79.67L112.00 79.67M263.45 79.67L264.85 79.67M110.60 75.85L112.00 75.85M263.45 75.85L264.85 75.85M110.60 72.02L112.00 72.02M263.45 72.02L264.85 72.02M110.60 68.20L112.00 68.20M263.45 68.20L264.85 68.20M110.60 64.38L112.00 64.38M263.45 64.38L264.85 64.38M110.60 60.55L112.00 60.55M263.45 60.55L264.85 60.55M110.60 56.72L112.00 56.72M263.45 56.72L264.85 56.72M110.60 52.90L112.00 52.90M263.45 52.90L264.85 52.90M110.60 49.08L112.00 49.08M263.45 49.08L264.85 49.08M110.60 45.25L113.90 45.25M261.55 45.25L264.85 45.25M110.60 41.42L112.00 41.42M263.45 41.42L264.85 41.42M110.60 37.60L112.00 37.60M263.45 37.60L264.85 37.60M110.60 33.77L112.00 33.77M263.45 33.77L264.85 33.77M110.60 29.95L112.00 29.95M263.45 29.95L264.85 29.95M110.60 26.12L112.00 26.12M263.45 26.12L264.85 26.12M110.60 22.30L112.00 22.30M263.45 22.30L264.85 22.30M110.60 18.47L112.00 18.47M263.45 18.47L264.85 18.47M110.60 14.65L112.00 14.65M263.45 14.65L264.85 14.65M110.60 10.82L112.00 10.82M263.45 10.82L264.85 10.82M110.60 7.00L113.90 7.00M261.55 7.00L264.85 7.00M110.60 313.35L112.00 313.35M263.45 313.35L264.85 313.35M110.60 309.38L112.00 309.38M263.45 309.38L264.85 309.38M110.60 305.41L112.00 305.41M263.45 305.41L264.85 305.41M110.60 301.44L112.00 301.44M263.45 301.44L264.85 301.44M110.60 297.47L112.00 297.47M263.45 297.47L264.85 297.47M110.60 293.50L113.90 293.50M261.55 293.50L264.85 293.50M110.60 289.53L112.00 289.53M263.45 289.53L264.85 289.53M110.60 285.56L112.00 285.56M263.45 285.56L264.85 285.56M110.60 281.59L112.00 281.59M263.45 281.59L264.85 281.59M110.60 277.62L112.00 277.62M263.45 277.62L264.85 277.62M110.60 273.65L112.00 273.65M263.45 273.65L264.85 273.65M110.60 269.68L112.00 269.68M263.45 269.68L264.85 269.68M110.60 265.71L112.00 265.71M263.45 265.71L264.85 265.71M110.60 261.74L112.00 261.74M263.45 261.74L264.85 261.74M110.60 257.77L112.00 257.77M263.45 257.77L264.85 257.77M110.60 253.80L113.90 253.80M261.55 253.80L264.85 253.80M110.60 249.83L112.00 249.83M263.45 249.83L264.85 249.83M110.60 245.86L112.00 245.86M263.45 245.86L264.85 245.86M110.60 241.89L112.00 241.89M263.45 241.89L264.85 241.89M110.60 237.92L112.00 237.92M263.45 237.92L264.85 237.92M110.60 233.95L112.00 233.95M263.45 233.95L264.85 233.95M110.60 229.98L112.00 229.98M263.45 229.98L264.85 229.98M110.60 226.01L112.00 226.01M263.45 226.01L264.85 226.01M110.60 222.04L112.00 222.04M263.45 222.04L264.85 222.04M110.60 218.07L112.00 218.07M263.45 218.07L264.85 218.07M110.60 214.10L113.90 214.10M261.55 214.10L264.85 214.10M110.60 210.13L112.00 210.13M263.45 210.13L264.85 210.13M110.60 206.16L112.00 206.16M263.45 206.16L264.85 206.16M110.60 202.19L112.00 202.19M263.45 202.19L264.85 202.19M110.60 198.22L112.00 198.22M263.45 198.22L264.85 198.22M110.60 194.25L112.00 194.25M263.45 194.25L264.85 194.25M110.60 190.28L112.00 190.28M263.45 190.28L264.85 190.28M110.60 186.31L112.00 186.31M263.45 186.31L264.85 186.31M110.60 182.34L112.00 182.34M263.45 182.34L264.85 182.34M110.60 178.37L112.00 178.37M263.45 178.37L264.85 178.37M110.60 174.40L113.90 174.40M261.55 174.40L264.85 174.40M110.60 170.43L112.00 170.43M263.45 170.43L264.85 170.43M110.60 166.46L112.00 166.46M263.45 166.46L264.85 166.46M110.60 162.49L112.00 162.49M263.45 162.49L264.85 162.49M270.42 7.00L270.42 8.60M270.42 158.40L270.42 161.60M270.42 312.80L270.42 314.40M276.59 7.00L276.59 8.60M276.59 158.40L276.59 161.60M276.59 312.80L276.59 314.40M282.76 7.00L282.76 8.60M282.76 158.40L282.76 161.60M282.76 312.80L282.76 314.40M288.93 7.00L288.93 8.60M288.93 158.40L288.93 161.60M288.93 312.80L288.93 314.40M295.10 7.00L295.10 10.40M295.10 156.60L295.10 163.40M295.10 311.00L295.10 314.40M301.27 7.00L301.27 8.60M301.27 158.40L301.27 161.60M301.27 312.80L301.27 314.40M307.44 7.00L307.44 8.60M307.44 158.40L307.44 161.60M307.44 312.80L307.44 314.40M313.61 7.00L313.61 8.60M313.61 158.40L313.61 161.60M313.61 312.80L313.61 314.40M319.78 7.00L319.78 8.60M319.78 158.40L319.78 161.60M319.78 312.80L319.78 314.40M325.95 7.00L325.95 10.40M325.95 156.60L325.95 163.40M325.95 311.00L325.95 314.40M332.12 7.00L332.12 8.60M332.12 158.40L332.12 161.60M332.12 312.80L332.12 314.40M338.29 7.00L338.29 8.60M338.29 158.40L338.29 161.60M338.29 312.80L338.29 314.40M344.46 7.00L344.46 8.60M344.46 158.40L344.46 161.60M344.46 312.80L344.46 314.40M350.63 7.00L350.63 8.60M350.63 158.40L350.63 161.60M350.63 312.80L350.63 314.40M356.80 7.00L356.80 10.40M356.80 156.60L356.80 163.40M356.80 311.00L356.80 314.40M362.97 7.00L362.97 8.60M362.97 158.40L362.97 161.60M362.97 312.80L362.97 314.40M369.14 7.00L369.14 8.60M369.14 158.40L369.14 161.60M369.14 312.80L369.14 314.40M375.31 7.00L375.31 8.60M375.31 158.40L375.31 161.60M375.31 312.80L375.31 314.40M381.48 7.00L381.48 8.60M381.48 158.40L381.48 161.60M381.48 312.80L381.48 314.40M387.65 7.00L387.65 10.40M387.65 156.60L387.65 163.40M387.65 311.00L387.65 314.40M393.82 7.00L393.82 8.60M393.82 158.40L393.82 161.60M393.82 312.80L393.82 314.40M399.99 7.00L399.99 8.60M399.99 158.40L399.99 161.60M399.99 312.80L399.99 314.40M406.16 7.00L406.16 8.60M406.16 158.40L406.16 161.60M406.16 312.80L406.16 314.40M412.33 7.00L412.33 8.60M412.33 158.40L412.33 161.60M412.33 312.80L412.33 314.40M264.25 160.00L267.55 160.00M415.20 160.00L418.50 160.00M264.25 156.18L265.65 156.18M417.10 156.18L418.50 156.18M264.25 152.35L265.65 152.35M417.10 152.35L418.50 152.35M264.25 148.53L265.65 148.53M417.10 148.53L418.50 148.53M264.25 144.70L265.65 144.70M417.10 144.70L418.50 144.70M264.25 140.88L265.65 140.88M417.10 140.88L418.50 140.88M264.25 137.05L265.65 137.05M417.10 137.05L418.50 137.05M264.25 133.22L265.65 133.22M417.10 133.22L418.50 133.22M264.25 129.40L265.65 129.40M417.10 129.40L418.50 129.40M264.25 125.58L265.65 125.58M417.10 125.58L418.50 125.58M264.25 121.75L267.55 121.75M415.20 121.75L418.50 121.75M264.25 117.92L265.65 117.92M417.10 117.92L418.50 117.92M264.25 114.10L265.65 114.10M417.10 114.10L418.50 114.10M264.25 110.28L265.65 110.28M417.10 110.28L418.50 110.28M264.25 106.45L265.65 106.45M417.10 106.45L418.50 106.45M264.25 102.62L265.65 102.62M417.10 102.62L418.50 102.62M264.25 98.80L265.65 98.80M417.10 98.80L418.50 98.80M264.25 94.97L265.65 94.97M417.10 94.97L418.50 94.97M264.25 91.15L265.65 91.15M417.10 91.15L418.50 91.15M264.25 87.33L265.65 87.33M417.10 87.33L418.50 87.33M264.25 83.50L267.55 83.50M415.20 83.50L418.50 83.50M264.25 79.67L265.65 79.67M417.10 79.67L418.50 79.67M264.25 75.85L265.65 75.85M417.10 75.85L418.50 75.85M264.25 72.02L265.65 72.02M417.10 72.02L418.50 72.02M264.25 68.20L265.65 68.20M417.10 68.20L418.50 68.20M264.25 64.38L265.65 64.38M417.10 64.38L418.50 64.38M264.25 60.55L265.65 60.55M417.10 60.55L418.50 60.55M264.25 56.72L265.65 56.72M417.10 56.72L418.50 56.72M264.25 52.90L265.65 52.90M417.10 52.90L418.50 52.90M264.25 49.08L265.65 49.08M417.10 49.08L418.50 49.08M264.25 45.25L267.55 45.25M415.20 45.25L418.50 45.25M264.25 41.42L265.65 41.42M417.10 41.42L418.50 41.42M264.25 37.60L265.65 37.60M417.10 37.60L418.50 37.60M264.25 33.77L265.65 33.77M417.10 33.77L418.50 33.77M264.25 29.95L265.65 29.95M417.10 29.95L418.50 29.95M264.25 26.12L265.65 26.12M417.10 26.12L418.50 26.12M264.25 22.30L265.65 22.30M417.10 22.30L418.50 22.30M264.25 18.47L265.65 18.47M417.10 18.47L418.50 18.47M264.25 14.65L265.65 14.65M417.10 14.65L418.50 14.65M264.25 10.82L265.65 10.82M417.10 10.82L418.50 10.82M264.25 7.00L267.55 7.00M415.20 7.00L418.50 7.00M264.25 313.35L265.65 313.35M417.10 313.35L418.50 313.35M264.25 309.38L265.65 309.38M417.10 309.38L418.50 309.38M264.25 305.41L265.65 305.41M417.10 305.41L418.50 305.41M264.25 301.44L265.65 301.44M417.10 301.44L418.50 301.44M264.25 297.47L265.65 297.47M417.10 297.47L418.50 297.47M264.25 293.50L267.55 293.50M415.20 293.50L418.50 293.50M264.25 289.53L265.65 289.53M417.10 289.53L418.50 289.53M264.25 285.56L265.65 285.56M417.10 285.56L418.50 285.56M264.25 281.59L265.65 281.59M417.10 281.59L418.50 281.59M264.25 277.62L265.65 277.62M417.10 277.62L418.50 277.62M264.25 273.65L265.65 273.65M417.10 273.65L418.50 273.65M264.25 269.68L265.65 269.68M417.10 269.68L418.50 269.68M264.25 265.71L265.65 265.71M417.10 265.71L418.50 265.71M264.25 261.74L265.65 261.74M417.10 261.74L418.50 261.74M264.25 257.77L265.65 257.77M417.10 257.77L418.50 257.77M264.25 253.80L267.55 253.80M415.20 253.80L418.50 253.80M264.25 249.83L265.65 249.83M417.10 249.83L418.50 249.83M264.25 245.86L265.65 245.86M417.10 245.86L418.50 245.86M264.25 241.89L265.65 241.89M417.10 241.89L418.50 241.89M264.25 237.92L265.65 237.92M417.10 237.92L418.50 237.92M264.25 233.95L265.65 233.95M417.10 233.95L418.50 233.95M264.25 229.98L265.65 229.98M417.10 229.98L418.50 229.98M264.25 226.01L265.65 226.01M417.10 226.01L418.50 226.01M264.25 222.04L265.65 222.04M417.10 222.04L418.50 222.04M264.25 218.07L265.65 218.07M417.10 218.07L418.50 218.07M264.25 214.10L267.55 214.10M415.20 214.10L418.50 214.10M264.25 210.13L265.65 210.13M417.10 210.13L418.50 210.13M264.25 206.16L265.65 206.16M417.10 206.16L418.50 206.16M264.25 202.19L265.65 202.19M417.10 202.19L418.50 202.19M264.25 198.22L265.65 198.22M417.10 198.22L418.50 198.22M264.25 194.25L265.65 194.25M417.10 194.25L418.50 194.25M264.25 190.28L265.65 190.28M417.10 190.28L418.50 190.28M264.25 186.31L265.65 186.31M417.10 186.31L418.50 186.31M264.25 182.34L265.65 182.34M417.10 182.34L418.50 182.34M264.25 178.37L265.65 178.37M417.10 178.37L418.50 178.37M264.25 174.40L267.55 174.40M415.20 174.40L418.50 174.40M264.25 170.43L265.65 170.43M417.10 170.43L418.50 170.43M264.25 166.46L265.65 166.46M417.10 166.46L418.50 166.46M264.25 162.49L265.65 162.49M417.10 162.49L418.50 162.49M424.07 7.00L424.07 8.60M424.07 158.40L424.07 161.60M424.07 312.80L424.07 314.40M430.24 7.00L430.24 8.60M430.24 158.40L430.24 161.60M430.24 312.80L430.24 314.40M436.41 7.00L436.41 8.60M436.41 158.40L436.41 161.60M436.41 312.80L436.41 314.40M442.58 7.00L442.58 8.60M442.58 158.40L442.58 161.60M442.58 312.80L442.58 314.40M448.75 7.00L448.75 10.40M448.75 156.60L448.75 163.40M448.75 311.00L448.75 314.40M454.92 7.00L454.92 8.60M454.92 158.40L454.92 161.60M454.92 312.80L454.92 314.40M461.09 7.00L461.09 8.60M461.09 158.40L461.09 161.60M461.09 312.80L461.09 314.40M467.26 7.00L467.26 8.60M467.26 158.40L467.26 161.60M467.26 312.80L467.26 314.40M473.43 7.00L473.43 8.60M473.43 158.40L473.43 161.60M473.43 312.80L473.43 314.40M479.60 7.00L479.60 10.40M479.60 156.60L479.60 163.40M479.60 311.00L479.60 314.40M485.77 7.00L485.77 8.60M485.77 158.40L485.77 161.60M485.77 312.80L485.77 314.40M491.94 7.00L491.94 8.60M491.94 158.40L491.94 161.60M491.94 312.80L491.94 314.40M498.11 7.00L498.11 8.60M498.11 158.40L498.11 161.60M498.11 312.80L498.11 314.40M504.28 7.00L504.28 8.60M504.28 158.40L504.28 161.60M504.28 312.80L504.28 314.40M510.45 7.00L510.45 10.40M510.45 156.60L510.45 163.40M510.45 311.00L510.45 314.40M516.62 7.00L516.62 8.60M516.62 158.40L516.62 161.60M516.62 312.80L516.62 314.40M522.79 7.00L522.79 8.60M522.79 158.40L522.79 161.60M522.79 312.80L522.79 314.40M528.96 7.00L528.96 8.60M528.96 158.40L528.96 161.60M528.96 312.80L528.96 314.40M535.13 7.00L535.13 8.60M535.13 158.40L535.13 161.60M535.13 312.80L535.13 314.40M541.30 7.00L541.30 10.40M541.30 156.60L541.30 163.40M541.30 311.00L541.30 314.40M547.47 7.00L547.47 8.60M547.47 158.40L547.47 161.60M547.47 312.80L547.47 314.40M553.64 7.00L553.64 8.60M553.64 158.40L553.64 161.60M553.64 312.80L553.64 314.40M559.81 7.00L559.81 8.60M559.81 158.40L559.81 161.60M559.81 312.80L559.81 314.40M565.98 7.00L565.98 8.60M565.98 158.40L565.98 161.60M565.98 312.80L565.98 314.40M417.90 160.00L421.20 160.00M568.85 160.00L572.15 160.00M417.90 156.18L419.30 156.18M570.75 156.18L572.15 156.18M417.90 152.35L419.30 152.35M570.75 152.35L572.15 152.35M417.90 148.53L419.30 148.53M570.75 148.53L572.15 148.53M417.90 144.70L419.30 144.70M570.75 144.70L572.15 144.70M417.90 140.88L419.30 140.88M570.75 140.88L572.15 140.88M417.90 137.05L419.30 137.05M570.75 137.05L572.15 137.05M417.90 133.22L419.30 133.22M570.75 133.22L572.15 133.22M417.90 129.40L419.30 129.40M570.75 129.40L572.15 129.40M417.90 125.58L419.30 125.58M570.75 125.58L572.15 125.58M417.90 121.75L421.20 121.75M568.85 121.75L572.15 121.75M417.90 117.92L419.30 117.92M570.75 117.92L572.15 117.92M417.90 114.10L419.30 114.10M570.75 114.10L572.15 114.10M417.90 110.28L419.30 110.28M570.75 110.28L572.15 110.28M417.90 106.45L419.30 106.45M570.75 106.45L572.15 106.45M417.90 102.62L419.30 102.62M570.75 102.62L572.15 102.62M417.90 98.80L419.30 98.80M570.75 98.80L572.15 98.80M417.90 94.97L419.30 94.97M570.75 94.97L572.15 94.97M417.90 91.15L419.30 91.15M570.75 91.15L572.15 91.15M417.90 87.33L419.30 87.33M570.75 87.33L572.15 87.33M417.90 83.50L421.20 83.50M568.85 83.50L572.15 83.50M417.90 79.67L419.30 79.67M570.75 79.67L572.15 79.67M417.90 75.85L419.30 75.85M570.75 75.85L572.15 75.85M417.90 72.02L419.30 72.02M570.75 72.02L572.15 72.02M417.90 68.20L419.30 68.20M570.75 68.20L572.15 68.20M417.90 64.38L419.30 64.38M570.75 64.38L572.15 64.38M417.90 60.55L419.30 60.55M570.75 60.55L572.15 60.55M417.90 56.72L419.30 56.72M570.75 56.72L572.15 56.72M417.90 52.90L419.30 52.90M570.75 52.90L572.15 52.90M417.90 49.08L419.30 49.08M570.75 49.08L572.15 49.08M417.90 45.25L421.20 45.25M568.85 45.25L572.15 45.25M417.90 41.42L419.30 41.42M570.75 41.42L572.15 41.42M417.90 37.60L419.30 37.60M570.75 37.60L572.15 37.60M417.90 33.77L419.30 33.77M570.75 33.77L572.15 33.77M417.90 29.95L419.30 29.95M570.75 29.95L572.15 29.95M417.90 26.12L419.30 26.12M570.75 26.12L572.15 26.12M417.90 22.30L419.30 22.30M570.75 22.30L572.15 22.30M417.90 18.47L419.30 18.47M570.75 18.47L572.15 18.47M417.90 14.65L419.30 14.65M570.75 14.65L572.15 14.65M417.90 10.82L419.30 10.82M570.75 10.82L572.15 10.82M417.90 7.00L421.20 7.00M568.85 7.00L572.15 7.00M417.90 313.35L419.30 313.35M570.75 313.35L572.15 313.35M417.90 309.38L419.30 309.38M570.75 309.38L572.15 309.38M417.90 305.41L419.30 305.41M570.75 305.41L572.15 305.41M417.90 301.44L419.30 301.44M570.75 301.44L572.15 301.44M417.90 297.47L419.30 297.47M570.75 297.47L572.15 297.47M417.90 293.50L421.20 293.50M568.85 293.50L572.15 293.50M417.90 289.53L419.30 289.53M570.75 289.53L572.15 289.53M417.90 285.56L419.30 285.56M570.75 285.56L572.15 285.56M417.90 281.59L419.30 281.59M570.75 281.59L572.15 281.59M417.90 277.62L419.30 277.62M570.75 277.62L572.15 277.62M417.90 273.65L419.30 273.65M570.75 273.65L572.15 273.65M417.90 269.68L419.30 269.68M570.75 269.68L572.15 269.68M417.90 265.71L419.30 265.71M570.75 265.71L572.15 265.71M417.90 261.74L419.30 261.74M570.75 261.74L572.15 261.74M417.90 257.77L419.30 257.77M570.75 257.77L572.15 257.77M417.90 253.80L421.20 253.80M568.85 253.80L572.15 253.80M417.90 249.83L419.30 249.83M570.75 249.83L572.15 249.83M417.90 245.86L419.30 245.86M570.75 245.86L572.15 245.86M417.90 241.89L419.30 241.89M570.75 241.89L572.15 241.89M417.90 237.92L419.30 237.92M570.75 237.92L572.15 237.92M417.90 233.95L419.30 233.95M570.75 233.95L572.15 233.95M417.90 229.98L419.30 229.98M570.75 229.98L572.15 229.98M417.90 226.01L419.30 226.01M570.75 226.01L572.15 226.01M417.90 222.04L419.30 222.04M570.75 222.04L572.15 222.04M417.90 218.07L419.30 218.07M570.75 218.07L572.15 218.07M417.90 214.10L421.20 214.10M568.85 214.10L572.15 214.10M417.90 210.13L419.30 210.13M570.75 210.13L572.15 210.13M417.90 206.16L419.30 206.16M570.75 206.16L572.15 206.16M417.90 202.19L419.30 202.19M570.75 202.19L572.15 202.19M417.90 198.22L419.30 198.22M570.75 198.22L572.15 198.22M417.90 194.25L419.30 194.25M570.75 194.25L572.15 194.25M417.90 190.28L419.30 190.28M570.75 190.28L572.15 190.28M417.90 186.31L419.30 186.31M570.75 186.31L572.15 186.31M417.90 182.34L419.30 182.34M570.75 182.34L572.15 182.34M417.90 178.37L419.30 178.37M570.75 178.37L572.15 178.37M417.90 174.40L421.20 174.40M568.85 174.40L572.15 174.40M417.90 170.43L419.30 170.43M570.75 170.43L572.15 170.43M417.90 166.46L419.30 166.46M570.75 166.46L572.15 166.46M417.90 162.49L419.30 162.49M570.75 162.49L572.15 162.49M577.72 7.00L577.72 8.60M577.72 158.40L577.72 161.60M577.72 312.80L577.72 314.40M583.89 7.00L583.89 8.60M583.89 158.40L583.89 161.60M583.89 312.80L583.89 314.40M590.06 7.00L590.06 8.60M590.06 158.40L590.06 161.60M590.06 312.80L590.06 314.40M596.23 7.00L596.23 8.60M596.23 158.40L596.23 161.60M596.23 312.80L596.23 314.40M602.40 7.00L602.40 10.40M602.40 156.60L602.40 163.40M602.40 311.00L602.40 314.40M608.57 7.00L608.57 8.60M608.57 158.40L608.57 161.60M608.57 312.80L608.57 314.40M614.74 7.00L614.74 8.60M614.74 158.40L614.74 161.60M614.74 312.80L614.74 314.40M620.91 7.00L620.91 8.60M620.91 158.40L620.91 161.60M620.91 312.80L620.91 314.40M627.08 7.00L627.08 8.60M627.08 158.40L627.08 161.60M627.08 312.80L627.08 314.40M633.25 7.00L633.25 10.40M633.25 156.60L633.25 163.40M633.25 311.00L633.25 314.40M639.42 7.00L639.42 8.60M639.42 158.40L639.42 161.60M639.42 312.80L639.42 314.40M645.59 7.00L645.59 8.60M645.59 158.40L645.59 161.60M645.59 312.80L645.59 314.40M651.76 7.00L651.76 8.60M651.76 158.40L651.76 161.60M651.76 312.80L651.76 314.40M657.93 7.00L657.93 8.60M657.93 158.40L657.93 161.60M657.93 312.80L657.93 314.40M664.10 7.00L664.10 10.40M664.10 156.60L664.10 163.40M664.10 311.00L664.10 314.40M670.27 7.00L670.27 8.60M670.27 158.40L670.27 161.60M670.27 312.80L670.27 314.40M676.44 7.00L676.44 8.60M676.44 158.40L676.44 161.60M676.44 312.80L676.44 314.40M682.61 7.00L682.61 8.60M682.61 158.40L682.61 161.60M682.61 312.80L682.61 314.40M688.78 7.00L688.78 8.60M688.78 158.40L688.78 161.60M688.78 312.80L688.78 314.40M694.95 7.00L694.95 10.40M694.95 156.60L694.95 163.40M694.95 311.00L694.95 314.40M701.12 7.00L701.12 8.60M701.12 158.40L701.12 161.60M701.12 312.80L701.12 314.40M707.29 7.00L707.29 8.60M707.29 158.40L707.29 161.60M707.29 312.80L707.29 314.40M713.46 7.00L713.46 8.60M713.46 158.40L713.46 161.60M713.46 312.80L713.46 314.40M719.63 7.00L719.63 8.60M719.63 158.40L719.63 161.60M719.63 312.80L719.63 314.40M571.55 160.00L574.85 160.00M722.50 160.00L725.80 160.00M571.55 156.18L572.95 156.18M724.40 156.18L725.80 156.18M571.55 152.35L572.95 152.35M724.40 152.35L725.80 152.35M571.55 148.53L572.95 148.53M724.40 148.53L725.80 148.53M571.55 144.70L572.95 144.70M724.40 144.70L725.80 144.70M571.55 140.88L572.95 140.88M724.40 140.88L725.80 140.88M571.55 137.05L572.95 137.05M724.40 137.05L725.80 137.05M571.55 133.22L572.95 133.22M724.40 133.22L725.80 133.22M571.55 129.40L572.95 129.40M724.40 129.40L725.80 129.40M571.55 125.58L572.95 125.58M724.40 125.58L725.80 125.58M571.55 121.75L574.85 121.75M722.50 121.75L725.80 121.75M571.55 117.92L572.95 117.92M724.40 117.92L725.80 117.92M571.55 114.10L572.95 114.10M724.40 114.10L725.80 114.10M571.55 110.28L572.95 110.28M724.40 110.28L725.80 110.28M571.55 106.45L572.95 106.45M724.40 106.45L725.80 106.45M571.55 102.62L572.95 102.62M724.40 102.62L725.80 102.62M571.55 98.80L572.95 98.80M724.40 98.80L725.80 98.80M571.55 94.97L572.95 94.97M724.40 94.97L725.80 94.97M571.55 91.15L572.95 91.15M724.40 91.15L725.80 91.15M571.55 87.33L572.95 87.33M724.40 87.33L725.80 87.33M571.55 83.50L574.85 83.50M722.50 83.50L725.80 83.50M571.55 79.67L572.95 79.67M724.40 79.67L725.80 79.67M571.55 75.85L572.95 75.85M724.40 75.85L725.80 75.85M571.55 72.02L572.95 72.02M724.40 72.02L725.80 72.02M571.55 68.20L572.95 68.20M724.40 68.20L725.80 68.20M571.55 64.38L572.95 64.38M724.40 64.38L725.80 64.38M571.55 60.55L572.95 60.55M724.40 60.55L725.80 60.55M571.55 56.72L572.95 56.72M724.40 56.72L725.80 56.72M571.55 52.90L572.95 52.90M724.40 52.90L725.80 52.90M571.55 49.08L572.95 49.08M724.40 49.08L725.80 49.08M571.55 45.25L574.85 45.25M722.50 45.25L725.80 45.25M571.55 41.42L572.95 41.42M724.40 41.42L725.80 41.42M571.55 37.60L572.95 37.60M724.40 37.60L725.80 37.60M571.55 33.77L572.95 33.77M724.40 33.77L725.80 33.77M571.55 29.95L572.95 29.95M724.40 29.95L725.80 29.95M571.55 26.12L572.95 26.12M724.40 26.12L725.80 26.12M571.55 22.30L572.95 22.30M724.40 22.30L725.80 22.30M571.55 18.47L572.95 18.47M724.40 18.47L725.80 18.47M571.55 14.65L572.95 14.65M724.40 14.65L725.80 14.65M571.55 10.82L572.95 10.82M724.40 10.82L725.80 10.82M571.55 7.00L574.85 7.00M722.50 7.00L725.80 7.00M571.55 313.35L572.95 313.35M724.40 313.35L725.80 313.35M571.55 309.38L572.95 309.38M724.40 309.38L725.80 309.38M571.55 305.41L572.95 305.41M724.40 305.41L725.80 305.41M571.55 301.44L572.95 301.44M724.40 301.44L725.80 301.44M571.55 297.47L572.95 297.47M724.40 297.47L725.80 297.47M571.55 293.50L574.85 293.50M722.50 293.50L725.80 293.50M571.55 289.53L572.95 289.53M724.40 289.53L725.80 289.53M571.55 285.56L572.95 285.56M724.40 285.56L725.80 285.56M571.55 281.59L572.95 281.59M724.40 281.59L725.80 281.59M571.55 277.62L572.95 277.62M724.40 277.62L725.80 277.62M571.55 273.65L572.95 273.65M724.40 273.65L725.80 273.65M571.55 269.68L572.95 269.68M724.40 269.68L725.80 269.68M571.55 265.71L572.95 265.71M724.40 265.71L725.80 265.71M571.55 261.74L572.95 261.74M724.40 261.74L725.80 261.74M571.55 257.77L572.95 257.77M724.40 257.77L725.80 257.77M571.55 253.80L574.85 253.80M722.50 253.80L725.80 253.80M571.55 249.83L572.95 249.83M724.40 249.83L725.80 249.83M571.55 245.86L572.95 245.86M724.40 245.86L725.80 245.86M571.55 241.89L572.95 241.89M724.40 241.89L725.80 241.89M571.55 237.92L572.95 237.92M724.40 237.92L725.80 237.92M571.55 233.95L572.95 233.95M724.40 233.95L725.80 233.95M571.55 229.98L572.95 229.98M724.40 229.98L725.80 229.98M571.55 226.01L572.95 226.01M724.40 226.01L725.80 226.01M571.55 222.04L572.95 222.04M724.40 222.04L725.80 222.04M571.55 218.07L572.95 218.07M724.40 218.07L725.80 218.07M571.55 214.10L574.85 214.10M722.50 214.10L725.80 214.10M571.55 210.13L572.95 210.13M724.40 210.13L725.80 210.13M571.55 206.16L572.95 206.16M724.40 206.16L725.80 206.16M571.55 202.19L572.95 202.19M724.40 202.19L725.80 202.19M571.55 198.22L572.95 198.22M724.40 198.22L725.80 198.22M571.55 194.25L572.95 194.25M724.40 194.25L725.80 194.25M571.55 190.28L572.95 190.28M724.40 190.28L725.80 190.28M571.55 186.31L572.95 186.31M724.40 186.31L725.80 186.31M571.55 182.34L572.95 182.34M724.40 182.34L725.80 182.34M571.55 178.37L572.95 178.37M724.40 178.37L725.80 178.37M571.55 174.40L574.85 174.40M722.50 174.40L725.80 174.40M571.55 170.43L572.95 170.43M724.40 170.43L725.80 170.43M571.55 166.46L572.95 166.46M724.40 166.46L725.80 166.46M571.55 162.49L572.95 162.49M724.40 162.49L725.80 162.49" stroke="#000" stroke-width="0.85" fill="none" stroke-opacity="0.9"/>
<rect x="110.80" y="6.50" width="9.30" height="308.40" fill="#bebebe" fill-opacity="0.64"/>
<rect x="110.80" y="6.50" width="9.30" height="308.40" fill="url(#hat)"/>
<rect x="264.45" y="6.50" width="9.30" height="308.40" fill="#bebebe" fill-opacity="0.64"/>
<rect x="264.45" y="6.50" width="9.30" height="308.40" fill="url(#hat)"/>
<rect x="418.10" y="6.50" width="9.30" height="308.40" fill="#bebebe" fill-opacity="0.64"/>
<rect x="418.10" y="6.50" width="9.30" height="308.40" fill="url(#hat)"/>
<rect x="571.75" y="6.50" width="9.30" height="308.40" fill="#bebebe" fill-opacity="0.64"/>
<rect x="571.75" y="6.50" width="9.30" height="308.40" fill="url(#hat)"/>
<line x1="119.60" y1="285.4" x2="119.60" y2="314.40" stroke="#ff0000" stroke-width="1.3"/>
<line x1="272.10" y1="285.4" x2="272.10" y2="314.40" stroke="#ff0000" stroke-width="1.3"/>
<line x1="427.70" y1="285.4" x2="427.70" y2="314.40" stroke="#ff0000" stroke-width="1.3"/>
<line x1="590.00" y1="285.4" x2="590.00" y2="314.40" stroke="#ff0000" stroke-width="1.3"/>
<text transform="translate(78.00,16.70) scale(1.080,1)" font-size="15" font-family="Liberation Sans, sans-serif" font-weight="normal" fill="#000" stroke="#000" stroke-width="0.18" letter-spacing="0.253" xml:space="preserve" >400</text>
<text transform="translate(78.00,50.80) scale(1.080,1)" font-size="15" font-family="Liberation Sans, sans-serif" font-weight="normal" fill="#000" stroke="#000" stroke-width="0.18" letter-spacing="0.253" xml:space="preserve" >300</text>
<text transform="translate(78.00,88.70) scale(1.080,1)" font-size="15" font-family="Liberation Sans, sans-serif" font-weight="normal" fill="#000" stroke="#000" stroke-width="0.18" letter-spacing="0.253" xml:space="preserve" >200</text>
<text transform="translate(78.00,126.80) scale(1.080,1)" font-size="15" font-family="Liberation Sans, sans-serif" font-weight="normal" fill="#000" stroke="#000" stroke-width="0.18" letter-spacing="0.253" xml:space="preserve" >100</text>
<text transform="translate(97.60,160.20) scale(0.961,1)" font-size="15" font-family="Liberation Sans, sans-serif" font-weight="normal" fill="#000" stroke="#000" stroke-width="0.18" letter-spacing="0.000" xml:space="preserve" >0</text>
<text transform="translate(97.60,179.30) scale(0.961,1)" font-size="15" font-family="Liberation Sans, sans-serif" font-weight="normal" fill="#000" stroke="#000" stroke-width="0.18" letter-spacing="0.000" xml:space="preserve" >4</text>
<text transform="translate(97.60,218.80) scale(0.961,1)" font-size="15" font-family="Liberation Sans, sans-serif" font-weight="normal" fill="#000" stroke="#000" stroke-width="0.18" letter-spacing="0.000" xml:space="preserve" >3</text>
<text transform="translate(97.60,258.80) scale(0.961,1)" font-size="15" font-family="Liberation Sans, sans-serif" font-weight="normal" fill="#000" stroke="#000" stroke-width="0.18" letter-spacing="0.000" xml:space="preserve" >2</text>
<text transform="translate(97.60,298.30) scale(0.961,1)" font-size="15" font-family="Liberation Sans, sans-serif" font-weight="normal" fill="#000" stroke="#000" stroke-width="0.18" letter-spacing="0.000" xml:space="preserve" >1</text>
<text transform="translate(106.60,336.20) scale(0.961,1)" font-size="15" font-family="Liberation Sans, sans-serif" font-weight="normal" fill="#000" stroke="#000" stroke-width="0.18" letter-spacing="0.000" xml:space="preserve" >0</text>
<text transform="translate(137.45,336.20) scale(0.961,1)" font-size="15" font-family="Liberation Sans, sans-serif" font-weight="normal" fill="#000" stroke="#000" stroke-width="0.18" letter-spacing="0.000" xml:space="preserve" >5</text>
<text transform="translate(164.10,336.20) scale(0.985,1)" font-size="15" font-family="Liberation Sans, sans-serif" font-weight="normal" fill="#000" stroke="#000" stroke-width="0.18" letter-spacing="0.000" xml:space="preserve" >10</text>
<text transform="translate(194.95,336.20) scale(0.985,1)" font-size="15" font-family="Liberation Sans, sans-serif" font-weight="normal" fill="#000" stroke="#000" stroke-width="0.18" letter-spacing="0.000" xml:space="preserve" >15</text>
<text transform="translate(225.80,336.20) scale(0.985,1)" font-size="15" font-family="Liberation Sans, sans-serif" font-weight="normal" fill="#000" stroke="#000" stroke-width="0.18" letter-spacing="0.000" xml:space="preserve" >20</text>
<text transform="translate(260.25,336.20) scale(0.961,1)" font-size="15" font-family="Liberation Sans, sans-serif" font-weight="normal" fill="#000" stroke="#000" stroke-width="0.18" letter-spacing="0.000" xml:space="preserve" >0</text>
<text transform="translate(291.10,336.20) scale(0.961,1)" font-size="15" font-family="Liberation Sans, sans-serif" font-weight="normal" fill="#000" stroke="#000" stroke-width="0.18" letter-spacing="0.000" xml:space="preserve" >5</text>
<text transform="translate(317.75,336.20) scale(0.985,1)" font-size="15" font-family="Liberation Sans, sans-serif" font-weight="normal" fill="#000" stroke="#000" stroke-width="0.18" letter-spacing="0.000" xml:space="preserve" >10</text>
<text transform="translate(348.60,336.20) scale(0.985,1)" font-size="15" font-family="Liberation Sans, sans-serif" font-weight="normal" fill="#000" stroke="#000" stroke-width="0.18" letter-spacing="0.000" xml:space="preserve" >15</text>
<text transform="translate(379.45,336.20) scale(0.985,1)" font-size="15" font-family="Liberation Sans, sans-serif" font-weight="normal" fill="#000" stroke="#000" stroke-width="0.18" letter-spacing="0.000" xml:space="preserve" >20</text>
<text transform="translate(413.90,336.20) scale(0.961,1)" font-size="15" font-family="Liberation Sans, sans-serif" font-weight="normal" fill="#000" stroke="#000" stroke-width="0.18" letter-spacing="0.000" xml:space="preserve" >0</text>
<text transform="translate(444.75,336.20) scale(0.961,1)" font-size="15" font-family="Liberation Sans, sans-serif" font-weight="normal" fill="#000" stroke="#000" stroke-width="0.18" letter-spacing="0.000" xml:space="preserve" >5</text>
<text transform="translate(471.40,336.20) scale(0.985,1)" font-size="15" font-family="Liberation Sans, sans-serif" font-weight="normal" fill="#000" stroke="#000" stroke-width="0.18" letter-spacing="0.000" xml:space="preserve" >10</text>
<text transform="translate(502.25,336.20) scale(0.985,1)" font-size="15" font-family="Liberation Sans, sans-serif" font-weight="normal" fill="#000" stroke="#000" stroke-width="0.18" letter-spacing="0.000" xml:space="preserve" >15</text>
<text transform="translate(533.10,336.20) scale(0.985,1)" font-size="15" font-family="Liberation Sans, sans-serif" font-weight="normal" fill="#000" stroke="#000" stroke-width="0.18" letter-spacing="0.000" xml:space="preserve" >20</text>
<text transform="translate(567.55,336.20) scale(0.961,1)" font-size="15" font-family="Liberation Sans, sans-serif" font-weight="normal" fill="#000" stroke="#000" stroke-width="0.18" letter-spacing="0.000" xml:space="preserve" >0</text>
<text transform="translate(598.40,336.20) scale(0.961,1)" font-size="15" font-family="Liberation Sans, sans-serif" font-weight="normal" fill="#000" stroke="#000" stroke-width="0.18" letter-spacing="0.000" xml:space="preserve" >5</text>
<text transform="translate(625.05,336.20) scale(0.985,1)" font-size="15" font-family="Liberation Sans, sans-serif" font-weight="normal" fill="#000" stroke="#000" stroke-width="0.18" letter-spacing="0.000" xml:space="preserve" >10</text>
<text transform="translate(655.90,336.20) scale(0.985,1)" font-size="15" font-family="Liberation Sans, sans-serif" font-weight="normal" fill="#000" stroke="#000" stroke-width="0.18" letter-spacing="0.000" xml:space="preserve" >15</text>
<text transform="translate(686.75,336.20) scale(0.985,1)" font-size="15" font-family="Liberation Sans, sans-serif" font-weight="normal" fill="#000" stroke="#000" stroke-width="0.18" letter-spacing="0.000" xml:space="preserve" >20</text>
<text transform="translate(172.50,26.70) scale(1.102,1)" font-size="16.9" font-family="Liberation Serif, serif" font-weight="normal" fill="#000" stroke="#000" stroke-width="0.27" letter-spacing="0.000" xml:space="preserve" >Gal</text>
<text transform="translate(208.60,26.70) scale(0.838,1)" font-size="16.9" font-family="Liberation Serif, serif" font-weight="normal" fill="#000" stroke="#000" stroke-width="0.27" letter-spacing="0.000" xml:space="preserve" >A</text>
<text transform="translate(326.15,26.70) scale(1.102,1)" font-size="16.9" font-family="Liberation Serif, serif" font-weight="normal" fill="#000" stroke="#000" stroke-width="0.27" letter-spacing="0.000" xml:space="preserve" >Gal</text>
<text transform="translate(362.25,26.70) scale(0.908,1)" font-size="16.9" font-family="Liberation Serif, serif" font-weight="normal" fill="#000" stroke="#000" stroke-width="0.27" letter-spacing="0.000" xml:space="preserve" >B</text>
<text transform="translate(479.80,26.70) scale(1.102,1)" font-size="16.9" font-family="Liberation Serif, serif" font-weight="normal" fill="#000" stroke="#000" stroke-width="0.27" letter-spacing="0.000" xml:space="preserve" >Gal</text>
<text transform="translate(515.90,26.70) scale(0.908,1)" font-size="16.9" font-family="Liberation Serif, serif" font-weight="normal" fill="#000" stroke="#000" stroke-width="0.27" letter-spacing="0.000" xml:space="preserve" >C</text>
<text transform="translate(633.45,26.70) scale(1.102,1)" font-size="16.9" font-family="Liberation Serif, serif" font-weight="normal" fill="#000" stroke="#000" stroke-width="0.27" letter-spacing="0.000" xml:space="preserve" >Gal</text>
<text transform="translate(669.55,26.70) scale(0.838,1)" font-size="16.9" font-family="Liberation Serif, serif" font-weight="normal" fill="#000" stroke="#000" stroke-width="0.27" letter-spacing="0.000" xml:space="preserve" >D</text>
<text transform="translate(355.50,361.90) scale(1.270,1)" font-size="21" font-family="Liberation Serif, serif" font-weight="normal" fill="#000" stroke="#000" stroke-width="0.00" letter-spacing="0.487" xml:space="preserve" >radius</text>
<text transform="translate(436.60,361.90) scale(0.711,1)" font-size="21" font-family="Liberation Serif, serif" font-weight="normal" fill="#000" stroke="#000" stroke-width="0.00" letter-spacing="0.000" xml:space="preserve" >[</text>
<text transform="translate(444.20,361.90) scale(1.270,1)" font-size="21" font-family="Liberation Serif, serif" font-weight="normal" fill="#000" stroke="#000" stroke-width="0.00" letter-spacing="-0.212" xml:space="preserve" >kpc</text>
<text transform="translate(485.40,361.90) scale(0.697,1)" font-size="21" font-family="Liberation Serif, serif" font-weight="normal" fill="#000" stroke="#000" stroke-width="0.00" letter-spacing="0.000" xml:space="preserve" >]</text>
<text transform="translate(64.00,119.40) rotate(-90) scale(0.968,1)" font-size="15.5" font-family="Liberation Serif, serif" font-weight="normal" fill="#000" stroke="#000" stroke-width="0.00" letter-spacing="0.000" xml:space="preserve">V</text>
<text transform="translate(67.20,107.40) rotate(-90) scale(1.498,1)" font-size="10.5" font-family="Liberation Serif, serif" font-weight="bold" fill="#000" stroke="#000" stroke-width="0.00" letter-spacing="0.000" xml:space="preserve">c</text>
<text transform="translate(64.00,95.40) rotate(-90) scale(1.150,1)" font-size="15.5" font-family="Liberation Serif, serif" font-weight="normal" fill="#000" stroke="#000" stroke-width="0.00" letter-spacing="1.405" xml:space="preserve">[km/s]</text>
<text transform="translate(84.20,307.00) rotate(-90) scale(1.079,1)" font-size="16" font-family="Liberation Serif, serif" font-weight="normal" fill="#000" stroke="#000" stroke-width="0.00" letter-spacing="0.000" xml:space="preserve">log(</text>
<text transform="translate(84.20,270.20) rotate(-90) scale(1.207,1)" font-size="16" font-family="Liberation Serif, serif" font-weight="normal" fill="#000" stroke="#000" stroke-width="0.00" letter-spacing="0.000" xml:space="preserve">Σ</text>
<text transform="translate(89.60,259.20) rotate(-90) scale(0.655,1)" font-size="11" font-family="Liberation Serif, serif" font-weight="bold" fill="#000" stroke="#000" stroke-width="0.00" letter-spacing="0.000" xml:space="preserve">*</text>
<text transform="translate(84.20,257.20) rotate(-90) scale(1.150,1)" font-size="16" font-family="Liberation Serif, serif" font-weight="normal" fill="#000" stroke="#000" stroke-width="0.00" letter-spacing="2.403" xml:space="preserve">/M</text>
<text transform="translate(87.60,232.00) rotate(-90) scale(1.150,1)" font-size="10.5" font-family="Liberation Serif, serif" font-weight="bold" fill="#000" stroke="#000" stroke-width="0.00" letter-spacing="0.299" xml:space="preserve">sun</text>
<text transform="translate(84.20,207.80) rotate(-90) scale(1.150,1)" font-size="16" font-family="Liberation Serif, serif" font-weight="normal" fill="#000" stroke="#000" stroke-width="0.00" letter-spacing="0.353" xml:space="preserve">kpc</text>
<text transform="translate(78.20,177.60) rotate(-90) scale(1.032,1)" font-size="10.5" font-family="Liberation Serif, serif" font-weight="bold" fill="#000" stroke="#000" stroke-width="0.00" letter-spacing="0.000" xml:space="preserve">−2</text>
<text transform="translate(84.20,165.60) rotate(-90) scale(0.970,1)" font-size="16" font-family="Liberation Serif, serif" font-weight="normal" fill="#000" stroke="#000" stroke-width="0.00" letter-spacing="0.000" xml:space="preserve">)</text>
<text transform="translate(663.70,87.80) scale(1.150,1)" font-size="15.5" font-family="Liberation Serif, serif" font-weight="normal" fill="#000" stroke="#000" stroke-width="0.25" letter-spacing="0.774" xml:space="preserve" >total</text>
<text transform="translate(663.70,108.90) scale(1.150,1)" font-size="15.5" font-family="Liberation Serif, serif" font-weight="normal" fill="#00ff00" stroke="#00ff00" stroke-width="0.25" letter-spacing="0.568" xml:space="preserve" >dark</text>
<text transform="translate(681.60,127.90) scale(1.150,1)" font-size="15.5" font-family="Liberation Serif, serif" font-weight="normal" fill="#ff0000" stroke="#ff0000" stroke-width="0.25" letter-spacing="1.020" xml:space="preserve" >stars</text>
<text transform="translate(663.70,151.00) scale(1.150,1)" font-size="15.5" font-family="Liberation Serif, serif" font-weight="normal" fill="#0000ff" stroke="#0000ff" stroke-width="0.25" letter-spacing="-0.085" xml:space="preserve" >gas</text>
<text transform="translate(127.10,180.90) scale(0.818,1)" font-size="13.6" font-family="Liberation Serif, serif" font-weight="normal" fill="#000" stroke="#000" stroke-width="0.38" letter-spacing="0.000" xml:space="preserve" >M</text>
<text transform="translate(137.60,184.40) scale(1.100,1)" font-size="9.6" font-family="Liberation Serif, serif" font-weight="bold" fill="#000" stroke="#000" stroke-width="0.00" letter-spacing="0.544" xml:space="preserve" >str</text>
<text transform="translate(151.60,181.70) scale(1.124,1)" font-size="13.7" font-family="Liberation Serif, serif" font-weight="normal" fill="#000" stroke="#000" stroke-width="0.30" letter-spacing="0.000" xml:space="preserve" >=</text>
<text transform="translate(161.90,180.90) scale(1.120,1)" font-size="12.4" font-family="Liberation Sans, sans-serif" font-weight="normal" fill="#000" stroke="#000" stroke-width="0.25" letter-spacing="0.715" xml:space="preserve" >9.0e10</text>
<text transform="translate(216.30,180.90) scale(1.299,1)" font-size="13.7" font-family="Liberation Serif, serif" font-weight="normal" fill="#000" stroke="#000" stroke-width="0.12" letter-spacing="0.000" xml:space="preserve" >h</text>
<text transform="translate(226.60,176.30) scale(0.969,1)" font-size="9.6" font-family="Liberation Serif, serif" font-weight="bold" fill="#000" stroke="#000" stroke-width="0.00" letter-spacing="0.000" xml:space="preserve" >−</text>
<text transform="translate(233.40,175.00) scale(0.792,1)" font-size="9.6" font-family="Liberation Serif, serif" font-weight="bold" fill="#000" stroke="#000" stroke-width="0.00" letter-spacing="0.000" xml:space="preserve" >1</text>
<text transform="translate(237.90,180.90) scale(0.834,1)" font-size="13.6" font-family="Liberation Serif, serif" font-weight="normal" fill="#000" stroke="#000" stroke-width="0.38" letter-spacing="0.000" xml:space="preserve" >M</text>
<circle cx="252.50" cy="181.4" r="2.85" fill="none" stroke="#000" stroke-width="0.95"/><circle cx="252.50" cy="181.4" r="0.85" fill="#000"/>
<text transform="translate(280.75,180.90) scale(0.818,1)" font-size="13.6" font-family="Liberation Serif, serif" font-weight="normal" fill="#000" stroke="#000" stroke-width="0.38" letter-spacing="0.000" xml:space="preserve" >M</text>
<text transform="translate(291.25,184.40) scale(1.100,1)" font-size="9.6" font-family="Liberation Serif, serif" font-weight="bold" fill="#000" stroke="#000" stroke-width="0.00" letter-spacing="0.544" xml:space="preserve" >str</text>
<text transform="translate(305.25,181.70) scale(1.124,1)" font-size="13.7" font-family="Liberation Serif, serif" font-weight="normal" fill="#000" stroke="#000" stroke-width="0.30" letter-spacing="0.000" xml:space="preserve" >=</text>
<text transform="translate(315.55,180.90) scale(1.120,1)" font-size="12.4" font-family="Liberation Sans, sans-serif" font-weight="normal" fill="#000" stroke="#000" stroke-width="0.25" letter-spacing="0.715" xml:space="preserve" >7.2e10</text>
<text transform="translate(369.95,180.90) scale(1.299,1)" font-size="13.7" font-family="Liberation Serif, serif" font-weight="normal" fill="#000" stroke="#000" stroke-width="0.12" letter-spacing="0.000" xml:space="preserve" >h</text>
<text transform="translate(380.25,176.30) scale(0.969,1)" font-size="9.6" font-family="Liberation Serif, serif" font-weight="bold" fill="#000" stroke="#000" stroke-width="0.00" letter-spacing="0.000" xml:space="preserve" >−</text>
<text transform="translate(387.05,175.00) scale(0.792,1)" font-size="9.6" font-family="Liberation Serif, serif" font-weight="bold" fill="#000" stroke="#000" stroke-width="0.00" letter-spacing="0.000" xml:space="preserve" >1</text>
<text transform="translate(391.55,180.90) scale(0.834,1)" font-size="13.6" font-family="Liberation Serif, serif" font-weight="normal" fill="#000" stroke="#000" stroke-width="0.38" letter-spacing="0.000" xml:space="preserve" >M</text>
<circle cx="406.15" cy="181.4" r="2.85" fill="none" stroke="#000" stroke-width="0.95"/><circle cx="406.15" cy="181.4" r="0.85" fill="#000"/>
<text transform="translate(434.40,180.90) scale(0.818,1)" font-size="13.6" font-family="Liberation Serif, serif" font-weight="normal" fill="#000" stroke="#000" stroke-width="0.38" letter-spacing="0.000" xml:space="preserve" >M</text>
<text transform="translate(444.90,184.40) scale(1.100,1)" font-size="9.6" font-family="Liberation Serif, serif" font-weight="bold" fill="#000" stroke="#000" stroke-width="0.00" letter-spacing="0.544" xml:space="preserve" >str</text>
<text transform="translate(458.90,181.70) scale(1.124,1)" font-size="13.7" font-family="Liberation Serif, serif" font-weight="normal" fill="#000" stroke="#000" stroke-width="0.30" letter-spacing="0.000" xml:space="preserve" >=</text>
<text transform="translate(469.20,180.90) scale(1.120,1)" font-size="12.4" font-family="Liberation Sans, sans-serif" font-weight="normal" fill="#000" stroke="#000" stroke-width="0.25" letter-spacing="0.715" xml:space="preserve" >5.4e10</text>
<text transform="translate(523.60,180.90) scale(1.299,1)" font-size="13.7" font-family="Liberation Serif, serif" font-weight="normal" fill="#000" stroke="#000" stroke-width="0.12" letter-spacing="0.000" xml:space="preserve" >h</text>
<text transform="translate(533.90,176.30) scale(0.969,1)" font-size="9.6" font-family="Liberation Serif, serif" font-weight="bold" fill="#000" stroke="#000" stroke-width="0.00" letter-spacing="0.000" xml:space="preserve" >−</text>
<text transform="translate(540.70,175.00) scale(0.792,1)" font-size="9.6" font-family="Liberation Serif, serif" font-weight="bold" fill="#000" stroke="#000" stroke-width="0.00" letter-spacing="0.000" xml:space="preserve" >1</text>
<text transform="translate(545.20,180.90) scale(0.834,1)" font-size="13.6" font-family="Liberation Serif, serif" font-weight="normal" fill="#000" stroke="#000" stroke-width="0.38" letter-spacing="0.000" xml:space="preserve" >M</text>
<circle cx="559.80" cy="181.4" r="2.85" fill="none" stroke="#000" stroke-width="0.95"/><circle cx="559.80" cy="181.4" r="0.85" fill="#000"/>
<text transform="translate(588.05,180.90) scale(0.818,1)" font-size="13.6" font-family="Liberation Serif, serif" font-weight="normal" fill="#000" stroke="#000" stroke-width="0.38" letter-spacing="0.000" xml:space="preserve" >M</text>
<text transform="translate(598.55,184.40) scale(1.100,1)" font-size="9.6" font-family="Liberation Serif, serif" font-weight="bold" fill="#000" stroke="#000" stroke-width="0.00" letter-spacing="0.544" xml:space="preserve" >str</text>
<text transform="translate(612.55,181.70) scale(1.124,1)" font-size="13.7" font-family="Liberation Serif, serif" font-weight="normal" fill="#000" stroke="#000" stroke-width="0.30" letter-spacing="0.000" xml:space="preserve" >=</text>
<text transform="translate(622.85,180.90) scale(1.120,1)" font-size="12.4" font-family="Liberation Sans, sans-serif" font-weight="normal" fill="#000" stroke="#000" stroke-width="0.25" letter-spacing="0.715" xml:space="preserve" >6.3e10</text>
<text transform="translate(677.25,180.90) scale(1.299,1)" font-size="13.7" font-family="Liberation Serif, serif" font-weight="normal" fill="#000" stroke="#000" stroke-width="0.12" letter-spacing="0.000" xml:space="preserve" >h</text>
<text transform="translate(687.55,176.30) scale(0.969,1)" font-size="9.6" font-family="Liberation Serif, serif" font-weight="bold" fill="#000" stroke="#000" stroke-width="0.00" letter-spacing="0.000" xml:space="preserve" >−</text>
<text transform="translate(694.35,175.00) scale(0.792,1)" font-size="9.6" font-family="Liberation Serif, serif" font-weight="bold" fill="#000" stroke="#000" stroke-width="0.00" letter-spacing="0.000" xml:space="preserve" >1</text>
<text transform="translate(698.85,180.90) scale(0.834,1)" font-size="13.6" font-family="Liberation Serif, serif" font-weight="normal" fill="#000" stroke="#000" stroke-width="0.38" letter-spacing="0.000" xml:space="preserve" >M</text>
<circle cx="713.45" cy="181.4" r="2.85" fill="none" stroke="#000" stroke-width="0.95"/><circle cx="713.45" cy="181.4" r="0.85" fill="#000"/>
<text transform="translate(127.30,285.60) scale(1.040,1)" font-size="14.5" font-family="Liberation Serif, serif" font-weight="normal" fill="#ff0000" stroke="#ff0000" stroke-width="0.23" letter-spacing="0.000" xml:space="preserve" >R</text>
<text transform="translate(137.90,289.20) scale(1.063,1)" font-size="10" font-family="Liberation Serif, serif" font-weight="bold" fill="#ff0000" stroke="#ff0000" stroke-width="0.00" letter-spacing="0.000" xml:space="preserve" >h</text>
<text transform="translate(280.90,285.60) scale(1.040,1)" font-size="14.5" font-family="Liberation Serif, serif" font-weight="normal" fill="#ff0000" stroke="#ff0000" stroke-width="0.23" letter-spacing="0.000" xml:space="preserve" >R</text>
<text transform="translate(291.50,289.20) scale(1.063,1)" font-size="10" font-family="Liberation Serif, serif" font-weight="bold" fill="#ff0000" stroke="#ff0000" stroke-width="0.00" letter-spacing="0.000" xml:space="preserve" >h</text>
<text transform="translate(436.40,285.60) scale(1.040,1)" font-size="14.5" font-family="Liberation Serif, serif" font-weight="normal" fill="#ff0000" stroke="#ff0000" stroke-width="0.23" letter-spacing="0.000" xml:space="preserve" >R</text>
<text transform="translate(447.00,289.20) scale(1.063,1)" font-size="10" font-family="Liberation Serif, serif" font-weight="bold" fill="#ff0000" stroke="#ff0000" stroke-width="0.00" letter-spacing="0.000" xml:space="preserve" >h</text>
<text transform="translate(598.90,285.60) scale(1.040,1)" font-size="14.5" font-family="Liberation Serif, serif" font-weight="normal" fill="#ff0000" stroke="#ff0000" stroke-width="0.23" letter-spacing="0.000" xml:space="preserve" >R</text>
<text transform="translate(609.50,289.20) scale(1.063,1)" font-size="10" font-family="Liberation Serif, serif" font-weight="bold" fill="#ff0000" stroke="#ff0000" stroke-width="0.00" letter-spacing="0.000" xml:space="preserve" >h</text>
</svg>
</div>
</body></html>
